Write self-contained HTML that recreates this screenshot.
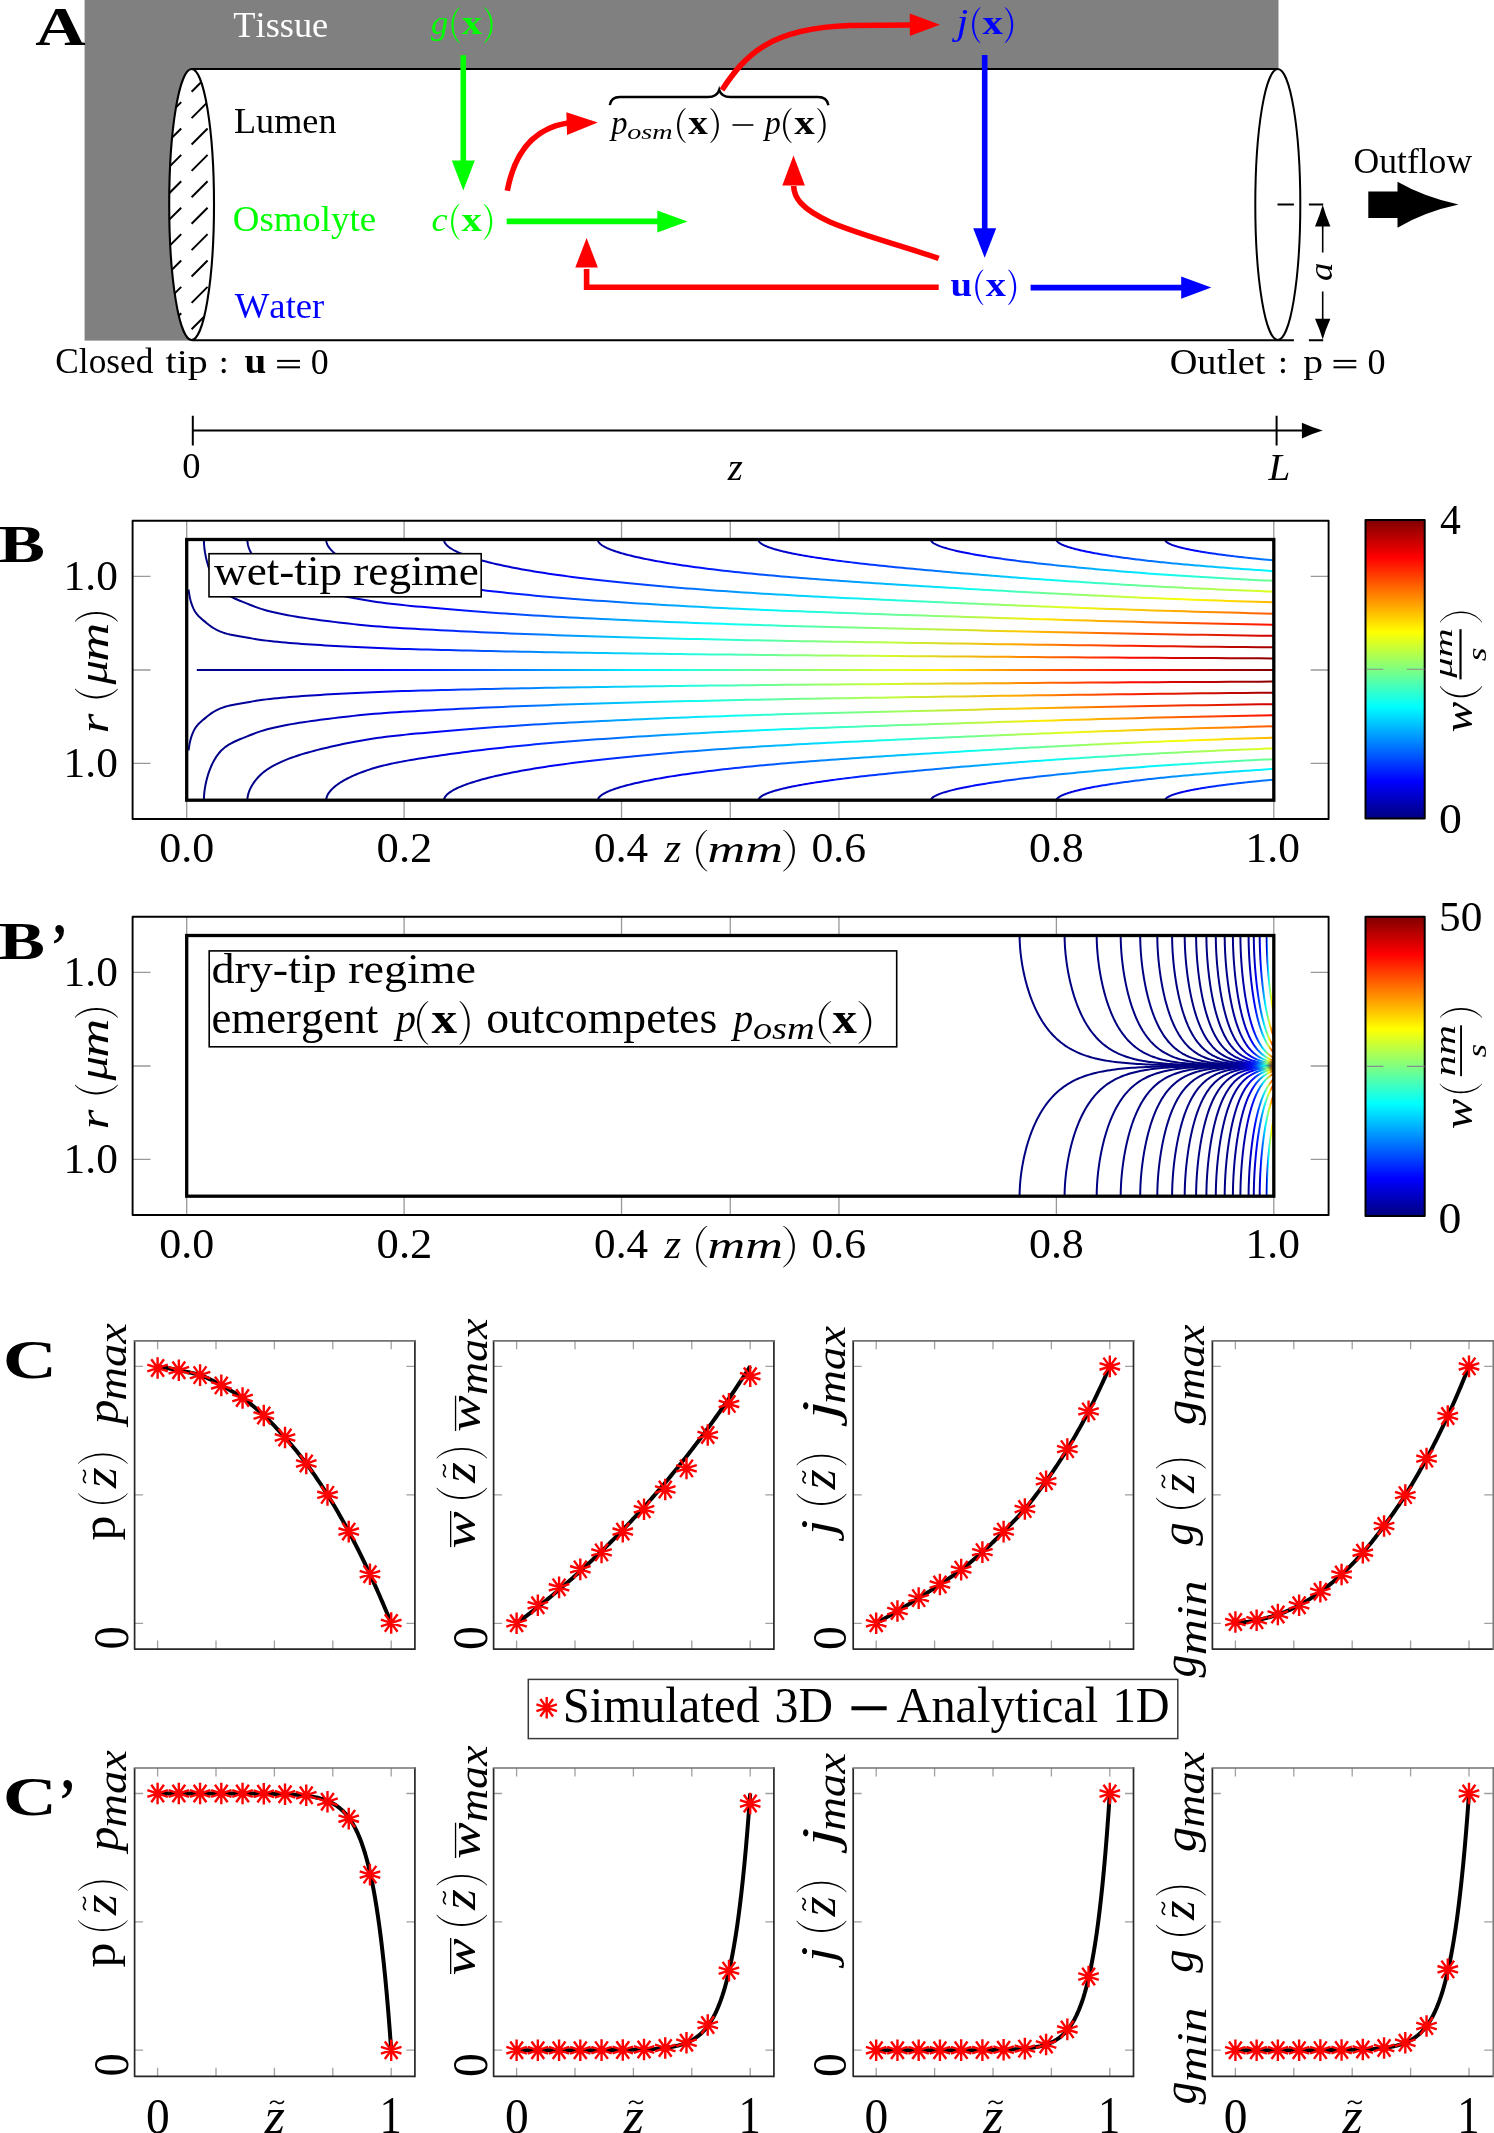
<!DOCTYPE html>
<html><head><meta charset="utf-8"><style>
html,body{margin:0;padding:0;background:#fff;width:1494px;height:2133px;overflow:hidden}
svg{display:block;will-change:transform;font-family:"Liberation Serif",serif;font-kerning:none}
text{font-kerning:none}
</style></head><body>
<svg width="1494" height="2133" viewBox="0 0 1494 2133">
<rect width="1494" height="2133" fill="#fff"/>
<rect x="84.6" y="0" width="1193.9" height="340.6" fill="#808080"/>
<rect x="191.5" y="69" width="1087.7" height="271" fill="#fff"/>
<defs><clipPath id="ce"><ellipse cx="191.6" cy="204.5" rx="22.4" ry="135.5"/></clipPath></defs>
<ellipse cx="191.6" cy="204.5" rx="22.4" ry="135.5" fill="#fff"/>
<path clip-path="url(#ce)" d="M165.2 38.9l16 -16M191.6 38.9l16 -16M165.2 65.3l16 -16M191.6 65.3l16 -16M165.2 91.7l16 -16M191.6 91.7l16 -16M165.2 118.1l16 -16M191.6 118.1l16 -16M165.2 144.5l16 -16M191.6 144.5l16 -16M165.2 170.9l16 -16M191.6 170.9l16 -16M165.2 197.3l16 -16M191.6 197.3l16 -16M165.2 223.7l16 -16M191.6 223.7l16 -16M165.2 250.1l16 -16M191.6 250.1l16 -16M165.2 276.5l16 -16M191.6 276.5l16 -16M165.2 302.9l16 -16M191.6 302.9l16 -16M165.2 329.3l16 -16M191.6 329.3l16 -16M165.2 355.7l16 -16M191.6 355.7l16 -16M165.2 382.1l16 -16M191.6 382.1l16 -16" stroke="#000" stroke-width="2" fill="none"/>
<ellipse cx="191.6" cy="204.5" rx="22.4" ry="135.5" fill="none" stroke="#000" stroke-width="2.1"/>
<ellipse cx="1277.8" cy="204.5" rx="22.5" ry="135.5" fill="none" stroke="#000" stroke-width="2"/>
<path d="M191.6 69H1277.8M191.6 340.2H1277.8" stroke="#000" stroke-width="2"/>
<path d="M1277.5 340.2H1323.2M1277.5 204.6H1323.2" stroke="#000" stroke-width="2" stroke-dasharray="16.4 15"/>
<path d="M1322.7 222V252.5M1322.7 291.6V323" stroke="#000" stroke-width="1.6"/>
<path d="M1322.7 204.8Q1325.39 214.56 1330.4 226.5L1315 226.5Q1320.01 214.56 1322.7 204.8Z" fill="#000"/>
<path d="M1322.7 339.4Q1320.01 330.13 1315 318.8L1330.4 318.8Q1325.39 330.13 1322.7 339.4Z" fill="#000"/>
<text transform="translate(1331.55,281.1) rotate(-90) scale(1.0716,1)" font-size="34.51" font-style="italic">a</text>
<path d="M1368.3 191.4H1397.5V181.8Q1424 197 1458.5 204.6Q1424 212 1397.5 227.8V217.9H1368.3Z" fill="#000"/>
<text transform="translate(1353.54,173.44) scale(0.9697,1)" font-size="36.70">Outflow</text>
<text transform="translate(233.34,37.45) scale(1.0011,1)" font-size="36.32" fill="#fff">Tissue</text>
<text transform="translate(233.96,133.06) scale(1.0286,1)" font-size="35.21">Lumen</text>
<text transform="translate(232.79,230.5) scale(1.0105,1)" font-size="36.46" fill="#00ff00">Osmolyte</text>
<text transform="translate(234.76,317.86) scale(1.0321,1)" font-size="35.53" fill="#0000ff">Water</text>
<text transform="translate(55.35,373.45) scale(0.9887,1)" font-size="35.67">Closed</text>
<text transform="translate(165.61,373.4) scale(1.2157,1)" font-size="32.93">tip</text>
<circle cx="223.7" cy="359.9" r="2.15"/><circle cx="223.7" cy="371.1" r="2.15"/>
<text transform="translate(244.41,373.07) scale(1.1164,1)" font-size="35.02" font-weight="bold">u</text>
<rect x="277.1" y="359.9" width="22.9" height="2"/><rect x="277.1" y="366.3" width="22.9" height="2"/>
<text transform="translate(310.63,374.06) scale(1.0211,1)" font-size="35.12">0</text>
<text transform="translate(1169.63,373.54) scale(1.0412,1)" font-size="36.81">Outlet</text>
<circle cx="1282.9" cy="359.9" r="2.15"/><circle cx="1282.9" cy="371.1" r="2.15"/>
<text transform="translate(1303.16,373.4) scale(1.1800,1)" font-size="33.53">p</text>
<rect x="1333.5" y="359.9" width="22.8" height="2"/><rect x="1333.5" y="366.3" width="22.8" height="2"/>
<text transform="translate(1367.43,374.05) scale(1.0193,1)" font-size="35.42">0</text>
<text transform="translate(430.88,34.04) scale(1.0303,1)" font-size="33.65" font-style="italic" fill="#00ff00">g</text>
<path d="M459.01 7.5C449 15.27 449 35.03 459.01 42.8L460.1 42.8C451.55 35.03 451.55 15.27 460.1 7.5Z" fill="#00ff00"/>
<text transform="translate(461.84,34) scale(1.1840,1)" font-size="34.42" font-weight="bold" fill="#00ff00">x</text>
<path d="M484.99 7.5C495.27 15.27 495.27 35.03 484.99 42.8L483.9 42.8C492.72 35.03 492.72 15.27 483.9 7.5Z" fill="#00ff00"/>
<text transform="translate(431.58,230.77) scale(1.0840,1)" font-size="33.47" font-style="italic" fill="#00ff00">c</text>
<path d="M458.61 204.2C448.6 211.97 448.6 231.73 458.61 239.5L459.7 239.5C451.15 231.73 451.15 211.97 459.7 204.2Z" fill="#00ff00"/>
<text transform="translate(461.44,230.7) scale(1.1840,1)" font-size="34.42" font-weight="bold" fill="#00ff00">x</text>
<path d="M484.59 204.2C494.87 211.97 494.87 231.73 484.59 239.5L483.5 239.5C492.32 231.73 492.32 211.97 483.5 204.2Z" fill="#00ff00"/>
<text transform="translate(956.51,33.78) scale(1.2101,1)" font-size="34.86" font-style="italic" fill="#0000ff">j</text>
<path d="M979.61 7.5C969.6 15.27 969.6 35.03 979.61 42.8L980.7 42.8C972.15 35.03 972.15 15.27 980.7 7.5Z" fill="#0000ff"/>
<text transform="translate(982.44,34) scale(1.1840,1)" font-size="34.42" font-weight="bold" fill="#0000ff">x</text>
<path d="M1005.59 7.5C1015.87 15.27 1015.87 35.03 1005.59 42.8L1004.5 42.8C1013.32 35.03 1013.32 15.27 1004.5 7.5Z" fill="#0000ff"/>
<text transform="translate(950.61,296.08) scale(1.1245,1)" font-size="34.59" font-weight="bold" fill="#0000ff">u</text>
<path d="M982.51 269.8C972.89 277.5 972.89 297.1 982.51 304.8L983.6 304.8C975.43 297.1 975.43 277.5 983.6 269.8Z" fill="#0000ff"/>
<text transform="translate(985.84,296.3) scale(1.1721,1)" font-size="34.42" font-weight="bold" fill="#0000ff">x</text>
<path d="M1008.99 269.8C1018.61 277.5 1018.61 297.1 1008.99 304.8L1007.9 304.8C1016.07 297.1 1016.07 277.5 1007.9 269.8Z" fill="#0000ff"/>
<text transform="translate(611.21,133.95) scale(0.9558,1)" font-size="34.06" font-style="italic">p</text>
<text transform="translate(627.26,138.59) scale(1.3037,1)" font-size="21.62" font-style="italic">osm</text>
<path d="M684.93 108.3C674.49 115.89 674.49 135.21 684.93 142.8L686 142.8C676.99 135.21 676.99 115.89 686 108.3Z"/>
<text transform="translate(688.25,134) scale(1.1737,1)" font-size="33.33" font-weight="bold">x</text>
<path d="M711.07 108.3C721.51 115.89 721.51 135.21 711.07 142.8L710 142.8C719.01 135.21 719.01 115.89 710 108.3Z"/>
<rect x="732.5" y="124.2" width="20.9" height="1.6"/>
<text transform="translate(764.87,133.95) scale(0.9392,1)" font-size="34.06" font-style="italic">p</text>
<path d="M790.93 108.3C780.49 115.89 780.49 135.21 790.93 142.8L792 142.8C782.99 135.21 782.99 115.89 792 108.3Z"/>
<text transform="translate(794.24,134) scale(1.2288,1)" font-size="33.33" font-weight="bold">x</text>
<path d="M817.97 108.3C828.28 115.89 828.28 135.21 817.97 142.8L816.9 142.8C825.78 135.21 825.78 115.89 816.9 108.3Z"/>
<path d="M609.8 105.2Q611 97 620 97H708Q717 97 719.2 89.8Q721.4 97 730.4 97H818Q827 97 828.4 105.2" fill="none" stroke="#000" stroke-width="2.4"/>
<path d="M463.3 55.2V162" stroke="#00ff00" stroke-width="5.6"/>
<path d="M463.3 190.4L451.8 160.6L474.8 160.6Z" fill="#00ff00"/>
<path d="M506.7 221.4H659" stroke="#00ff00" stroke-width="5.6"/>
<path d="M687.5 221.4L657.3 232.4L657.3 210.4Z" fill="#00ff00"/>
<path d="M984.7 55V230" stroke="#0000ff" stroke-width="5.6"/>
<path d="M984.7 257.8L973.2 228.3L996.2 228.3Z" fill="#0000ff"/>
<path d="M1030.6 287.6H1183" stroke="#0000ff" stroke-width="5.6"/>
<path d="M1211.3 287.6L1181.2 298.8L1181.2 276.4Z" fill="#0000ff"/>
<path d="M507.3 190.7C515 150 535 128 568 123" fill="none" stroke="#ff0000" stroke-width="5.6"/>
<path d="M597.8 122.6L567.06 134.89L566.34 112.31Z" fill="#ff0000"/>
<path d="M722 90C745 55 770 28 850 25.5L912 25" fill="none" stroke="#ff0000" stroke-width="5.6"/>
<path d="M940 24.7L909.84 36.1L909.76 13.5Z" fill="#ff0000"/>
<path d="M938.7 287.3H586.6V269" fill="none" stroke="#ff0000" stroke-width="5.6"/>
<path d="M586.6 238L597.9 267.5L575.3 267.5Z" fill="#ff0000"/>
<path d="M938.7 258.4C900 245 860 235 830 222C800 208 794 197 793.7 186" fill="none" stroke="#ff0000" stroke-width="5.6"/>
<path d="M793.5 155.4L804.9 185.46L782.3 185.54Z" fill="#ff0000"/>
<text transform="translate(35.22,44.7) scale(1.2903,1)" font-size="54.08" font-weight="bold">A</text>
<path d="M192.8 430.6H1305M192.8 415.8V445.5M1276.6 415.8V445.5" stroke="#000" stroke-width="2"/>
<path d="M1322.7 430.6Q1313.34 433.33 1301.9 438.4L1301.9 422.8Q1313.34 427.87 1322.7 430.6Z" fill="#000"/>
<text transform="translate(182.31,478.45) scale(1.0240,1)" font-size="35.71">0</text>
<text transform="translate(727.74,480.4) scale(0.9989,1)" font-size="38.78" font-style="italic">z</text>
<text transform="translate(1268.46,479.8) scale(1.0348,1)" font-size="37.88" font-style="italic">L</text>
<path d="M186.7 520.7v17.8M186.7 819v-17.8M404.12 520.7v17.8M404.12 819v-17.8M621.54 520.7v17.8M621.54 819v-17.8M730.25 520.7v17.8M730.25 819v-17.8M838.96 520.7v17.8M838.96 819v-17.8M1056.38 520.7v17.8M1056.38 819v-17.8M1273.8 520.7v17.8M1273.8 819v-17.8M132.6 576.3h17.9M1328.6 576.3h-17.9M132.6 670h17.9M1328.6 670h-17.9M132.6 763.4h17.9M1328.6 763.4h-17.9" stroke="#999" stroke-width="1.3" fill="none"/>
<rect x="132.6" y="520.7" width="1196" height="298.3" fill="none" stroke="#000" stroke-width="1.9" stroke-linejoin="round"/>
<defs><clipPath id="cB"><rect x="186.7" y="539.5" width="1087.1" height="260.7"/></clipPath><clipPath id="cB2"><rect x="186.7" y="935.5" width="1087.1" height="260.7"/></clipPath></defs>
<g clip-path="url(#cB)"><defs><linearGradient id="w0" gradientUnits="userSpaceOnUse" x1="188.55" y1="0" x2="1273.8" y2="0"><stop offset="0.000" stop-color="#000080"/><stop offset="0.002" stop-color="#000081"/><stop offset="0.008" stop-color="#000084"/><stop offset="0.022" stop-color="#00008a"/><stop offset="0.040" stop-color="#000093"/><stop offset="0.065" stop-color="#0000a0"/><stop offset="0.101" stop-color="#0000b2"/><stop offset="0.140" stop-color="#0000d1"/><stop offset="0.186" stop-color="#0000f6"/><stop offset="0.246" stop-color="#0035ff"/><stop offset="0.307" stop-color="#0079ff"/><stop offset="0.377" stop-color="#00c3ff"/><stop offset="0.463" stop-color="#1fffe0"/><stop offset="0.548" stop-color="#77ff88"/><stop offset="0.642" stop-color="#d0ff2f"/><stop offset="0.756" stop-color="#ff9800"/><stop offset="0.867" stop-color="#ff0700"/><stop offset="1.000" stop-color="#890000"/></linearGradient><linearGradient id="w1" gradientUnits="userSpaceOnUse" x1="188.55" y1="0" x2="1273.8" y2="0"><stop offset="0.000" stop-color="#000080"/><stop offset="0.002" stop-color="#000081"/><stop offset="0.008" stop-color="#000084"/><stop offset="0.022" stop-color="#00008a"/><stop offset="0.040" stop-color="#000093"/><stop offset="0.065" stop-color="#0000a0"/><stop offset="0.101" stop-color="#0000b2"/><stop offset="0.140" stop-color="#0000d1"/><stop offset="0.186" stop-color="#0000f6"/><stop offset="0.246" stop-color="#0035ff"/><stop offset="0.307" stop-color="#0079ff"/><stop offset="0.377" stop-color="#00c3ff"/><stop offset="0.463" stop-color="#1fffe0"/><stop offset="0.548" stop-color="#77ff88"/><stop offset="0.642" stop-color="#d0ff2f"/><stop offset="0.756" stop-color="#ff9800"/><stop offset="0.867" stop-color="#ff0700"/><stop offset="1.000" stop-color="#890000"/></linearGradient><linearGradient id="w2" gradientUnits="userSpaceOnUse" x1="203.9" y1="0" x2="1273.8" y2="0"><stop offset="0.000" stop-color="#000080"/><stop offset="0.002" stop-color="#000082"/><stop offset="0.008" stop-color="#000085"/><stop offset="0.022" stop-color="#00008b"/><stop offset="0.040" stop-color="#000094"/><stop offset="0.065" stop-color="#00009f"/><stop offset="0.101" stop-color="#0000b4"/><stop offset="0.140" stop-color="#0000d1"/><stop offset="0.186" stop-color="#0000f4"/><stop offset="0.246" stop-color="#0032ff"/><stop offset="0.307" stop-color="#0072ff"/><stop offset="0.377" stop-color="#00baff"/><stop offset="0.463" stop-color="#12ffed"/><stop offset="0.548" stop-color="#67ff98"/><stop offset="0.642" stop-color="#bfff40"/><stop offset="0.756" stop-color="#ffac00"/><stop offset="0.867" stop-color="#ff1f00"/><stop offset="1.000" stop-color="#a30000"/></linearGradient><linearGradient id="w3" gradientUnits="userSpaceOnUse" x1="203.9" y1="0" x2="1273.8" y2="0"><stop offset="0.000" stop-color="#000080"/><stop offset="0.002" stop-color="#000082"/><stop offset="0.008" stop-color="#000085"/><stop offset="0.022" stop-color="#00008b"/><stop offset="0.040" stop-color="#000094"/><stop offset="0.065" stop-color="#00009f"/><stop offset="0.101" stop-color="#0000b4"/><stop offset="0.140" stop-color="#0000d1"/><stop offset="0.186" stop-color="#0000f4"/><stop offset="0.246" stop-color="#0032ff"/><stop offset="0.307" stop-color="#0072ff"/><stop offset="0.377" stop-color="#00baff"/><stop offset="0.463" stop-color="#12ffed"/><stop offset="0.548" stop-color="#67ff98"/><stop offset="0.642" stop-color="#bfff40"/><stop offset="0.756" stop-color="#ffac00"/><stop offset="0.867" stop-color="#ff1f00"/><stop offset="1.000" stop-color="#a30000"/></linearGradient><linearGradient id="w4" gradientUnits="userSpaceOnUse" x1="247.4" y1="0" x2="1273.8" y2="0"><stop offset="0.000" stop-color="#000081"/><stop offset="0.002" stop-color="#000084"/><stop offset="0.008" stop-color="#000088"/><stop offset="0.022" stop-color="#00008f"/><stop offset="0.040" stop-color="#000097"/><stop offset="0.065" stop-color="#0000a5"/><stop offset="0.101" stop-color="#0000bc"/><stop offset="0.140" stop-color="#0000d7"/><stop offset="0.186" stop-color="#0000fd"/><stop offset="0.246" stop-color="#0036ff"/><stop offset="0.307" stop-color="#0070ff"/><stop offset="0.377" stop-color="#00b2ff"/><stop offset="0.463" stop-color="#04fffb"/><stop offset="0.548" stop-color="#52ffad"/><stop offset="0.642" stop-color="#a5ff5a"/><stop offset="0.756" stop-color="#ffc900"/><stop offset="0.867" stop-color="#ff4600"/><stop offset="1.000" stop-color="#d00000"/></linearGradient><linearGradient id="w5" gradientUnits="userSpaceOnUse" x1="247.4" y1="0" x2="1273.8" y2="0"><stop offset="0.000" stop-color="#000081"/><stop offset="0.002" stop-color="#000084"/><stop offset="0.008" stop-color="#000088"/><stop offset="0.022" stop-color="#00008f"/><stop offset="0.040" stop-color="#000097"/><stop offset="0.065" stop-color="#0000a5"/><stop offset="0.101" stop-color="#0000bc"/><stop offset="0.140" stop-color="#0000d7"/><stop offset="0.186" stop-color="#0000fd"/><stop offset="0.246" stop-color="#0036ff"/><stop offset="0.307" stop-color="#0070ff"/><stop offset="0.377" stop-color="#00b2ff"/><stop offset="0.463" stop-color="#04fffb"/><stop offset="0.548" stop-color="#52ffad"/><stop offset="0.642" stop-color="#a5ff5a"/><stop offset="0.756" stop-color="#ffc900"/><stop offset="0.867" stop-color="#ff4600"/><stop offset="1.000" stop-color="#d00000"/></linearGradient><linearGradient id="w6" gradientUnits="userSpaceOnUse" x1="326.19" y1="0" x2="1273.8" y2="0"><stop offset="0.000" stop-color="#000083"/><stop offset="0.002" stop-color="#000087"/><stop offset="0.008" stop-color="#00008e"/><stop offset="0.022" stop-color="#000098"/><stop offset="0.040" stop-color="#0000a4"/><stop offset="0.065" stop-color="#0000b4"/><stop offset="0.101" stop-color="#0000cb"/><stop offset="0.140" stop-color="#0000e8"/><stop offset="0.186" stop-color="#000eff"/><stop offset="0.246" stop-color="#003fff"/><stop offset="0.307" stop-color="#0073ff"/><stop offset="0.377" stop-color="#00aeff"/><stop offset="0.463" stop-color="#00f6ff"/><stop offset="0.548" stop-color="#3cffc3"/><stop offset="0.642" stop-color="#89ff76"/><stop offset="0.756" stop-color="#ffec00"/><stop offset="0.867" stop-color="#ff7900"/><stop offset="1.000" stop-color="#ff0c00"/></linearGradient><linearGradient id="w7" gradientUnits="userSpaceOnUse" x1="326.19" y1="0" x2="1273.8" y2="0"><stop offset="0.000" stop-color="#000083"/><stop offset="0.002" stop-color="#000087"/><stop offset="0.008" stop-color="#00008e"/><stop offset="0.022" stop-color="#000098"/><stop offset="0.040" stop-color="#0000a4"/><stop offset="0.065" stop-color="#0000b4"/><stop offset="0.101" stop-color="#0000cb"/><stop offset="0.140" stop-color="#0000e8"/><stop offset="0.186" stop-color="#000eff"/><stop offset="0.246" stop-color="#003fff"/><stop offset="0.307" stop-color="#0073ff"/><stop offset="0.377" stop-color="#00aeff"/><stop offset="0.463" stop-color="#00f6ff"/><stop offset="0.548" stop-color="#3cffc3"/><stop offset="0.642" stop-color="#89ff76"/><stop offset="0.756" stop-color="#ffec00"/><stop offset="0.867" stop-color="#ff7900"/><stop offset="1.000" stop-color="#ff0c00"/></linearGradient><linearGradient id="w8" gradientUnits="userSpaceOnUse" x1="443.99" y1="0" x2="1273.8" y2="0"><stop offset="0.000" stop-color="#000087"/><stop offset="0.002" stop-color="#00008d"/><stop offset="0.008" stop-color="#000096"/><stop offset="0.022" stop-color="#0000a3"/><stop offset="0.040" stop-color="#0000b2"/><stop offset="0.065" stop-color="#0000c6"/><stop offset="0.101" stop-color="#0000e0"/><stop offset="0.140" stop-color="#0000fc"/><stop offset="0.186" stop-color="#001fff"/><stop offset="0.246" stop-color="#004aff"/><stop offset="0.307" stop-color="#0077ff"/><stop offset="0.377" stop-color="#00a9ff"/><stop offset="0.463" stop-color="#00e5ff"/><stop offset="0.548" stop-color="#21ffde"/><stop offset="0.642" stop-color="#76ff89"/><stop offset="0.756" stop-color="#e9ff16"/><stop offset="0.867" stop-color="#ffb600"/><stop offset="1.000" stop-color="#ff5800"/></linearGradient><linearGradient id="w9" gradientUnits="userSpaceOnUse" x1="443.99" y1="0" x2="1273.8" y2="0"><stop offset="0.000" stop-color="#000087"/><stop offset="0.002" stop-color="#00008d"/><stop offset="0.008" stop-color="#000096"/><stop offset="0.022" stop-color="#0000a3"/><stop offset="0.040" stop-color="#0000b2"/><stop offset="0.065" stop-color="#0000c6"/><stop offset="0.101" stop-color="#0000e0"/><stop offset="0.140" stop-color="#0000fc"/><stop offset="0.186" stop-color="#001fff"/><stop offset="0.246" stop-color="#004aff"/><stop offset="0.307" stop-color="#0077ff"/><stop offset="0.377" stop-color="#00a9ff"/><stop offset="0.463" stop-color="#00e5ff"/><stop offset="0.548" stop-color="#21ffde"/><stop offset="0.642" stop-color="#76ff89"/><stop offset="0.756" stop-color="#e9ff16"/><stop offset="0.867" stop-color="#ffb600"/><stop offset="1.000" stop-color="#ff5800"/></linearGradient><linearGradient id="w10" gradientUnits="userSpaceOnUse" x1="597.89" y1="0" x2="1273.8" y2="0"><stop offset="0.000" stop-color="#00008b"/><stop offset="0.002" stop-color="#000093"/><stop offset="0.008" stop-color="#00009f"/><stop offset="0.022" stop-color="#0000b0"/><stop offset="0.040" stop-color="#0000c1"/><stop offset="0.065" stop-color="#0000d6"/><stop offset="0.101" stop-color="#0000f0"/><stop offset="0.140" stop-color="#000bff"/><stop offset="0.186" stop-color="#002aff"/><stop offset="0.246" stop-color="#004fff"/><stop offset="0.307" stop-color="#0074ff"/><stop offset="0.377" stop-color="#009cff"/><stop offset="0.463" stop-color="#00cdff"/><stop offset="0.548" stop-color="#0dfff2"/><stop offset="0.642" stop-color="#5affa5"/><stop offset="0.756" stop-color="#b3ff4c"/><stop offset="0.867" stop-color="#fcff03"/><stop offset="1.000" stop-color="#ffb500"/></linearGradient><linearGradient id="w11" gradientUnits="userSpaceOnUse" x1="597.89" y1="0" x2="1273.8" y2="0"><stop offset="0.000" stop-color="#00008b"/><stop offset="0.002" stop-color="#000093"/><stop offset="0.008" stop-color="#00009f"/><stop offset="0.022" stop-color="#0000b0"/><stop offset="0.040" stop-color="#0000c1"/><stop offset="0.065" stop-color="#0000d6"/><stop offset="0.101" stop-color="#0000f0"/><stop offset="0.140" stop-color="#000bff"/><stop offset="0.186" stop-color="#002aff"/><stop offset="0.246" stop-color="#004fff"/><stop offset="0.307" stop-color="#0074ff"/><stop offset="0.377" stop-color="#009cff"/><stop offset="0.463" stop-color="#00cdff"/><stop offset="0.548" stop-color="#0dfff2"/><stop offset="0.642" stop-color="#5affa5"/><stop offset="0.756" stop-color="#b3ff4c"/><stop offset="0.867" stop-color="#fcff03"/><stop offset="1.000" stop-color="#ffb500"/></linearGradient><linearGradient id="w12" gradientUnits="userSpaceOnUse" x1="758.49" y1="0" x2="1273.8" y2="0"><stop offset="0.000" stop-color="#000090"/><stop offset="0.002" stop-color="#000098"/><stop offset="0.008" stop-color="#0000a5"/><stop offset="0.022" stop-color="#0000b5"/><stop offset="0.040" stop-color="#0000c6"/><stop offset="0.065" stop-color="#0000d9"/><stop offset="0.101" stop-color="#0000f1"/><stop offset="0.140" stop-color="#0009ff"/><stop offset="0.186" stop-color="#0022ff"/><stop offset="0.246" stop-color="#0041ff"/><stop offset="0.307" stop-color="#0061ff"/><stop offset="0.377" stop-color="#0089ff"/><stop offset="0.463" stop-color="#00bfff"/><stop offset="0.548" stop-color="#00f5ff"/><stop offset="0.642" stop-color="#31ffce"/><stop offset="0.756" stop-color="#70ff8f"/><stop offset="0.867" stop-color="#a7ff58"/><stop offset="1.000" stop-color="#e4ff1b"/></linearGradient><linearGradient id="w13" gradientUnits="userSpaceOnUse" x1="758.49" y1="0" x2="1273.8" y2="0"><stop offset="0.000" stop-color="#000090"/><stop offset="0.002" stop-color="#000098"/><stop offset="0.008" stop-color="#0000a5"/><stop offset="0.022" stop-color="#0000b5"/><stop offset="0.040" stop-color="#0000c6"/><stop offset="0.065" stop-color="#0000d9"/><stop offset="0.101" stop-color="#0000f1"/><stop offset="0.140" stop-color="#0009ff"/><stop offset="0.186" stop-color="#0022ff"/><stop offset="0.246" stop-color="#0041ff"/><stop offset="0.307" stop-color="#0061ff"/><stop offset="0.377" stop-color="#0089ff"/><stop offset="0.463" stop-color="#00bfff"/><stop offset="0.548" stop-color="#00f5ff"/><stop offset="0.642" stop-color="#31ffce"/><stop offset="0.756" stop-color="#70ff8f"/><stop offset="0.867" stop-color="#a7ff58"/><stop offset="1.000" stop-color="#e4ff1b"/></linearGradient><linearGradient id="w14" gradientUnits="userSpaceOnUse" x1="930.98" y1="0" x2="1273.8" y2="0"><stop offset="0.000" stop-color="#000094"/><stop offset="0.002" stop-color="#00009c"/><stop offset="0.008" stop-color="#0000a8"/><stop offset="0.022" stop-color="#0000b8"/><stop offset="0.040" stop-color="#0000c8"/><stop offset="0.065" stop-color="#0000db"/><stop offset="0.101" stop-color="#0000f2"/><stop offset="0.140" stop-color="#000aff"/><stop offset="0.186" stop-color="#0024ff"/><stop offset="0.246" stop-color="#0043ff"/><stop offset="0.307" stop-color="#0062ff"/><stop offset="0.377" stop-color="#0083ff"/><stop offset="0.463" stop-color="#00abff"/><stop offset="0.548" stop-color="#00d0ff"/><stop offset="0.642" stop-color="#00f6ff"/><stop offset="0.756" stop-color="#21ffde"/><stop offset="0.867" stop-color="#47ffb8"/><stop offset="1.000" stop-color="#72ff8d"/></linearGradient><linearGradient id="w15" gradientUnits="userSpaceOnUse" x1="930.98" y1="0" x2="1273.8" y2="0"><stop offset="0.000" stop-color="#000094"/><stop offset="0.002" stop-color="#00009c"/><stop offset="0.008" stop-color="#0000a8"/><stop offset="0.022" stop-color="#0000b8"/><stop offset="0.040" stop-color="#0000c8"/><stop offset="0.065" stop-color="#0000db"/><stop offset="0.101" stop-color="#0000f2"/><stop offset="0.140" stop-color="#000aff"/><stop offset="0.186" stop-color="#0024ff"/><stop offset="0.246" stop-color="#0043ff"/><stop offset="0.307" stop-color="#0062ff"/><stop offset="0.377" stop-color="#0083ff"/><stop offset="0.463" stop-color="#00abff"/><stop offset="0.548" stop-color="#00d0ff"/><stop offset="0.642" stop-color="#00f6ff"/><stop offset="0.756" stop-color="#21ffde"/><stop offset="0.867" stop-color="#47ffb8"/><stop offset="1.000" stop-color="#72ff8d"/></linearGradient><linearGradient id="w16" gradientUnits="userSpaceOnUse" x1="1056.58" y1="0" x2="1273.8" y2="0"><stop offset="0.000" stop-color="#000098"/><stop offset="0.002" stop-color="#0000a0"/><stop offset="0.008" stop-color="#0000ab"/><stop offset="0.022" stop-color="#0000ba"/><stop offset="0.040" stop-color="#0000c9"/><stop offset="0.065" stop-color="#0000d9"/><stop offset="0.101" stop-color="#0000ed"/><stop offset="0.140" stop-color="#0002ff"/><stop offset="0.186" stop-color="#0017ff"/><stop offset="0.246" stop-color="#002fff"/><stop offset="0.307" stop-color="#0046ff"/><stop offset="0.377" stop-color="#005eff"/><stop offset="0.463" stop-color="#0079ff"/><stop offset="0.548" stop-color="#0092ff"/><stop offset="0.642" stop-color="#00acff"/><stop offset="0.756" stop-color="#00c9ff"/><stop offset="0.867" stop-color="#00e4ff"/><stop offset="1.000" stop-color="#04fffb"/></linearGradient><linearGradient id="w17" gradientUnits="userSpaceOnUse" x1="1056.58" y1="0" x2="1273.8" y2="0"><stop offset="0.000" stop-color="#000098"/><stop offset="0.002" stop-color="#0000a0"/><stop offset="0.008" stop-color="#0000ab"/><stop offset="0.022" stop-color="#0000ba"/><stop offset="0.040" stop-color="#0000c9"/><stop offset="0.065" stop-color="#0000d9"/><stop offset="0.101" stop-color="#0000ed"/><stop offset="0.140" stop-color="#0002ff"/><stop offset="0.186" stop-color="#0017ff"/><stop offset="0.246" stop-color="#002fff"/><stop offset="0.307" stop-color="#0046ff"/><stop offset="0.377" stop-color="#005eff"/><stop offset="0.463" stop-color="#0079ff"/><stop offset="0.548" stop-color="#0092ff"/><stop offset="0.642" stop-color="#00acff"/><stop offset="0.756" stop-color="#00c9ff"/><stop offset="0.867" stop-color="#00e4ff"/><stop offset="1.000" stop-color="#04fffb"/></linearGradient><linearGradient id="w18" gradientUnits="userSpaceOnUse" x1="1165.18" y1="0" x2="1273.8" y2="0"><stop offset="0.000" stop-color="#00009b"/><stop offset="0.002" stop-color="#0000a0"/><stop offset="0.008" stop-color="#0000a8"/><stop offset="0.022" stop-color="#0000b3"/><stop offset="0.040" stop-color="#0000bd"/><stop offset="0.065" stop-color="#0000c8"/><stop offset="0.101" stop-color="#0000d5"/><stop offset="0.140" stop-color="#0000e2"/><stop offset="0.186" stop-color="#0000ef"/><stop offset="0.246" stop-color="#0000fe"/><stop offset="0.307" stop-color="#000eff"/><stop offset="0.377" stop-color="#001cff"/><stop offset="0.463" stop-color="#002dff"/><stop offset="0.548" stop-color="#003dff"/><stop offset="0.642" stop-color="#004dff"/><stop offset="0.756" stop-color="#005fff"/><stop offset="0.867" stop-color="#0070ff"/><stop offset="1.000" stop-color="#0084ff"/></linearGradient><linearGradient id="w19" gradientUnits="userSpaceOnUse" x1="1165.18" y1="0" x2="1273.8" y2="0"><stop offset="0.000" stop-color="#00009b"/><stop offset="0.002" stop-color="#0000a0"/><stop offset="0.008" stop-color="#0000a8"/><stop offset="0.022" stop-color="#0000b3"/><stop offset="0.040" stop-color="#0000bd"/><stop offset="0.065" stop-color="#0000c8"/><stop offset="0.101" stop-color="#0000d5"/><stop offset="0.140" stop-color="#0000e2"/><stop offset="0.186" stop-color="#0000ef"/><stop offset="0.246" stop-color="#0000fe"/><stop offset="0.307" stop-color="#000eff"/><stop offset="0.377" stop-color="#001cff"/><stop offset="0.463" stop-color="#002dff"/><stop offset="0.548" stop-color="#003dff"/><stop offset="0.642" stop-color="#004dff"/><stop offset="0.756" stop-color="#005fff"/><stop offset="0.867" stop-color="#0070ff"/><stop offset="1.000" stop-color="#0084ff"/></linearGradient><linearGradient id="w20" gradientUnits="userSpaceOnUse" x1="196.8" y1="0" x2="1273.8" y2="0"><stop offset="0.000" stop-color="#000084"/><stop offset="0.051" stop-color="#00009e"/><stop offset="0.102" stop-color="#0000bb"/><stop offset="0.169" stop-color="#0000f2"/><stop offset="0.220" stop-color="#0024ff"/><stop offset="0.288" stop-color="#006fff"/><stop offset="0.339" stop-color="#00a6ff"/><stop offset="0.407" stop-color="#00efff"/><stop offset="0.458" stop-color="#25ffda"/><stop offset="0.525" stop-color="#6bff94"/><stop offset="0.576" stop-color="#9cff63"/><stop offset="0.644" stop-color="#ddff22"/><stop offset="0.695" stop-color="#ffe900"/><stop offset="0.763" stop-color="#ff8300"/><stop offset="0.814" stop-color="#ff3c00"/><stop offset="0.881" stop-color="#ed0000"/><stop offset="0.932" stop-color="#bb0000"/><stop offset="1.000" stop-color="#800000"/></linearGradient></defs><path d="M188.55 750.5 188.56 750.38 188.62 749.93 188.72 749.15 188.88 748.05 189.09 746.68 189.35 745.11 189.67 743.39 190.06 741.58 190.51 739.73 191.02 737.87 191.59 736.04 192.23 734.26 192.94 732.53 193.72 730.88 194.57 729.3 195.49 727.8 196.48 726.38 197.54 725.04 198.68 723.81 199.89 722.64 201.18 721.5 202.54 720.34 203.97 719.13 205.49 717.86 207.08 716.54 208.75 715.22 210.5 713.93 212.33 712.68 214.24 711.49 216.23 710.39 218.3 709.36 220.45 708.42 222.68 707.57 225 706.82 227.4 706.14 229.88 705.54 232.45 704.98 235.1 704.45 237.84 703.94 240.67 703.44 243.58 702.94 246.57 702.44 249.65 701.92 252.82 701.38 256.08 700.84 259.43 700.32 262.86 699.83 266.39 699.37 270 698.94 273.7 698.54 277.49 698.15 281.37 697.78 285.35 697.42 289.41 697.08 293.56 696.74 297.81 696.42 302.15 696.11 306.58 695.8 311.1 695.5 315.72 695.2 320.43 694.9 325.23 694.61 330.13 694.32 335.12 694.03 340.21 693.74 345.39 693.46 350.66 693.18 356.03 692.91 361.5 692.64 367.06 692.39 372.72 692.15 378.48 691.91 384.33 691.7 390.28 691.49 396.32 691.3 402.47 691.11 408.71 690.94 415.05 690.76 421.48 690.59 428.02 690.42 434.66 690.26 441.39 690.09 448.22 689.92 455.15 689.74 462.19 689.58 469.32 689.41 476.55 689.25 483.89 689.08 491.32 688.92 498.85 688.76 506.49 688.61 514.23 688.45 522.07 688.3 530.01 688.15 538.05 688 546.19 687.86 554.44 687.72 562.79 687.58 571.24 687.44 579.8 687.3 588.46 687.17 597.22 687.04 606.09 686.91 615.06 686.78 624.13 686.66 633.31 686.53 642.6 686.41 651.98 686.29 661.48 686.17 671.07 686.05 680.78 685.93 690.59 685.82 700.5 685.7 710.52 685.59 720.65 685.48 730.88 685.38 741.22 685.27 751.66 685.17 762.22 685.06 772.87 684.96 783.64 684.87 794.51 684.77 805.5 684.68 816.58 684.59 827.78 684.5 839.09 684.41 850.5 684.32 862.02 684.23 873.65 684.14 885.39 684.05 897.23 683.96 909.19 683.87 921.26 683.78 933.43 683.7 945.71 683.6 958.11 683.51 970.61 683.42 983.23 683.33 995.95 683.24 1008.78 683.14 1021.73 683.05 1034.78 682.96 1047.95 682.87 1061.23 682.78 1074.61 682.7 1088.11 682.61 1101.73 682.52 1115.45 682.43 1129.28 682.34 1143.23 682.26 1157.29 682.18 1171.46 682.1 1185.74 682.02 1200.13 681.95 1214.64 681.88 1229.26 681.81 1243.99 681.74 1258.84 681.67 1273.8 681.6" fill="none" stroke="url(#w0)" stroke-width="2.0"/><path d="M188.55 589.5 188.56 589.62 188.62 590.07 188.72 590.85 188.88 591.95 189.09 593.32 189.35 594.89 189.67 596.61 190.06 598.42 190.51 600.27 191.02 602.13 191.59 603.96 192.23 605.74 192.94 607.47 193.72 609.12 194.57 610.7 195.49 612.2 196.48 613.62 197.54 614.96 198.68 616.19 199.89 617.36 201.18 618.5 202.54 619.66 203.97 620.87 205.49 622.14 207.08 623.46 208.75 624.78 210.5 626.07 212.33 627.32 214.24 628.51 216.23 629.61 218.3 630.64 220.45 631.58 222.68 632.43 225 633.18 227.4 633.86 229.88 634.46 232.45 635.02 235.1 635.55 237.84 636.06 240.67 636.56 243.58 637.06 246.57 637.56 249.65 638.08 252.82 638.62 256.08 639.16 259.43 639.68 262.86 640.17 266.39 640.63 270 641.06 273.7 641.46 277.49 641.85 281.37 642.22 285.35 642.58 289.41 642.92 293.56 643.26 297.81 643.58 302.15 643.89 306.58 644.2 311.1 644.5 315.72 644.8 320.43 645.1 325.23 645.39 330.13 645.68 335.12 645.97 340.21 646.26 345.39 646.54 350.66 646.82 356.03 647.09 361.5 647.36 367.06 647.61 372.72 647.85 378.48 648.09 384.33 648.3 390.28 648.51 396.32 648.7 402.47 648.89 408.71 649.06 415.05 649.24 421.48 649.41 428.02 649.58 434.66 649.74 441.39 649.91 448.22 650.08 455.15 650.26 462.19 650.42 469.32 650.59 476.55 650.75 483.89 650.92 491.32 651.08 498.85 651.24 506.49 651.39 514.23 651.55 522.07 651.7 530.01 651.85 538.05 652 546.19 652.14 554.44 652.28 562.79 652.42 571.24 652.56 579.8 652.7 588.46 652.83 597.22 652.96 606.09 653.09 615.06 653.22 624.13 653.34 633.31 653.47 642.6 653.59 651.98 653.71 661.48 653.83 671.07 653.95 680.78 654.07 690.59 654.18 700.5 654.3 710.52 654.41 720.65 654.52 730.88 654.62 741.22 654.73 751.66 654.83 762.22 654.94 772.87 655.04 783.64 655.13 794.51 655.23 805.5 655.32 816.58 655.41 827.78 655.5 839.09 655.59 850.5 655.68 862.02 655.77 873.65 655.86 885.39 655.95 897.23 656.04 909.19 656.13 921.26 656.22 933.43 656.3 945.71 656.4 958.11 656.49 970.61 656.58 983.23 656.67 995.95 656.76 1008.78 656.86 1021.73 656.95 1034.78 657.04 1047.95 657.13 1061.23 657.22 1074.61 657.3 1088.11 657.39 1101.73 657.48 1115.45 657.57 1129.28 657.66 1143.23 657.74 1157.29 657.82 1171.46 657.9 1185.74 657.98 1200.13 658.05 1214.64 658.12 1229.26 658.19 1243.99 658.26 1258.84 658.33 1273.8 658.4" fill="none" stroke="url(#w1)" stroke-width="2.0"/><path d="M203.9 800.35 203.91 798.91 203.97 797.24 204.07 795.46 204.22 793.59 204.43 791.65 204.69 789.63 205.01 787.56 205.39 785.42 205.83 783.23 206.33 781 206.9 778.74 207.53 776.45 208.23 774.15 209 771.84 209.84 769.54 210.74 767.27 211.72 765.03 212.77 762.84 213.89 760.71 215.08 758.65 216.35 756.67 217.69 754.77 219.11 752.97 220.6 751.27 222.17 749.67 223.81 748.19 225.54 746.83 227.34 745.57 229.22 744.4 231.18 743.3 233.23 742.25 235.35 741.24 237.55 740.25 239.83 739.28 242.2 738.31 244.65 737.33 247.18 736.33 249.8 735.3 252.5 734.24 255.28 733.18 258.15 732.15 261.1 731.15 264.14 730.21 267.27 729.33 270.48 728.49 273.78 727.69 277.16 726.92 280.63 726.19 284.2 725.47 287.85 724.79 291.58 724.12 295.41 723.47 299.33 722.84 303.33 722.22 307.43 721.62 311.62 721.02 315.89 720.43 320.26 719.85 324.72 719.27 329.27 718.7 333.91 718.12 338.65 717.55 343.48 716.98 348.4 716.43 353.41 715.88 358.52 715.35 363.72 714.84 369.01 714.34 374.4 713.87 379.89 713.42 385.47 712.99 391.14 712.59 396.91 712.21 402.77 711.85 408.73 711.5 414.79 711.16 420.94 710.82 427.19 710.49 433.54 710.16 439.98 709.83 446.52 709.49 453.16 709.15 459.9 708.82 466.73 708.49 473.67 708.16 480.7 707.84 487.83 707.52 495.06 707.21 502.39 706.9 509.82 706.59 517.34 706.29 524.97 705.99 532.7 705.7 540.53 705.41 548.46 705.13 556.49 704.85 564.62 704.57 572.85 704.3 581.18 704.04 589.62 703.77 598.15 703.52 606.79 703.26 615.53 703.01 624.38 702.77 633.32 702.52 642.37 702.28 651.52 702.04 660.78 701.8 670.14 701.57 679.6 701.34 689.17 701.11 698.84 700.89 708.61 700.67 718.49 700.46 728.47 700.24 738.56 700.04 748.75 699.83 759.05 699.63 769.45 699.43 779.96 699.24 790.57 699.05 801.29 698.87 812.12 698.69 823.05 698.51 834.09 698.33 845.23 698.16 856.49 697.98 867.84 697.81 879.31 697.64 890.88 697.46 902.56 697.29 914.35 697.12 926.24 696.94 938.24 696.77 950.35 696.59 962.57 696.41 974.9 696.23 987.34 696.05 999.88 695.87 1012.53 695.69 1025.29 695.51 1038.16 695.33 1051.14 695.16 1064.23 694.99 1077.43 694.81 1090.74 694.64 1104.16 694.47 1117.69 694.29 1131.33 694.13 1145.07 693.96 1158.93 693.81 1172.9 693.65 1186.98 693.51 1201.18 693.36 1215.48 693.22 1229.89 693.08 1244.42 692.94 1259.05 692.81 1273.8 692.68" fill="none" stroke="url(#w2)" stroke-width="2.0"/><path d="M203.9 539.65 203.91 541.09 203.97 542.76 204.07 544.54 204.22 546.41 204.43 548.35 204.69 550.37 205.01 552.44 205.39 554.58 205.83 556.77 206.33 559 206.9 561.26 207.53 563.55 208.23 565.85 209 568.16 209.84 570.46 210.74 572.73 211.72 574.97 212.77 577.16 213.89 579.29 215.08 581.35 216.35 583.33 217.69 585.23 219.11 587.03 220.6 588.73 222.17 590.33 223.81 591.81 225.54 593.17 227.34 594.43 229.22 595.6 231.18 596.7 233.23 597.75 235.35 598.76 237.55 599.75 239.83 600.72 242.2 601.69 244.65 602.67 247.18 603.67 249.8 604.7 252.5 605.76 255.28 606.82 258.15 607.85 261.1 608.85 264.14 609.79 267.27 610.67 270.48 611.51 273.78 612.31 277.16 613.08 280.63 613.81 284.2 614.53 287.85 615.21 291.58 615.88 295.41 616.53 299.33 617.16 303.33 617.78 307.43 618.38 311.62 618.98 315.89 619.57 320.26 620.15 324.72 620.73 329.27 621.3 333.91 621.88 338.65 622.45 343.48 623.02 348.4 623.57 353.41 624.12 358.52 624.65 363.72 625.16 369.01 625.66 374.4 626.13 379.89 626.58 385.47 627.01 391.14 627.41 396.91 627.79 402.77 628.15 408.73 628.5 414.79 628.84 420.94 629.18 427.19 629.51 433.54 629.84 439.98 630.17 446.52 630.51 453.16 630.85 459.9 631.18 466.73 631.51 473.67 631.84 480.7 632.16 487.83 632.48 495.06 632.79 502.39 633.1 509.82 633.41 517.34 633.71 524.97 634.01 532.7 634.3 540.53 634.59 548.46 634.87 556.49 635.15 564.62 635.43 572.85 635.7 581.18 635.96 589.62 636.23 598.15 636.48 606.79 636.74 615.53 636.99 624.38 637.23 633.32 637.48 642.37 637.72 651.52 637.96 660.78 638.2 670.14 638.43 679.6 638.66 689.17 638.89 698.84 639.11 708.61 639.33 718.49 639.54 728.47 639.76 738.56 639.96 748.75 640.17 759.05 640.37 769.45 640.57 779.96 640.76 790.57 640.95 801.29 641.13 812.12 641.31 823.05 641.49 834.09 641.67 845.23 641.84 856.49 642.02 867.84 642.19 879.31 642.36 890.88 642.54 902.56 642.71 914.35 642.88 926.24 643.06 938.24 643.23 950.35 643.41 962.57 643.59 974.9 643.77 987.34 643.95 999.88 644.13 1012.53 644.31 1025.29 644.49 1038.16 644.67 1051.14 644.84 1064.23 645.01 1077.43 645.19 1090.74 645.36 1104.16 645.53 1117.69 645.71 1131.33 645.87 1145.07 646.04 1158.93 646.19 1172.9 646.35 1186.98 646.49 1201.18 646.64 1215.48 646.78 1229.89 646.92 1244.42 647.06 1259.05 647.19 1273.8 647.32" fill="none" stroke="url(#w3)" stroke-width="2.0"/><path d="M247.4 800.35 247.41 799.55 247.46 798.63 247.56 797.66 247.71 796.64 247.9 795.59 248.16 794.51 248.46 793.4 248.83 792.26 249.25 791.1 249.73 789.92 250.28 788.71 250.88 787.49 251.55 786.24 252.29 784.99 253.09 783.72 253.96 782.44 254.9 781.15 255.9 779.86 256.98 778.58 258.12 777.29 259.34 776.02 260.63 774.77 261.99 773.53 263.42 772.33 264.92 771.15 266.5 770 268.16 768.88 269.89 767.77 271.69 766.69 273.57 765.63 275.53 764.58 277.57 763.55 279.68 762.55 281.87 761.56 284.14 760.58 286.49 759.63 288.92 758.68 291.43 757.76 294.02 756.84 296.69 755.94 299.44 755.05 302.27 754.17 305.19 753.3 308.19 752.44 311.27 751.59 314.43 750.74 317.68 749.9 321.01 749.07 324.43 748.24 327.93 747.41 331.52 746.58 335.19 745.75 338.94 744.92 342.79 744.1 346.72 743.28 350.73 742.48 354.84 741.7 359.03 740.93 363.31 740.18 367.67 739.46 372.13 738.76 376.67 738.09 381.3 737.44 386.02 736.83 390.83 736.24 395.73 735.68 400.72 735.14 405.8 734.62 410.97 734.12 416.23 733.62 421.58 733.13 427.03 732.64 432.56 732.15 438.19 731.66 443.9 731.16 449.71 730.66 455.62 730.17 461.61 729.68 467.7 729.19 473.88 728.71 480.16 728.23 486.53 727.76 492.99 727.29 499.55 726.83 506.2 726.38 512.94 725.93 519.78 725.48 526.72 725.05 533.75 724.61 540.88 724.19 548.1 723.77 555.42 723.35 562.83 722.95 570.34 722.55 577.95 722.15 585.65 721.76 593.45 721.38 601.35 721 609.34 720.63 617.43 720.26 625.62 719.89 633.91 719.53 642.3 719.17 650.78 718.81 659.36 718.46 668.04 718.12 676.82 717.78 685.7 717.44 694.68 717.11 703.76 716.78 712.93 716.46 722.21 716.14 731.59 715.83 741.06 715.52 750.64 715.22 760.32 714.92 770.1 714.63 779.98 714.35 789.96 714.07 800.04 713.8 810.22 713.53 820.5 713.27 830.89 713 841.38 712.74 851.97 712.48 862.66 712.23 873.45 711.97 884.35 711.71 895.35 711.46 906.45 711.2 917.65 710.94 928.96 710.68 940.37 710.42 951.89 710.16 963.5 709.89 975.23 709.63 987.05 709.36 998.98 709.09 1011.02 708.83 1023.15 708.56 1035.4 708.3 1047.74 708.04 1060.2 707.79 1072.75 707.53 1085.42 707.28 1098.18 707.02 1111.06 706.77 1124.03 706.52 1137.12 706.27 1150.31 706.03 1163.6 705.8 1177.01 705.58 1190.51 705.36 1204.13 705.15 1217.85 704.94 1231.68 704.74 1245.61 704.54 1259.65 704.34 1273.8 704.15" fill="none" stroke="url(#w4)" stroke-width="2.0"/><path d="M247.4 539.65 247.41 540.45 247.46 541.37 247.56 542.34 247.71 543.36 247.9 544.41 248.16 545.49 248.46 546.6 248.83 547.74 249.25 548.9 249.73 550.08 250.28 551.29 250.88 552.51 251.55 553.76 252.29 555.01 253.09 556.28 253.96 557.56 254.9 558.85 255.9 560.14 256.98 561.42 258.12 562.71 259.34 563.98 260.63 565.23 261.99 566.47 263.42 567.67 264.92 568.85 266.5 570 268.16 571.12 269.89 572.23 271.69 573.31 273.57 574.37 275.53 575.42 277.57 576.45 279.68 577.45 281.87 578.44 284.14 579.42 286.49 580.37 288.92 581.32 291.43 582.24 294.02 583.16 296.69 584.06 299.44 584.95 302.27 585.83 305.19 586.7 308.19 587.56 311.27 588.41 314.43 589.26 317.68 590.1 321.01 590.93 324.43 591.76 327.93 592.59 331.52 593.42 335.19 594.25 338.94 595.08 342.79 595.9 346.72 596.72 350.73 597.52 354.84 598.3 359.03 599.07 363.31 599.82 367.67 600.54 372.13 601.24 376.67 601.91 381.3 602.56 386.02 603.17 390.83 603.76 395.73 604.32 400.72 604.86 405.8 605.38 410.97 605.88 416.23 606.38 421.58 606.87 427.03 607.36 432.56 607.85 438.19 608.34 443.9 608.84 449.71 609.34 455.62 609.83 461.61 610.32 467.7 610.81 473.88 611.29 480.16 611.77 486.53 612.24 492.99 612.71 499.55 613.17 506.2 613.62 512.94 614.07 519.78 614.52 526.72 614.95 533.75 615.39 540.88 615.81 548.1 616.23 555.42 616.65 562.83 617.05 570.34 617.45 577.95 617.85 585.65 618.24 593.45 618.62 601.35 619 609.34 619.37 617.43 619.74 625.62 620.11 633.91 620.47 642.3 620.83 650.78 621.19 659.36 621.54 668.04 621.88 676.82 622.22 685.7 622.56 694.68 622.89 703.76 623.22 712.93 623.54 722.21 623.86 731.59 624.17 741.06 624.48 750.64 624.78 760.32 625.08 770.1 625.37 779.98 625.65 789.96 625.93 800.04 626.2 810.22 626.47 820.5 626.73 830.89 627 841.38 627.26 851.97 627.52 862.66 627.77 873.45 628.03 884.35 628.29 895.35 628.54 906.45 628.8 917.65 629.06 928.96 629.32 940.37 629.58 951.89 629.84 963.5 630.11 975.23 630.37 987.05 630.64 998.98 630.91 1011.02 631.17 1023.15 631.44 1035.4 631.7 1047.74 631.96 1060.2 632.21 1072.75 632.47 1085.42 632.72 1098.18 632.98 1111.06 633.23 1124.03 633.48 1137.12 633.73 1150.31 633.97 1163.6 634.2 1177.01 634.42 1190.51 634.64 1204.13 634.85 1217.85 635.06 1231.68 635.26 1245.61 635.46 1259.65 635.66 1273.8 635.85" fill="none" stroke="url(#w5)" stroke-width="2.0"/><path d="M326.19 800.35 326.21 799.83 326.26 799.22 326.35 798.59 326.48 797.92 326.66 797.24 326.89 796.54 327.18 795.82 327.51 795.09 327.9 794.35 328.35 793.6 328.85 792.83 329.41 792.06 330.03 791.27 330.71 790.48 331.45 789.68 332.26 788.87 333.12 788.05 334.05 787.23 335.04 786.4 336.1 785.56 337.22 784.72 338.41 783.87 339.66 783.02 340.99 782.17 342.38 781.32 343.83 780.46 345.36 779.6 346.96 778.75 348.62 777.89 350.36 777.04 352.17 776.19 354.05 775.34 356 774.5 358.02 773.66 360.12 772.83 362.29 772.01 364.53 771.19 366.85 770.39 369.24 769.6 371.7 768.82 374.24 768.05 376.86 767.3 379.55 766.56 382.32 765.84 385.16 765.13 388.08 764.45 391.08 763.78 394.16 763.13 397.31 762.49 400.54 761.86 403.86 761.24 407.25 760.64 410.71 760.04 414.26 759.44 417.89 758.85 421.6 758.27 425.39 757.68 429.25 757.09 433.2 756.5 437.24 755.91 441.35 755.31 445.54 754.7 449.82 754.09 454.18 753.49 458.62 752.89 463.14 752.29 467.75 751.7 472.44 751.11 477.21 750.52 482.07 749.94 487.01 749.36 492.03 748.78 497.14 748.21 502.34 747.65 507.62 747.09 512.98 746.54 518.43 745.99 523.96 745.44 529.59 744.9 535.29 744.37 541.09 743.84 546.97 743.32 552.93 742.8 558.99 742.29 565.13 741.79 571.35 741.29 577.67 740.8 584.07 740.31 590.56 739.83 597.14 739.36 603.81 738.89 610.57 738.43 617.41 737.96 624.34 737.51 631.37 737.05 638.48 736.6 645.68 736.15 652.97 735.71 660.35 735.28 667.82 734.84 675.38 734.41 683.03 733.99 690.78 733.57 698.61 733.16 706.53 732.75 714.55 732.35 722.65 731.95 730.85 731.56 739.14 731.18 747.52 730.8 755.99 730.42 764.56 730.05 773.21 729.69 781.96 729.34 790.8 728.99 799.74 728.64 808.77 728.31 817.89 727.97 827.1 727.64 836.41 727.31 845.81 726.98 855.3 726.66 864.89 726.34 874.57 726.01 884.35 725.69 894.22 725.37 904.19 725.04 914.25 724.72 924.4 724.39 934.65 724.07 944.99 723.74 955.43 723.4 965.97 723.07 976.6 722.73 987.33 722.39 998.15 722.06 1009.07 721.72 1020.08 721.39 1031.19 721.06 1042.4 720.73 1053.7 720.41 1065.1 720.09 1076.59 719.76 1088.19 719.44 1099.88 719.12 1111.67 718.8 1123.55 718.48 1135.53 718.18 1147.61 717.87 1159.79 717.58 1172.06 717.3 1184.44 717.02 1196.91 716.75 1209.48 716.49 1222.14 716.22 1234.91 715.97 1247.77 715.72 1260.74 715.47 1273.8 715.23" fill="none" stroke="url(#w6)" stroke-width="2.0"/><path d="M326.19 539.65 326.21 540.17 326.26 540.78 326.35 541.41 326.48 542.08 326.66 542.76 326.89 543.46 327.18 544.18 327.51 544.91 327.9 545.65 328.35 546.4 328.85 547.17 329.41 547.94 330.03 548.73 330.71 549.52 331.45 550.32 332.26 551.13 333.12 551.95 334.05 552.77 335.04 553.6 336.1 554.44 337.22 555.28 338.41 556.13 339.66 556.98 340.99 557.83 342.38 558.68 343.83 559.54 345.36 560.4 346.96 561.25 348.62 562.11 350.36 562.96 352.17 563.81 354.05 564.66 356 565.5 358.02 566.34 360.12 567.17 362.29 567.99 364.53 568.81 366.85 569.61 369.24 570.4 371.7 571.18 374.24 571.95 376.86 572.7 379.55 573.44 382.32 574.16 385.16 574.87 388.08 575.55 391.08 576.22 394.16 576.87 397.31 577.51 400.54 578.14 403.86 578.76 407.25 579.36 410.71 579.96 414.26 580.56 417.89 581.15 421.6 581.73 425.39 582.32 429.25 582.91 433.2 583.5 437.24 584.09 441.35 584.69 445.54 585.3 449.82 585.91 454.18 586.51 458.62 587.11 463.14 587.71 467.75 588.3 472.44 588.89 477.21 589.48 482.07 590.06 487.01 590.64 492.03 591.22 497.14 591.79 502.34 592.35 507.62 592.91 512.98 593.46 518.43 594.01 523.96 594.56 529.59 595.1 535.29 595.63 541.09 596.16 546.97 596.68 552.93 597.2 558.99 597.71 565.13 598.21 571.35 598.71 577.67 599.2 584.07 599.69 590.56 600.17 597.14 600.64 603.81 601.11 610.57 601.57 617.41 602.04 624.34 602.49 631.37 602.95 638.48 603.4 645.68 603.85 652.97 604.29 660.35 604.72 667.82 605.16 675.38 605.59 683.03 606.01 690.78 606.43 698.61 606.84 706.53 607.25 714.55 607.65 722.65 608.05 730.85 608.44 739.14 608.82 747.52 609.2 755.99 609.58 764.56 609.95 773.21 610.31 781.96 610.66 790.8 611.01 799.74 611.36 808.77 611.69 817.89 612.03 827.1 612.36 836.41 612.69 845.81 613.02 855.3 613.34 864.89 613.66 874.57 613.99 884.35 614.31 894.22 614.63 904.19 614.96 914.25 615.28 924.4 615.61 934.65 615.93 944.99 616.26 955.43 616.6 965.97 616.93 976.6 617.27 987.33 617.61 998.15 617.94 1009.07 618.28 1020.08 618.61 1031.19 618.94 1042.4 619.27 1053.7 619.59 1065.1 619.91 1076.59 620.24 1088.19 620.56 1099.88 620.88 1111.67 621.2 1123.55 621.52 1135.53 621.82 1147.61 622.13 1159.79 622.42 1172.06 622.7 1184.44 622.98 1196.91 623.25 1209.48 623.51 1222.14 623.78 1234.91 624.03 1247.77 624.28 1260.74 624.53 1273.8 624.77" fill="none" stroke="url(#w7)" stroke-width="2.0"/><path d="M443.99 800.35 444 799.99 444.04 799.59 444.12 799.16 444.24 798.71 444.4 798.25 444.6 797.78 444.85 797.3 445.14 796.81 445.49 796.32 445.88 795.81 446.32 795.3 446.81 794.79 447.35 794.27 447.95 793.74 448.6 793.21 449.3 792.68 450.06 792.14 450.87 791.6 451.74 791.05 452.66 790.5 453.65 789.94 454.69 789.39 455.78 788.83 456.94 788.26 458.16 787.7 459.44 787.13 460.77 786.56 462.17 785.98 463.63 785.41 465.15 784.83 466.74 784.25 468.38 783.67 470.09 783.09 471.86 782.51 473.7 781.93 475.6 781.34 477.56 780.76 479.59 780.17 481.68 779.58 483.84 779 486.06 778.41 488.36 777.83 490.71 777.24 493.14 776.65 495.63 776.07 498.19 775.49 500.81 774.9 503.51 774.32 506.27 773.74 509.1 773.16 512 772.58 514.97 772 518 771.43 521.11 770.85 524.29 770.28 527.53 769.71 530.85 769.14 534.24 768.58 537.7 768.02 541.23 767.46 544.83 766.9 548.5 766.34 552.25 765.79 556.06 765.24 559.95 764.7 563.91 764.16 567.95 763.62 572.05 763.08 576.23 762.55 580.49 762.02 584.81 761.49 589.21 760.97 593.69 760.46 598.24 759.94 602.86 759.43 607.56 758.92 612.33 758.41 617.18 757.91 622.1 757.41 627.1 756.9 632.17 756.41 637.32 755.91 642.54 755.42 647.84 754.93 653.22 754.44 658.67 753.96 664.2 753.48 669.81 753 675.5 752.53 681.26 752.06 687.1 751.59 693.01 751.13 699.01 750.68 705.08 750.22 711.23 749.77 717.45 749.33 723.76 748.89 730.15 748.45 736.61 748.02 743.15 747.59 749.77 747.17 756.47 746.75 763.25 746.34 770.11 745.93 777.05 745.53 784.07 745.13 791.17 744.74 798.34 744.36 805.6 743.98 812.94 743.6 820.36 743.22 827.86 742.85 835.44 742.48 843.1 742.11 850.85 741.75 858.67 741.38 866.57 741.02 874.56 740.65 882.63 740.29 890.78 739.92 899.01 739.56 907.33 739.19 915.72 738.82 924.2 738.46 932.76 738.09 941.41 737.71 950.13 737.34 958.94 736.96 967.83 736.57 976.81 736.19 985.87 735.81 995.01 735.43 1004.24 735.05 1013.54 734.67 1022.94 734.29 1032.41 733.92 1041.97 733.55 1051.62 733.18 1061.35 732.82 1071.16 732.45 1081.06 732.09 1091.04 731.72 1101.11 731.35 1111.26 730.99 1121.5 730.63 1131.82 730.28 1142.23 729.94 1152.72 729.6 1163.3 729.27 1173.96 728.95 1184.71 728.64 1195.55 728.33 1206.47 728.03 1217.47 727.73 1228.57 727.44 1239.74 727.15 1251.01 726.86 1262.36 726.58 1273.8 726.31" fill="none" stroke="url(#w8)" stroke-width="2.0"/><path d="M443.99 539.65 444 540.01 444.04 540.41 444.12 540.84 444.24 541.29 444.4 541.75 444.6 542.22 444.85 542.7 445.14 543.19 445.49 543.68 445.88 544.19 446.32 544.7 446.81 545.21 447.35 545.73 447.95 546.26 448.6 546.79 449.3 547.32 450.06 547.86 450.87 548.4 451.74 548.95 452.66 549.5 453.65 550.06 454.69 550.61 455.78 551.17 456.94 551.74 458.16 552.3 459.44 552.87 460.77 553.44 462.17 554.02 463.63 554.59 465.15 555.17 466.74 555.75 468.38 556.33 470.09 556.91 471.86 557.49 473.7 558.07 475.6 558.66 477.56 559.24 479.59 559.83 481.68 560.42 483.84 561 486.06 561.59 488.36 562.17 490.71 562.76 493.14 563.35 495.63 563.93 498.19 564.51 500.81 565.1 503.51 565.68 506.27 566.26 509.1 566.84 512 567.42 514.97 568 518 568.57 521.11 569.15 524.29 569.72 527.53 570.29 530.85 570.86 534.24 571.42 537.7 571.98 541.23 572.54 544.83 573.1 548.5 573.66 552.25 574.21 556.06 574.76 559.95 575.3 563.91 575.84 567.95 576.38 572.05 576.92 576.23 577.45 580.49 577.98 584.81 578.51 589.21 579.03 593.69 579.54 598.24 580.06 602.86 580.57 607.56 581.08 612.33 581.59 617.18 582.09 622.1 582.59 627.1 583.1 632.17 583.59 637.32 584.09 642.54 584.58 647.84 585.07 653.22 585.56 658.67 586.04 664.2 586.52 669.81 587 675.5 587.47 681.26 587.94 687.1 588.41 693.01 588.87 699.01 589.32 705.08 589.78 711.23 590.23 717.45 590.67 723.76 591.11 730.15 591.55 736.61 591.98 743.15 592.41 749.77 592.83 756.47 593.25 763.25 593.66 770.11 594.07 777.05 594.47 784.07 594.87 791.17 595.26 798.34 595.64 805.6 596.02 812.94 596.4 820.36 596.78 827.86 597.15 835.44 597.52 843.1 597.89 850.85 598.25 858.67 598.62 866.57 598.98 874.56 599.35 882.63 599.71 890.78 600.08 899.01 600.44 907.33 600.81 915.72 601.18 924.2 601.54 932.76 601.91 941.41 602.29 950.13 602.66 958.94 603.04 967.83 603.43 976.81 603.81 985.87 604.19 995.01 604.57 1004.24 604.95 1013.54 605.33 1022.94 605.71 1032.41 606.08 1041.97 606.45 1051.62 606.82 1061.35 607.18 1071.16 607.55 1081.06 607.91 1091.04 608.28 1101.11 608.65 1111.26 609.01 1121.5 609.37 1131.82 609.72 1142.23 610.06 1152.72 610.4 1163.3 610.73 1173.96 611.05 1184.71 611.36 1195.55 611.67 1206.47 611.97 1217.47 612.27 1228.57 612.56 1239.74 612.85 1251.01 613.14 1262.36 613.42 1273.8 613.69" fill="none" stroke="url(#w9)" stroke-width="2.0"/><path d="M597.89 800.35 597.9 800.08 597.93 799.78 598 799.46 598.09 799.13 598.22 798.78 598.39 798.43 598.59 798.08 598.83 797.71 599.11 797.34 599.42 796.97 599.78 796.59 600.18 796.21 600.63 795.82 601.11 795.43 601.64 795.04 602.21 794.64 602.83 794.24 603.49 793.84 604.2 793.44 604.95 793.03 605.75 792.62 606.6 792.2 607.5 791.78 608.44 791.37 609.43 790.95 610.47 790.52 611.56 790.1 612.7 789.67 613.89 789.24 615.13 788.81 616.41 788.38 617.76 787.94 619.15 787.51 620.59 787.07 622.08 786.63 623.63 786.2 625.23 785.76 626.88 785.31 628.59 784.87 630.35 784.43 632.16 783.98 634.03 783.54 635.95 783.09 637.92 782.65 639.95 782.2 642.03 781.75 644.17 781.3 646.37 780.86 648.62 780.41 650.92 779.96 653.28 779.51 655.7 779.06 658.17 778.62 660.71 778.17 663.29 777.72 665.94 777.27 668.64 776.82 671.4 776.38 674.22 775.93 677.09 775.49 680.03 775.04 683.02 774.6 686.07 774.16 689.18 773.71 692.34 773.27 695.57 772.83 698.85 772.39 702.2 771.96 705.6 771.52 709.07 771.09 712.59 770.65 716.18 770.22 719.82 769.79 723.53 769.36 727.29 768.94 731.12 768.51 735.01 768.09 738.95 767.67 742.96 767.25 747.03 766.83 751.17 766.42 755.36 766.01 759.62 765.6 763.93 765.19 768.31 764.78 772.76 764.38 777.26 763.99 781.83 763.59 786.46 763.2 791.15 762.81 795.91 762.43 800.73 762.04 805.61 761.66 810.55 761.28 815.56 760.9 820.64 760.52 825.77 760.15 830.97 759.77 836.24 759.4 841.57 759.03 846.96 758.65 852.42 758.28 857.94 757.91 863.53 757.54 869.18 757.17 874.89 756.8 880.68 756.43 886.52 756.06 892.43 755.68 898.41 755.31 904.46 754.94 910.56 754.56 916.74 754.19 922.98 753.81 929.29 753.43 935.66 753.05 942.1 752.67 948.6 752.28 955.18 751.89 961.82 751.5 968.52 751.11 975.29 750.72 982.13 750.32 989.04 749.93 996.01 749.54 1003.05 749.14 1010.16 748.75 1017.34 748.36 1024.58 747.98 1031.89 747.59 1039.27 747.21 1046.71 746.83 1054.23 746.45 1061.81 746.08 1069.46 745.7 1077.18 745.32 1084.97 744.94 1092.83 744.57 1100.75 744.19 1108.74 743.81 1116.81 743.44 1124.94 743.07 1133.14 742.71 1141.41 742.36 1149.74 742.01 1158.15 741.66 1166.63 741.33 1175.18 741 1183.79 740.67 1192.48 740.35 1201.23 740.04 1210.06 739.72 1218.95 739.42 1227.92 739.11 1236.95 738.81 1246.06 738.52 1255.24 738.22 1264.48 737.94 1273.8 737.65" fill="none" stroke="url(#w10)" stroke-width="2.0"/><path d="M597.89 539.65 597.9 539.92 597.93 540.22 598 540.54 598.09 540.87 598.22 541.22 598.39 541.57 598.59 541.92 598.83 542.29 599.11 542.66 599.42 543.03 599.78 543.41 600.18 543.79 600.63 544.18 601.11 544.57 601.64 544.96 602.21 545.36 602.83 545.76 603.49 546.16 604.2 546.56 604.95 546.97 605.75 547.38 606.6 547.8 607.5 548.22 608.44 548.63 609.43 549.05 610.47 549.48 611.56 549.9 612.7 550.33 613.89 550.76 615.13 551.19 616.41 551.62 617.76 552.06 619.15 552.49 620.59 552.93 622.08 553.37 623.63 553.8 625.23 554.24 626.88 554.69 628.59 555.13 630.35 555.57 632.16 556.02 634.03 556.46 635.95 556.91 637.92 557.35 639.95 557.8 642.03 558.25 644.17 558.7 646.37 559.14 648.62 559.59 650.92 560.04 653.28 560.49 655.7 560.94 658.17 561.38 660.71 561.83 663.29 562.28 665.94 562.73 668.64 563.18 671.4 563.62 674.22 564.07 677.09 564.51 680.03 564.96 683.02 565.4 686.07 565.84 689.18 566.29 692.34 566.73 695.57 567.17 698.85 567.61 702.2 568.04 705.6 568.48 709.07 568.91 712.59 569.35 716.18 569.78 719.82 570.21 723.53 570.64 727.29 571.06 731.12 571.49 735.01 571.91 738.95 572.33 742.96 572.75 747.03 573.17 751.17 573.58 755.36 573.99 759.62 574.4 763.93 574.81 768.31 575.22 772.76 575.62 777.26 576.01 781.83 576.41 786.46 576.8 791.15 577.19 795.91 577.57 800.73 577.96 805.61 578.34 810.55 578.72 815.56 579.1 820.64 579.48 825.77 579.85 830.97 580.23 836.24 580.6 841.57 580.97 846.96 581.35 852.42 581.72 857.94 582.09 863.53 582.46 869.18 582.83 874.89 583.2 880.68 583.57 886.52 583.94 892.43 584.32 898.41 584.69 904.46 585.06 910.56 585.44 916.74 585.81 922.98 586.19 929.29 586.57 935.66 586.95 942.1 587.33 948.6 587.72 955.18 588.11 961.82 588.5 968.52 588.89 975.29 589.28 982.13 589.68 989.04 590.07 996.01 590.46 1003.05 590.86 1010.16 591.25 1017.34 591.64 1024.58 592.02 1031.89 592.41 1039.27 592.79 1046.71 593.17 1054.23 593.55 1061.81 593.92 1069.46 594.3 1077.18 594.68 1084.97 595.06 1092.83 595.43 1100.75 595.81 1108.74 596.19 1116.81 596.56 1124.94 596.93 1133.14 597.29 1141.41 597.64 1149.74 597.99 1158.15 598.34 1166.63 598.67 1175.18 599 1183.79 599.33 1192.48 599.65 1201.23 599.96 1210.06 600.28 1218.95 600.58 1227.92 600.89 1236.95 601.19 1246.06 601.48 1255.24 601.78 1264.48 602.06 1273.8 602.35" fill="none" stroke="url(#w11)" stroke-width="2.0"/><path d="M758.49 800.35 758.49 800.15 758.52 799.92 758.57 799.68 758.64 799.43 758.74 799.17 758.87 798.91 759.02 798.64 759.2 798.37 759.41 798.1 759.66 797.82 759.93 797.54 760.24 797.25 760.57 796.96 760.94 796.67 761.35 796.38 761.78 796.09 762.25 795.79 762.76 795.49 763.3 795.19 763.87 794.89 764.48 794.58 765.13 794.27 765.81 793.97 766.53 793.66 767.28 793.35 768.08 793.03 768.91 792.72 769.78 792.41 770.68 792.09 771.63 791.77 772.61 791.46 773.63 791.14 774.69 790.82 775.79 790.5 776.93 790.18 778.11 789.85 779.33 789.53 780.59 789.21 781.89 788.88 783.23 788.56 784.61 788.23 786.04 787.91 787.5 787.58 789.01 787.25 790.55 786.92 792.14 786.6 793.77 786.27 795.45 785.94 797.16 785.61 798.92 785.28 800.72 784.95 802.56 784.62 804.45 784.29 806.38 783.96 808.35 783.63 810.37 783.3 812.43 782.96 814.53 782.63 816.68 782.3 818.87 781.97 821.11 781.64 823.39 781.3 825.71 780.97 828.08 780.64 830.5 780.3 832.96 779.97 835.46 779.63 838.01 779.3 840.61 778.97 843.25 778.63 845.94 778.3 848.67 777.96 851.45 777.62 854.27 777.29 857.14 776.95 860.06 776.61 863.02 776.28 866.03 775.94 869.09 775.6 872.19 775.26 875.35 774.92 878.54 774.58 881.79 774.24 885.08 773.9 888.42 773.55 891.81 773.21 895.24 772.87 898.72 772.52 902.25 772.18 905.83 771.83 909.46 771.49 913.13 771.14 916.85 770.79 920.62 770.44 924.44 770.09 928.31 769.74 932.22 769.38 936.19 769.03 940.2 768.67 944.27 768.31 948.38 767.95 952.54 767.59 956.75 767.22 961.01 766.86 965.32 766.49 969.67 766.13 974.08 765.76 978.54 765.39 983.05 765.02 987.61 764.66 992.21 764.29 996.87 763.92 1001.58 763.55 1006.34 763.19 1011.14 762.82 1016 762.45 1020.91 762.09 1025.87 761.73 1030.88 761.37 1035.94 761 1041.06 760.65 1046.22 760.29 1051.43 759.93 1056.7 759.58 1062.01 759.23 1067.38 758.87 1072.8 758.52 1078.27 758.16 1083.79 757.8 1089.37 757.45 1094.99 757.09 1100.67 756.73 1106.4 756.38 1112.18 756.03 1118.01 755.68 1123.9 755.33 1129.84 754.98 1135.83 754.64 1141.87 754.31 1147.96 753.98 1154.11 753.65 1160.31 753.33 1166.56 753.01 1172.86 752.7 1179.22 752.39 1185.63 752.08 1192.09 751.77 1198.61 751.47 1205.18 751.17 1211.8 750.88 1218.48 750.59 1225.2 750.3 1231.99 750.01 1238.82 749.72 1245.71 749.44 1252.65 749.16 1259.65 748.89 1266.7 748.61 1273.8 748.34" fill="none" stroke="url(#w12)" stroke-width="2.0"/><path d="M758.49 539.65 758.49 539.85 758.52 540.08 758.57 540.32 758.64 540.57 758.74 540.83 758.87 541.09 759.02 541.36 759.2 541.63 759.41 541.9 759.66 542.18 759.93 542.46 760.24 542.75 760.57 543.04 760.94 543.33 761.35 543.62 761.78 543.91 762.25 544.21 762.76 544.51 763.3 544.81 763.87 545.11 764.48 545.42 765.13 545.73 765.81 546.03 766.53 546.34 767.28 546.65 768.08 546.97 768.91 547.28 769.78 547.59 770.68 547.91 771.63 548.23 772.61 548.54 773.63 548.86 774.69 549.18 775.79 549.5 776.93 549.82 778.11 550.15 779.33 550.47 780.59 550.79 781.89 551.12 783.23 551.44 784.61 551.77 786.04 552.09 787.5 552.42 789.01 552.75 790.55 553.08 792.14 553.4 793.77 553.73 795.45 554.06 797.16 554.39 798.92 554.72 800.72 555.05 802.56 555.38 804.45 555.71 806.38 556.04 808.35 556.37 810.37 556.7 812.43 557.04 814.53 557.37 816.68 557.7 818.87 558.03 821.11 558.36 823.39 558.7 825.71 559.03 828.08 559.36 830.5 559.7 832.96 560.03 835.46 560.37 838.01 560.7 840.61 561.03 843.25 561.37 845.94 561.7 848.67 562.04 851.45 562.38 854.27 562.71 857.14 563.05 860.06 563.39 863.02 563.72 866.03 564.06 869.09 564.4 872.19 564.74 875.35 565.08 878.54 565.42 881.79 565.76 885.08 566.1 888.42 566.45 891.81 566.79 895.24 567.13 898.72 567.48 902.25 567.82 905.83 568.17 909.46 568.51 913.13 568.86 916.85 569.21 920.62 569.56 924.44 569.91 928.31 570.26 932.22 570.62 936.19 570.97 940.2 571.33 944.27 571.69 948.38 572.05 952.54 572.41 956.75 572.78 961.01 573.14 965.32 573.51 969.67 573.87 974.08 574.24 978.54 574.61 983.05 574.98 987.61 575.34 992.21 575.71 996.87 576.08 1001.58 576.45 1006.34 576.81 1011.14 577.18 1016 577.55 1020.91 577.91 1025.87 578.27 1030.88 578.63 1035.94 579 1041.06 579.35 1046.22 579.71 1051.43 580.07 1056.7 580.42 1062.01 580.77 1067.38 581.13 1072.8 581.48 1078.27 581.84 1083.79 582.2 1089.37 582.55 1094.99 582.91 1100.67 583.27 1106.4 583.62 1112.18 583.97 1118.01 584.32 1123.9 584.67 1129.84 585.02 1135.83 585.36 1141.87 585.69 1147.96 586.02 1154.11 586.35 1160.31 586.67 1166.56 586.99 1172.86 587.3 1179.22 587.61 1185.63 587.92 1192.09 588.23 1198.61 588.53 1205.18 588.83 1211.8 589.12 1218.48 589.41 1225.2 589.7 1231.99 589.99 1238.82 590.28 1245.71 590.56 1252.65 590.84 1259.65 591.11 1266.7 591.39 1273.8 591.66" fill="none" stroke="url(#w13)" stroke-width="2.0"/><path d="M930.98 800.35 930.99 800.2 931.01 800.03 931.04 799.85 931.09 799.66 931.15 799.47 931.24 799.27 931.34 799.07 931.46 798.87 931.6 798.67 931.76 798.46 931.95 798.25 932.15 798.03 932.37 797.82 932.62 797.6 932.89 797.38 933.18 797.16 933.49 796.94 933.83 796.71 934.18 796.49 934.57 796.26 934.97 796.03 935.4 795.8 935.86 795.56 936.34 795.33 936.84 795.1 937.37 794.86 937.92 794.62 938.5 794.38 939.1 794.14 939.73 793.9 940.38 793.66 941.06 793.41 941.77 793.17 942.5 792.92 943.26 792.67 944.04 792.42 944.85 792.17 945.69 791.92 946.56 791.67 947.45 791.41 948.37 791.16 949.31 790.9 950.29 790.64 951.29 790.39 952.32 790.13 953.37 789.87 954.46 789.61 955.57 789.34 956.71 789.08 957.88 788.82 959.08 788.55 960.31 788.29 961.56 788.02 962.84 787.75 964.16 787.48 965.5 787.22 966.87 786.94 968.27 786.67 969.7 786.4 971.16 786.13 972.64 785.86 974.16 785.58 975.71 785.31 977.28 785.03 978.89 784.76 980.53 784.48 982.19 784.2 983.89 783.92 985.62 783.65 987.37 783.37 989.16 783.09 990.98 782.81 992.83 782.53 994.71 782.24 996.62 781.96 998.56 781.68 1000.53 781.4 1002.53 781.12 1004.57 780.83 1006.63 780.55 1008.73 780.27 1010.85 779.98 1013.01 779.7 1015.2 779.42 1017.42 779.13 1019.68 778.85 1021.96 778.56 1024.28 778.28 1026.63 777.99 1029.01 777.71 1031.42 777.43 1033.86 777.14 1036.34 776.86 1038.85 776.58 1041.39 776.29 1043.96 776.01 1046.56 775.73 1049.2 775.44 1051.87 775.16 1054.58 774.88 1057.31 774.6 1060.08 774.32 1062.88 774.03 1065.71 773.75 1068.58 773.46 1071.48 773.18 1074.41 772.89 1077.38 772.6 1080.38 772.32 1083.41 772.03 1086.47 771.74 1089.57 771.45 1092.7 771.16 1095.87 770.87 1099.07 770.58 1102.3 770.29 1105.56 770 1108.86 769.72 1112.2 769.43 1115.56 769.14 1118.97 768.86 1122.4 768.57 1125.87 768.29 1129.37 768.01 1132.91 767.73 1136.48 767.45 1140.08 767.17 1143.72 766.9 1147.4 766.62 1151.11 766.35 1154.85 766.08 1158.62 765.82 1162.44 765.55 1166.28 765.29 1170.16 765.03 1174.08 764.77 1178.03 764.51 1182.01 764.26 1186.03 764 1190.09 763.75 1194.17 763.49 1198.3 763.24 1202.46 762.99 1206.65 762.74 1210.88 762.5 1215.14 762.25 1219.44 762 1223.78 761.76 1228.15 761.52 1232.55 761.28 1236.99 761.04 1241.47 760.8 1245.98 760.56 1250.53 760.32 1255.11 760.09 1259.73 759.85 1264.38 759.62 1269.07 759.39 1273.8 759.16" fill="none" stroke="url(#w14)" stroke-width="2.0"/><path d="M930.98 539.65 930.99 539.8 931.01 539.97 931.04 540.15 931.09 540.34 931.15 540.53 931.24 540.73 931.34 540.93 931.46 541.13 931.6 541.33 931.76 541.54 931.95 541.75 932.15 541.97 932.37 542.18 932.62 542.4 932.89 542.62 933.18 542.84 933.49 543.06 933.83 543.29 934.18 543.51 934.57 543.74 934.97 543.97 935.4 544.2 935.86 544.44 936.34 544.67 936.84 544.9 937.37 545.14 937.92 545.38 938.5 545.62 939.1 545.86 939.73 546.1 940.38 546.34 941.06 546.59 941.77 546.83 942.5 547.08 943.26 547.33 944.04 547.58 944.85 547.83 945.69 548.08 946.56 548.33 947.45 548.59 948.37 548.84 949.31 549.1 950.29 549.36 951.29 549.61 952.32 549.87 953.37 550.13 954.46 550.39 955.57 550.66 956.71 550.92 957.88 551.18 959.08 551.45 960.31 551.71 961.56 551.98 962.84 552.25 964.16 552.52 965.5 552.78 966.87 553.06 968.27 553.33 969.7 553.6 971.16 553.87 972.64 554.14 974.16 554.42 975.71 554.69 977.28 554.97 978.89 555.24 980.53 555.52 982.19 555.8 983.89 556.08 985.62 556.35 987.37 556.63 989.16 556.91 990.98 557.19 992.83 557.47 994.71 557.76 996.62 558.04 998.56 558.32 1000.53 558.6 1002.53 558.88 1004.57 559.17 1006.63 559.45 1008.73 559.73 1010.85 560.02 1013.01 560.3 1015.2 560.58 1017.42 560.87 1019.68 561.15 1021.96 561.44 1024.28 561.72 1026.63 562.01 1029.01 562.29 1031.42 562.57 1033.86 562.86 1036.34 563.14 1038.85 563.42 1041.39 563.71 1043.96 563.99 1046.56 564.27 1049.2 564.56 1051.87 564.84 1054.58 565.12 1057.31 565.4 1060.08 565.68 1062.88 565.97 1065.71 566.25 1068.58 566.54 1071.48 566.82 1074.41 567.11 1077.38 567.4 1080.38 567.68 1083.41 567.97 1086.47 568.26 1089.57 568.55 1092.7 568.84 1095.87 569.13 1099.07 569.42 1102.3 569.71 1105.56 570 1108.86 570.28 1112.2 570.57 1115.56 570.86 1118.97 571.14 1122.4 571.43 1125.87 571.71 1129.37 571.99 1132.91 572.27 1136.48 572.55 1140.08 572.83 1143.72 573.1 1147.4 573.38 1151.11 573.65 1154.85 573.92 1158.62 574.18 1162.44 574.45 1166.28 574.71 1170.16 574.97 1174.08 575.23 1178.03 575.49 1182.01 575.74 1186.03 576 1190.09 576.25 1194.17 576.51 1198.3 576.76 1202.46 577.01 1206.65 577.26 1210.88 577.5 1215.14 577.75 1219.44 578 1223.78 578.24 1228.15 578.48 1232.55 578.72 1236.99 578.96 1241.47 579.2 1245.98 579.44 1250.53 579.68 1255.11 579.91 1259.73 580.15 1264.38 580.38 1269.07 580.61 1273.8 580.84" fill="none" stroke="url(#w15)" stroke-width="2.0"/><path d="M1056.58 800.35 1056.59 800.23 1056.6 800.1 1056.62 799.96 1056.65 799.81 1056.69 799.66 1056.75 799.51 1056.81 799.36 1056.89 799.2 1056.98 799.04 1057.08 798.87 1057.19 798.71 1057.32 798.54 1057.46 798.38 1057.62 798.21 1057.79 798.04 1057.97 797.87 1058.17 797.69 1058.39 797.52 1058.61 797.34 1058.85 797.17 1059.11 796.99 1059.38 796.81 1059.67 796.63 1059.98 796.45 1060.29 796.27 1060.63 796.08 1060.98 795.9 1061.34 795.71 1061.73 795.53 1062.12 795.34 1062.54 795.15 1062.97 794.97 1063.42 794.78 1063.88 794.59 1064.36 794.39 1064.86 794.2 1065.37 794.01 1065.9 793.82 1066.45 793.62 1067.02 793.43 1067.6 793.23 1068.2 793.04 1068.82 792.84 1069.45 792.64 1070.1 792.44 1070.77 792.24 1071.46 792.04 1072.16 791.84 1072.89 791.64 1073.63 791.44 1074.39 791.24 1075.16 791.03 1075.96 790.83 1076.77 790.62 1077.6 790.42 1078.45 790.21 1079.32 790.01 1080.21 789.8 1081.11 789.59 1082.04 789.38 1082.98 789.18 1083.94 788.97 1084.92 788.76 1085.92 788.55 1086.94 788.34 1087.98 788.13 1089.03 787.91 1090.11 787.7 1091.2 787.49 1092.31 787.28 1093.45 787.07 1094.6 786.85 1095.77 786.64 1096.96 786.42 1098.17 786.21 1099.4 786 1100.65 785.78 1101.92 785.57 1103.21 785.35 1104.52 785.14 1105.84 784.92 1107.19 784.7 1108.56 784.49 1109.95 784.27 1111.35 784.06 1112.78 783.84 1114.23 783.62 1115.7 783.41 1117.18 783.19 1118.69 782.97 1120.22 782.76 1121.77 782.54 1123.34 782.32 1124.93 782.11 1126.54 781.89 1128.17 781.68 1129.82 781.46 1131.49 781.25 1133.18 781.03 1134.89 780.82 1136.63 780.6 1138.38 780.39 1140.16 780.17 1141.95 779.96 1143.77 779.75 1145.61 779.53 1147.46 779.32 1149.34 779.11 1151.24 778.9 1153.16 778.69 1155.11 778.48 1157.07 778.27 1159.05 778.06 1161.06 777.85 1163.09 777.65 1165.13 777.44 1167.2 777.24 1169.29 777.03 1171.41 776.83 1173.54 776.62 1175.69 776.42 1177.87 776.21 1180.07 776.01 1182.29 775.81 1184.53 775.6 1186.79 775.4 1189.08 775.2 1191.38 775 1193.71 774.79 1196.06 774.59 1198.43 774.39 1200.82 774.19 1203.24 773.99 1205.67 773.79 1208.13 773.59 1210.61 773.39 1213.12 773.19 1215.64 773 1218.19 772.8 1220.76 772.6 1223.35 772.4 1225.96 772.21 1228.6 772.01 1231.25 771.81 1233.93 771.62 1236.63 771.42 1239.36 771.23 1242.11 771.04 1244.87 770.84 1247.67 770.65 1250.48 770.46 1253.32 770.27 1256.17 770.07 1259.06 769.88 1261.96 769.69 1264.89 769.5 1267.83 769.31 1270.81 769.12 1273.8 768.93" fill="none" stroke="url(#w16)" stroke-width="2.0"/><path d="M1056.58 539.65 1056.59 539.77 1056.6 539.9 1056.62 540.04 1056.65 540.19 1056.69 540.34 1056.75 540.49 1056.81 540.64 1056.89 540.8 1056.98 540.96 1057.08 541.13 1057.19 541.29 1057.32 541.46 1057.46 541.62 1057.62 541.79 1057.79 541.96 1057.97 542.13 1058.17 542.31 1058.39 542.48 1058.61 542.66 1058.85 542.83 1059.11 543.01 1059.38 543.19 1059.67 543.37 1059.98 543.55 1060.29 543.73 1060.63 543.92 1060.98 544.1 1061.34 544.29 1061.73 544.47 1062.12 544.66 1062.54 544.85 1062.97 545.03 1063.42 545.22 1063.88 545.41 1064.36 545.61 1064.86 545.8 1065.37 545.99 1065.9 546.18 1066.45 546.38 1067.02 546.57 1067.6 546.77 1068.2 546.96 1068.82 547.16 1069.45 547.36 1070.1 547.56 1070.77 547.76 1071.46 547.96 1072.16 548.16 1072.89 548.36 1073.63 548.56 1074.39 548.76 1075.16 548.97 1075.96 549.17 1076.77 549.38 1077.6 549.58 1078.45 549.79 1079.32 549.99 1080.21 550.2 1081.11 550.41 1082.04 550.62 1082.98 550.82 1083.94 551.03 1084.92 551.24 1085.92 551.45 1086.94 551.66 1087.98 551.87 1089.03 552.09 1090.11 552.3 1091.2 552.51 1092.31 552.72 1093.45 552.93 1094.6 553.15 1095.77 553.36 1096.96 553.58 1098.17 553.79 1099.4 554 1100.65 554.22 1101.92 554.43 1103.21 554.65 1104.52 554.86 1105.84 555.08 1107.19 555.3 1108.56 555.51 1109.95 555.73 1111.35 555.94 1112.78 556.16 1114.23 556.38 1115.7 556.59 1117.18 556.81 1118.69 557.03 1120.22 557.24 1121.77 557.46 1123.34 557.68 1124.93 557.89 1126.54 558.11 1128.17 558.32 1129.82 558.54 1131.49 558.75 1133.18 558.97 1134.89 559.18 1136.63 559.4 1138.38 559.61 1140.16 559.83 1141.95 560.04 1143.77 560.25 1145.61 560.47 1147.46 560.68 1149.34 560.89 1151.24 561.1 1153.16 561.31 1155.11 561.52 1157.07 561.73 1159.05 561.94 1161.06 562.15 1163.09 562.35 1165.13 562.56 1167.2 562.76 1169.29 562.97 1171.41 563.17 1173.54 563.38 1175.69 563.58 1177.87 563.79 1180.07 563.99 1182.29 564.19 1184.53 564.4 1186.79 564.6 1189.08 564.8 1191.38 565 1193.71 565.21 1196.06 565.41 1198.43 565.61 1200.82 565.81 1203.24 566.01 1205.67 566.21 1208.13 566.41 1210.61 566.61 1213.12 566.81 1215.64 567 1218.19 567.2 1220.76 567.4 1223.35 567.6 1225.96 567.79 1228.6 567.99 1231.25 568.19 1233.93 568.38 1236.63 568.58 1239.36 568.77 1242.11 568.96 1244.87 569.16 1247.67 569.35 1250.48 569.54 1253.32 569.73 1256.17 569.93 1259.06 570.12 1261.96 570.31 1264.89 570.5 1267.83 570.69 1270.81 570.88 1273.8 571.07" fill="none" stroke="url(#w17)" stroke-width="2.0"/><path d="M1165.18 800.35 1165.18 800.27 1165.19 800.18 1165.2 800.09 1165.22 799.99 1165.24 799.9 1165.26 799.79 1165.3 799.69 1165.33 799.59 1165.38 799.48 1165.43 799.37 1165.49 799.26 1165.55 799.16 1165.62 799.04 1165.7 798.93 1165.79 798.82 1165.88 798.71 1165.98 798.59 1166.08 798.48 1166.2 798.36 1166.32 798.25 1166.45 798.13 1166.58 798.01 1166.73 797.9 1166.88 797.78 1167.04 797.66 1167.2 797.54 1167.38 797.42 1167.56 797.3 1167.75 797.18 1167.95 797.06 1168.16 796.93 1168.38 796.81 1168.6 796.69 1168.83 796.56 1169.07 796.44 1169.32 796.32 1169.58 796.19 1169.84 796.07 1170.12 795.94 1170.4 795.81 1170.69 795.69 1170.99 795.56 1171.3 795.43 1171.62 795.31 1171.94 795.18 1172.28 795.05 1172.62 794.92 1172.97 794.79 1173.33 794.67 1173.71 794.54 1174.08 794.41 1174.47 794.28 1174.87 794.15 1175.28 794.02 1175.69 793.89 1176.12 793.75 1176.55 793.62 1177 793.49 1177.45 793.36 1177.91 793.23 1178.38 793.1 1178.86 792.96 1179.35 792.83 1179.85 792.7 1180.36 792.56 1180.88 792.43 1181.41 792.3 1181.95 792.16 1182.49 792.03 1183.05 791.9 1183.62 791.76 1184.19 791.63 1184.78 791.49 1185.37 791.36 1185.98 791.22 1186.59 791.09 1187.22 790.95 1187.85 790.82 1188.5 790.68 1189.15 790.54 1189.81 790.41 1190.49 790.27 1191.17 790.14 1191.87 790 1192.57 789.86 1193.28 789.73 1194.01 789.59 1194.74 789.45 1195.49 789.31 1196.24 789.18 1197 789.04 1197.78 788.9 1198.56 788.77 1199.36 788.63 1200.16 788.49 1200.98 788.35 1201.8 788.21 1202.64 788.08 1203.49 787.94 1204.34 787.8 1205.21 787.66 1206.09 787.52 1206.97 787.38 1207.87 787.25 1208.78 787.11 1209.7 786.97 1210.63 786.83 1211.57 786.69 1212.52 786.55 1213.48 786.41 1214.45 786.28 1215.43 786.14 1216.42 786 1217.42 785.86 1218.44 785.72 1219.46 785.58 1220.5 785.44 1221.54 785.3 1222.6 785.16 1223.67 785.02 1224.74 784.89 1225.83 784.75 1226.93 784.61 1228.04 784.47 1229.16 784.33 1230.29 784.19 1231.43 784.05 1232.59 783.91 1233.75 783.77 1234.93 783.63 1236.11 783.49 1237.31 783.36 1238.52 783.22 1239.73 783.08 1240.96 782.94 1242.2 782.8 1243.46 782.66 1244.72 782.52 1245.99 782.38 1247.28 782.25 1248.57 782.11 1249.88 781.97 1251.2 781.83 1252.52 781.69 1253.86 781.55 1255.22 781.41 1256.58 781.28 1257.95 781.14 1259.34 781 1260.73 780.86 1262.14 780.72 1263.56 780.59 1264.99 780.45 1266.43 780.31 1267.88 780.17 1269.34 780.03 1270.82 779.9 1272.3 779.76 1273.8 779.62" fill="none" stroke="url(#w18)" stroke-width="2.0"/><path d="M1165.18 539.65 1165.18 539.73 1165.19 539.82 1165.2 539.91 1165.22 540.01 1165.24 540.1 1165.26 540.21 1165.3 540.31 1165.33 540.41 1165.38 540.52 1165.43 540.63 1165.49 540.74 1165.55 540.84 1165.62 540.96 1165.7 541.07 1165.79 541.18 1165.88 541.29 1165.98 541.41 1166.08 541.52 1166.2 541.64 1166.32 541.75 1166.45 541.87 1166.58 541.99 1166.73 542.1 1166.88 542.22 1167.04 542.34 1167.2 542.46 1167.38 542.58 1167.56 542.7 1167.75 542.82 1167.95 542.94 1168.16 543.07 1168.38 543.19 1168.6 543.31 1168.83 543.44 1169.07 543.56 1169.32 543.68 1169.58 543.81 1169.84 543.93 1170.12 544.06 1170.4 544.19 1170.69 544.31 1170.99 544.44 1171.3 544.57 1171.62 544.69 1171.94 544.82 1172.28 544.95 1172.62 545.08 1172.97 545.21 1173.33 545.33 1173.71 545.46 1174.08 545.59 1174.47 545.72 1174.87 545.85 1175.28 545.98 1175.69 546.11 1176.12 546.25 1176.55 546.38 1177 546.51 1177.45 546.64 1177.91 546.77 1178.38 546.9 1178.86 547.04 1179.35 547.17 1179.85 547.3 1180.36 547.44 1180.88 547.57 1181.41 547.7 1181.95 547.84 1182.49 547.97 1183.05 548.1 1183.62 548.24 1184.19 548.37 1184.78 548.51 1185.37 548.64 1185.98 548.78 1186.59 548.91 1187.22 549.05 1187.85 549.18 1188.5 549.32 1189.15 549.46 1189.81 549.59 1190.49 549.73 1191.17 549.86 1191.87 550 1192.57 550.14 1193.28 550.27 1194.01 550.41 1194.74 550.55 1195.49 550.69 1196.24 550.82 1197 550.96 1197.78 551.1 1198.56 551.23 1199.36 551.37 1200.16 551.51 1200.98 551.65 1201.8 551.79 1202.64 551.92 1203.49 552.06 1204.34 552.2 1205.21 552.34 1206.09 552.48 1206.97 552.62 1207.87 552.75 1208.78 552.89 1209.7 553.03 1210.63 553.17 1211.57 553.31 1212.52 553.45 1213.48 553.59 1214.45 553.72 1215.43 553.86 1216.42 554 1217.42 554.14 1218.44 554.28 1219.46 554.42 1220.5 554.56 1221.54 554.7 1222.6 554.84 1223.67 554.98 1224.74 555.11 1225.83 555.25 1226.93 555.39 1228.04 555.53 1229.16 555.67 1230.29 555.81 1231.43 555.95 1232.59 556.09 1233.75 556.23 1234.93 556.37 1236.11 556.51 1237.31 556.64 1238.52 556.78 1239.73 556.92 1240.96 557.06 1242.2 557.2 1243.46 557.34 1244.72 557.48 1245.99 557.62 1247.28 557.75 1248.57 557.89 1249.88 558.03 1251.2 558.17 1252.52 558.31 1253.86 558.45 1255.22 558.59 1256.58 558.72 1257.95 558.86 1259.34 559 1260.73 559.14 1262.14 559.28 1263.56 559.41 1264.99 559.55 1266.43 559.69 1267.88 559.83 1269.34 559.97 1270.82 560.1 1272.3 560.24 1273.8 560.38" fill="none" stroke="url(#w19)" stroke-width="2.0"/><path d="M196.8 670 215.05 670 233.31 670 251.56 670 269.82 670 288.07 670 306.33 670 324.58 670 342.83 670 361.09 670 379.34 670 397.6 670 415.85 670 434.11 670 452.36 670 470.61 670 488.87 670 507.12 670 525.38 670 543.63 670 561.88 670 580.14 670 598.39 670 616.65 670 634.9 670 653.16 670 671.41 670 689.66 670 707.92 670 726.17 670 744.43 670 762.68 670 780.94 670 799.19 670 817.44 670 835.7 670 853.95 670 872.21 670 890.46 670 908.72 670 926.97 670 945.22 670 963.48 670 981.73 670 999.99 670 1018.24 670 1036.49 670 1054.75 670 1073 670 1091.26 670 1109.51 670 1127.77 670 1146.02 670 1164.27 670 1182.53 670 1200.78 670 1219.04 670 1237.29 670 1255.55 670 1273.8 670" fill="none" stroke="url(#w20)" stroke-width="2.0"/></g>
<rect x="209" y="553.7" width="272.2" height="43.1" fill="#fff" stroke="#000" stroke-width="1.6"/>
<text transform="translate(214.06,585.2) scale(1.0646,1)" font-size="42.44">wet-tip regime</text>
<rect x="186.7" y="539.5" width="1087.1" height="260.7" fill="none" stroke="#000" stroke-width="3.3"/>
<text transform="translate(63.58,589.9) scale(1.0239,1)" font-size="42.40">1.0</text>
<text transform="translate(63.58,777) scale(1.0239,1)" font-size="42.40">1.0</text>
<text transform="translate(107.6,733.24) rotate(-90) scale(1.2228,1)" font-size="41.17" font-style="italic">r</text>
<path d="M75.1 689.6C84.47 701.33 108.33 701.33 117.7 689.6L117.7 688.6C108.33 699 84.47 699 75.1 688.6Z"/>
<text transform="translate(107.03,684.55) rotate(-90) scale(1.1885,1)" font-size="41.02" font-style="italic">μ</text>
<text transform="translate(107.6,661.65) rotate(-90) scale(1.3124,1)" font-size="41.17" font-style="italic">m</text>
<path d="M75.1 621C84.47 609.13 108.33 609.13 117.7 621L117.7 622C108.33 611.47 84.47 611.47 75.1 622Z"/>
<text transform="translate(159.23,861.5) scale(1.0403,1)" font-size="42.26">0.0</text>
<text transform="translate(376.62,861.5) scale(1.0557,1)" font-size="42.26">0.2</text>
<text transform="translate(594.1,861.5) scale(1.0208,1)" font-size="42.26">0.4</text>
<text transform="translate(811.5,861.5) scale(1.0330,1)" font-size="42.26">0.6</text>
<text transform="translate(1028.91,861.5) scale(1.0403,1)" font-size="42.26">0.8</text>
<text transform="translate(1245.58,861.5) scale(1.0274,1)" font-size="42.26">1.0</text>
<text transform="translate(664.38,862.1) scale(1.0866,1)" font-size="39.22" font-style="italic">z</text>
<path d="M706.4 830C692.67 839.06 692.67 862.14 706.4 871.2L707.5 871.2C695.23 862.14 695.23 839.06 707.5 830Z"/>
<text transform="translate(707.61,862.1) scale(1.3661,1)" font-size="38.20" font-style="italic">mm</text>
<path d="M783.9 830C798.57 839.06 798.57 862.14 783.9 871.2L782.8 871.2C796 862.14 796 839.06 782.8 830Z"/>
<defs><linearGradient id="cb1" x1="0" y1="0" x2="0" y2="1"><stop offset="0.000" stop-color="#800000"/><stop offset="0.062" stop-color="#bf0000"/><stop offset="0.125" stop-color="#ff0000"/><stop offset="0.188" stop-color="#ff4000"/><stop offset="0.250" stop-color="#ff8000"/><stop offset="0.312" stop-color="#ffbf00"/><stop offset="0.375" stop-color="#ffff00"/><stop offset="0.438" stop-color="#bfff40"/><stop offset="0.500" stop-color="#80ff80"/><stop offset="0.562" stop-color="#40ffbf"/><stop offset="0.625" stop-color="#00ffff"/><stop offset="0.688" stop-color="#00bfff"/><stop offset="0.750" stop-color="#0080ff"/><stop offset="0.812" stop-color="#0040ff"/><stop offset="0.875" stop-color="#0000ff"/><stop offset="0.938" stop-color="#0000bf"/><stop offset="1.000" stop-color="#000080"/></linearGradient></defs>
<rect x="1365.5" y="520.1" width="59.2" height="298.4" fill="url(#cb1)" stroke="#000" stroke-width="2" stroke-linejoin="round"/>
<path d="M1366.5 669.3H1383.4M1406.8 669.3H1424.5" stroke="#8c8c8c" stroke-width="1.1"/>
<text transform="translate(1439.98,533.8) scale(0.9989,1)" font-size="41.78">4</text>
<text transform="translate(1439.06,833.38) scale(1.0614,1)" font-size="43.12">0</text>
<text transform="translate(1471.88,732.2) rotate(-90) scale(1.0622,1)" font-size="43.09" font-style="italic">w</text>
<path d="M1440 686.65C1449.24 700.72 1472.76 700.72 1482 686.65L1482 685.8C1472.76 698.73 1449.24 698.73 1440 685.8Z"/>
<path d="M1440 621.95C1449.24 607.88 1472.76 607.88 1482 621.95L1482 622.8C1472.76 609.87 1449.24 609.87 1440 622.8Z"/>
<rect x="1459.4" y="629.2" width="2.2" height="50.2"/>
<text transform="translate(1452.24,677.76) rotate(-90) scale(1.5549,1)" font-size="25.98" font-style="italic">μm</text>
<text transform="translate(1485.84,661.23) rotate(-90) scale(1.3020,1)" font-size="27.03" font-style="italic">s</text>
<text transform="translate(-1.15,562.15) scale(1.3275,1)" font-size="52.15" font-weight="bold">B</text>
<path d="M186.7 916.7v17.8M186.7 1215v-17.8M404.12 916.7v17.8M404.12 1215v-17.8M621.54 916.7v17.8M621.54 1215v-17.8M730.25 916.7v17.8M730.25 1215v-17.8M838.96 916.7v17.8M838.96 1215v-17.8M1056.38 916.7v17.8M1056.38 1215v-17.8M1273.8 916.7v17.8M1273.8 1215v-17.8M132.6 972.3h17.9M1328.6 972.3h-17.9M132.6 1066h17.9M1328.6 1066h-17.9M132.6 1159.4h17.9M1328.6 1159.4h-17.9" stroke="#999" stroke-width="1.3" fill="none"/>
<rect x="132.6" y="916.7" width="1196" height="298.3" fill="none" stroke="#000" stroke-width="1.9" stroke-linejoin="round"/>
<g clip-path="url(#cB2)"><defs><linearGradient id="d0" gradientUnits="userSpaceOnUse" x1="1019.6" y1="0" x2="1273.8" y2="0"><stop offset="0.000" stop-color="#000080"/><stop offset="0.003" stop-color="#000080"/><stop offset="0.014" stop-color="#000080"/><stop offset="0.031" stop-color="#000080"/><stop offset="0.055" stop-color="#000080"/><stop offset="0.087" stop-color="#000080"/><stop offset="0.125" stop-color="#000080"/><stop offset="0.170" stop-color="#000080"/><stop offset="0.221" stop-color="#000080"/><stop offset="0.280" stop-color="#000080"/><stop offset="0.346" stop-color="#000080"/><stop offset="0.419" stop-color="#000080"/><stop offset="0.498" stop-color="#000080"/><stop offset="0.585" stop-color="#000080"/><stop offset="0.678" stop-color="#000080"/><stop offset="0.779" stop-color="#000084"/><stop offset="0.886" stop-color="#0000bd"/><stop offset="1.000" stop-color="#800000"/></linearGradient><linearGradient id="d1" gradientUnits="userSpaceOnUse" x1="1019.6" y1="0" x2="1273.8" y2="0"><stop offset="0.000" stop-color="#000080"/><stop offset="0.003" stop-color="#000080"/><stop offset="0.014" stop-color="#000080"/><stop offset="0.031" stop-color="#000080"/><stop offset="0.055" stop-color="#000080"/><stop offset="0.087" stop-color="#000080"/><stop offset="0.125" stop-color="#000080"/><stop offset="0.170" stop-color="#000080"/><stop offset="0.221" stop-color="#000080"/><stop offset="0.280" stop-color="#000080"/><stop offset="0.346" stop-color="#000080"/><stop offset="0.419" stop-color="#000080"/><stop offset="0.498" stop-color="#000080"/><stop offset="0.585" stop-color="#000080"/><stop offset="0.678" stop-color="#000080"/><stop offset="0.779" stop-color="#000084"/><stop offset="0.886" stop-color="#0000bd"/><stop offset="1.000" stop-color="#800000"/></linearGradient><linearGradient id="d2" gradientUnits="userSpaceOnUse" x1="1064.6" y1="0" x2="1273.8" y2="0"><stop offset="0.000" stop-color="#000080"/><stop offset="0.003" stop-color="#000080"/><stop offset="0.014" stop-color="#000080"/><stop offset="0.031" stop-color="#000080"/><stop offset="0.055" stop-color="#000080"/><stop offset="0.087" stop-color="#000080"/><stop offset="0.125" stop-color="#000080"/><stop offset="0.170" stop-color="#000080"/><stop offset="0.221" stop-color="#000080"/><stop offset="0.280" stop-color="#000080"/><stop offset="0.346" stop-color="#000080"/><stop offset="0.419" stop-color="#000080"/><stop offset="0.498" stop-color="#000080"/><stop offset="0.585" stop-color="#000080"/><stop offset="0.678" stop-color="#000081"/><stop offset="0.779" stop-color="#00008b"/><stop offset="0.886" stop-color="#0000e4"/><stop offset="1.000" stop-color="#800000"/></linearGradient><linearGradient id="d3" gradientUnits="userSpaceOnUse" x1="1064.6" y1="0" x2="1273.8" y2="0"><stop offset="0.000" stop-color="#000080"/><stop offset="0.003" stop-color="#000080"/><stop offset="0.014" stop-color="#000080"/><stop offset="0.031" stop-color="#000080"/><stop offset="0.055" stop-color="#000080"/><stop offset="0.087" stop-color="#000080"/><stop offset="0.125" stop-color="#000080"/><stop offset="0.170" stop-color="#000080"/><stop offset="0.221" stop-color="#000080"/><stop offset="0.280" stop-color="#000080"/><stop offset="0.346" stop-color="#000080"/><stop offset="0.419" stop-color="#000080"/><stop offset="0.498" stop-color="#000080"/><stop offset="0.585" stop-color="#000080"/><stop offset="0.678" stop-color="#000081"/><stop offset="0.779" stop-color="#00008b"/><stop offset="0.886" stop-color="#0000e4"/><stop offset="1.000" stop-color="#800000"/></linearGradient><linearGradient id="d4" gradientUnits="userSpaceOnUse" x1="1096.7" y1="0" x2="1273.8" y2="0"><stop offset="0.000" stop-color="#000080"/><stop offset="0.003" stop-color="#000080"/><stop offset="0.014" stop-color="#000080"/><stop offset="0.031" stop-color="#000080"/><stop offset="0.055" stop-color="#000080"/><stop offset="0.087" stop-color="#000080"/><stop offset="0.125" stop-color="#000080"/><stop offset="0.170" stop-color="#000080"/><stop offset="0.221" stop-color="#000080"/><stop offset="0.280" stop-color="#000080"/><stop offset="0.346" stop-color="#000080"/><stop offset="0.419" stop-color="#000080"/><stop offset="0.498" stop-color="#000080"/><stop offset="0.585" stop-color="#000080"/><stop offset="0.678" stop-color="#000084"/><stop offset="0.779" stop-color="#000096"/><stop offset="0.886" stop-color="#0010ff"/><stop offset="1.000" stop-color="#800000"/></linearGradient><linearGradient id="d5" gradientUnits="userSpaceOnUse" x1="1096.7" y1="0" x2="1273.8" y2="0"><stop offset="0.000" stop-color="#000080"/><stop offset="0.003" stop-color="#000080"/><stop offset="0.014" stop-color="#000080"/><stop offset="0.031" stop-color="#000080"/><stop offset="0.055" stop-color="#000080"/><stop offset="0.087" stop-color="#000080"/><stop offset="0.125" stop-color="#000080"/><stop offset="0.170" stop-color="#000080"/><stop offset="0.221" stop-color="#000080"/><stop offset="0.280" stop-color="#000080"/><stop offset="0.346" stop-color="#000080"/><stop offset="0.419" stop-color="#000080"/><stop offset="0.498" stop-color="#000080"/><stop offset="0.585" stop-color="#000080"/><stop offset="0.678" stop-color="#000084"/><stop offset="0.779" stop-color="#000096"/><stop offset="0.886" stop-color="#0010ff"/><stop offset="1.000" stop-color="#800000"/></linearGradient><linearGradient id="d6" gradientUnits="userSpaceOnUse" x1="1120.7" y1="0" x2="1273.8" y2="0"><stop offset="0.000" stop-color="#000080"/><stop offset="0.003" stop-color="#000080"/><stop offset="0.014" stop-color="#000080"/><stop offset="0.031" stop-color="#000080"/><stop offset="0.055" stop-color="#000080"/><stop offset="0.087" stop-color="#000080"/><stop offset="0.125" stop-color="#000080"/><stop offset="0.170" stop-color="#000080"/><stop offset="0.221" stop-color="#000080"/><stop offset="0.280" stop-color="#000080"/><stop offset="0.346" stop-color="#000080"/><stop offset="0.419" stop-color="#000080"/><stop offset="0.498" stop-color="#000080"/><stop offset="0.585" stop-color="#000082"/><stop offset="0.678" stop-color="#000088"/><stop offset="0.779" stop-color="#0000a6"/><stop offset="0.886" stop-color="#003cff"/><stop offset="1.000" stop-color="#800000"/></linearGradient><linearGradient id="d7" gradientUnits="userSpaceOnUse" x1="1120.7" y1="0" x2="1273.8" y2="0"><stop offset="0.000" stop-color="#000080"/><stop offset="0.003" stop-color="#000080"/><stop offset="0.014" stop-color="#000080"/><stop offset="0.031" stop-color="#000080"/><stop offset="0.055" stop-color="#000080"/><stop offset="0.087" stop-color="#000080"/><stop offset="0.125" stop-color="#000080"/><stop offset="0.170" stop-color="#000080"/><stop offset="0.221" stop-color="#000080"/><stop offset="0.280" stop-color="#000080"/><stop offset="0.346" stop-color="#000080"/><stop offset="0.419" stop-color="#000080"/><stop offset="0.498" stop-color="#000080"/><stop offset="0.585" stop-color="#000082"/><stop offset="0.678" stop-color="#000088"/><stop offset="0.779" stop-color="#0000a6"/><stop offset="0.886" stop-color="#003cff"/><stop offset="1.000" stop-color="#800000"/></linearGradient><linearGradient id="d8" gradientUnits="userSpaceOnUse" x1="1140.2" y1="0" x2="1273.8" y2="0"><stop offset="0.000" stop-color="#000080"/><stop offset="0.003" stop-color="#000080"/><stop offset="0.014" stop-color="#000080"/><stop offset="0.031" stop-color="#000080"/><stop offset="0.055" stop-color="#000080"/><stop offset="0.087" stop-color="#000080"/><stop offset="0.125" stop-color="#000080"/><stop offset="0.170" stop-color="#000080"/><stop offset="0.221" stop-color="#000080"/><stop offset="0.280" stop-color="#000080"/><stop offset="0.346" stop-color="#000080"/><stop offset="0.419" stop-color="#000080"/><stop offset="0.498" stop-color="#000081"/><stop offset="0.585" stop-color="#000084"/><stop offset="0.678" stop-color="#00008f"/><stop offset="0.779" stop-color="#0000ba"/><stop offset="0.886" stop-color="#0069ff"/><stop offset="1.000" stop-color="#800000"/></linearGradient><linearGradient id="d9" gradientUnits="userSpaceOnUse" x1="1140.2" y1="0" x2="1273.8" y2="0"><stop offset="0.000" stop-color="#000080"/><stop offset="0.003" stop-color="#000080"/><stop offset="0.014" stop-color="#000080"/><stop offset="0.031" stop-color="#000080"/><stop offset="0.055" stop-color="#000080"/><stop offset="0.087" stop-color="#000080"/><stop offset="0.125" stop-color="#000080"/><stop offset="0.170" stop-color="#000080"/><stop offset="0.221" stop-color="#000080"/><stop offset="0.280" stop-color="#000080"/><stop offset="0.346" stop-color="#000080"/><stop offset="0.419" stop-color="#000080"/><stop offset="0.498" stop-color="#000081"/><stop offset="0.585" stop-color="#000084"/><stop offset="0.678" stop-color="#00008f"/><stop offset="0.779" stop-color="#0000ba"/><stop offset="0.886" stop-color="#0069ff"/><stop offset="1.000" stop-color="#800000"/></linearGradient><linearGradient id="d10" gradientUnits="userSpaceOnUse" x1="1157.3" y1="0" x2="1273.8" y2="0"><stop offset="0.000" stop-color="#000080"/><stop offset="0.003" stop-color="#000080"/><stop offset="0.014" stop-color="#000080"/><stop offset="0.031" stop-color="#000080"/><stop offset="0.055" stop-color="#000080"/><stop offset="0.087" stop-color="#000080"/><stop offset="0.125" stop-color="#000080"/><stop offset="0.170" stop-color="#000080"/><stop offset="0.221" stop-color="#000080"/><stop offset="0.280" stop-color="#000080"/><stop offset="0.346" stop-color="#000080"/><stop offset="0.419" stop-color="#000081"/><stop offset="0.498" stop-color="#000083"/><stop offset="0.585" stop-color="#000089"/><stop offset="0.678" stop-color="#00009b"/><stop offset="0.779" stop-color="#0000d3"/><stop offset="0.886" stop-color="#009aff"/><stop offset="1.000" stop-color="#800000"/></linearGradient><linearGradient id="d11" gradientUnits="userSpaceOnUse" x1="1157.3" y1="0" x2="1273.8" y2="0"><stop offset="0.000" stop-color="#000080"/><stop offset="0.003" stop-color="#000080"/><stop offset="0.014" stop-color="#000080"/><stop offset="0.031" stop-color="#000080"/><stop offset="0.055" stop-color="#000080"/><stop offset="0.087" stop-color="#000080"/><stop offset="0.125" stop-color="#000080"/><stop offset="0.170" stop-color="#000080"/><stop offset="0.221" stop-color="#000080"/><stop offset="0.280" stop-color="#000080"/><stop offset="0.346" stop-color="#000080"/><stop offset="0.419" stop-color="#000081"/><stop offset="0.498" stop-color="#000083"/><stop offset="0.585" stop-color="#000089"/><stop offset="0.678" stop-color="#00009b"/><stop offset="0.779" stop-color="#0000d3"/><stop offset="0.886" stop-color="#009aff"/><stop offset="1.000" stop-color="#800000"/></linearGradient><linearGradient id="d12" gradientUnits="userSpaceOnUse" x1="1172.1" y1="0" x2="1273.8" y2="0"><stop offset="0.000" stop-color="#000080"/><stop offset="0.003" stop-color="#000080"/><stop offset="0.014" stop-color="#000080"/><stop offset="0.031" stop-color="#000080"/><stop offset="0.055" stop-color="#000080"/><stop offset="0.087" stop-color="#000080"/><stop offset="0.125" stop-color="#000080"/><stop offset="0.170" stop-color="#000080"/><stop offset="0.221" stop-color="#000080"/><stop offset="0.280" stop-color="#000080"/><stop offset="0.346" stop-color="#000081"/><stop offset="0.419" stop-color="#000083"/><stop offset="0.498" stop-color="#000087"/><stop offset="0.585" stop-color="#000091"/><stop offset="0.678" stop-color="#0000aa"/><stop offset="0.779" stop-color="#0000f3"/><stop offset="0.886" stop-color="#00ccff"/><stop offset="1.000" stop-color="#800000"/></linearGradient><linearGradient id="d13" gradientUnits="userSpaceOnUse" x1="1172.1" y1="0" x2="1273.8" y2="0"><stop offset="0.000" stop-color="#000080"/><stop offset="0.003" stop-color="#000080"/><stop offset="0.014" stop-color="#000080"/><stop offset="0.031" stop-color="#000080"/><stop offset="0.055" stop-color="#000080"/><stop offset="0.087" stop-color="#000080"/><stop offset="0.125" stop-color="#000080"/><stop offset="0.170" stop-color="#000080"/><stop offset="0.221" stop-color="#000080"/><stop offset="0.280" stop-color="#000080"/><stop offset="0.346" stop-color="#000081"/><stop offset="0.419" stop-color="#000083"/><stop offset="0.498" stop-color="#000087"/><stop offset="0.585" stop-color="#000091"/><stop offset="0.678" stop-color="#0000aa"/><stop offset="0.779" stop-color="#0000f3"/><stop offset="0.886" stop-color="#00ccff"/><stop offset="1.000" stop-color="#800000"/></linearGradient><linearGradient id="d14" gradientUnits="userSpaceOnUse" x1="1184.7" y1="0" x2="1273.8" y2="0"><stop offset="0.000" stop-color="#000080"/><stop offset="0.003" stop-color="#000080"/><stop offset="0.014" stop-color="#000080"/><stop offset="0.031" stop-color="#000080"/><stop offset="0.055" stop-color="#000080"/><stop offset="0.087" stop-color="#000080"/><stop offset="0.125" stop-color="#000080"/><stop offset="0.170" stop-color="#000080"/><stop offset="0.221" stop-color="#000081"/><stop offset="0.280" stop-color="#000081"/><stop offset="0.346" stop-color="#000083"/><stop offset="0.419" stop-color="#000086"/><stop offset="0.498" stop-color="#00008d"/><stop offset="0.585" stop-color="#00009c"/><stop offset="0.678" stop-color="#0000bf"/><stop offset="0.779" stop-color="#0017ff"/><stop offset="0.886" stop-color="#00fdff"/><stop offset="1.000" stop-color="#800000"/></linearGradient><linearGradient id="d15" gradientUnits="userSpaceOnUse" x1="1184.7" y1="0" x2="1273.8" y2="0"><stop offset="0.000" stop-color="#000080"/><stop offset="0.003" stop-color="#000080"/><stop offset="0.014" stop-color="#000080"/><stop offset="0.031" stop-color="#000080"/><stop offset="0.055" stop-color="#000080"/><stop offset="0.087" stop-color="#000080"/><stop offset="0.125" stop-color="#000080"/><stop offset="0.170" stop-color="#000080"/><stop offset="0.221" stop-color="#000081"/><stop offset="0.280" stop-color="#000081"/><stop offset="0.346" stop-color="#000083"/><stop offset="0.419" stop-color="#000086"/><stop offset="0.498" stop-color="#00008d"/><stop offset="0.585" stop-color="#00009c"/><stop offset="0.678" stop-color="#0000bf"/><stop offset="0.779" stop-color="#0017ff"/><stop offset="0.886" stop-color="#00fdff"/><stop offset="1.000" stop-color="#800000"/></linearGradient><linearGradient id="d16" gradientUnits="userSpaceOnUse" x1="1196.1" y1="0" x2="1273.8" y2="0"><stop offset="0.000" stop-color="#000080"/><stop offset="0.003" stop-color="#000080"/><stop offset="0.014" stop-color="#000080"/><stop offset="0.031" stop-color="#000080"/><stop offset="0.055" stop-color="#000080"/><stop offset="0.087" stop-color="#000080"/><stop offset="0.125" stop-color="#000081"/><stop offset="0.170" stop-color="#000081"/><stop offset="0.221" stop-color="#000082"/><stop offset="0.280" stop-color="#000084"/><stop offset="0.346" stop-color="#000087"/><stop offset="0.419" stop-color="#00008c"/><stop offset="0.498" stop-color="#000097"/><stop offset="0.585" stop-color="#0000ac"/><stop offset="0.678" stop-color="#0000da"/><stop offset="0.779" stop-color="#0041ff"/><stop offset="0.886" stop-color="#31ffce"/><stop offset="1.000" stop-color="#800000"/></linearGradient><linearGradient id="d17" gradientUnits="userSpaceOnUse" x1="1196.1" y1="0" x2="1273.8" y2="0"><stop offset="0.000" stop-color="#000080"/><stop offset="0.003" stop-color="#000080"/><stop offset="0.014" stop-color="#000080"/><stop offset="0.031" stop-color="#000080"/><stop offset="0.055" stop-color="#000080"/><stop offset="0.087" stop-color="#000080"/><stop offset="0.125" stop-color="#000081"/><stop offset="0.170" stop-color="#000081"/><stop offset="0.221" stop-color="#000082"/><stop offset="0.280" stop-color="#000084"/><stop offset="0.346" stop-color="#000087"/><stop offset="0.419" stop-color="#00008c"/><stop offset="0.498" stop-color="#000097"/><stop offset="0.585" stop-color="#0000ac"/><stop offset="0.678" stop-color="#0000da"/><stop offset="0.779" stop-color="#0041ff"/><stop offset="0.886" stop-color="#31ffce"/><stop offset="1.000" stop-color="#800000"/></linearGradient><linearGradient id="d18" gradientUnits="userSpaceOnUse" x1="1206.4" y1="0" x2="1273.8" y2="0"><stop offset="0.000" stop-color="#000080"/><stop offset="0.003" stop-color="#000080"/><stop offset="0.014" stop-color="#000080"/><stop offset="0.031" stop-color="#000081"/><stop offset="0.055" stop-color="#000081"/><stop offset="0.087" stop-color="#000082"/><stop offset="0.125" stop-color="#000082"/><stop offset="0.170" stop-color="#000084"/><stop offset="0.221" stop-color="#000085"/><stop offset="0.280" stop-color="#000088"/><stop offset="0.346" stop-color="#00008d"/><stop offset="0.419" stop-color="#000096"/><stop offset="0.498" stop-color="#0000a6"/><stop offset="0.585" stop-color="#0000c3"/><stop offset="0.678" stop-color="#0000fc"/><stop offset="0.779" stop-color="#0071ff"/><stop offset="0.886" stop-color="#66ff99"/><stop offset="1.000" stop-color="#800000"/></linearGradient><linearGradient id="d19" gradientUnits="userSpaceOnUse" x1="1206.4" y1="0" x2="1273.8" y2="0"><stop offset="0.000" stop-color="#000080"/><stop offset="0.003" stop-color="#000080"/><stop offset="0.014" stop-color="#000080"/><stop offset="0.031" stop-color="#000081"/><stop offset="0.055" stop-color="#000081"/><stop offset="0.087" stop-color="#000082"/><stop offset="0.125" stop-color="#000082"/><stop offset="0.170" stop-color="#000084"/><stop offset="0.221" stop-color="#000085"/><stop offset="0.280" stop-color="#000088"/><stop offset="0.346" stop-color="#00008d"/><stop offset="0.419" stop-color="#000096"/><stop offset="0.498" stop-color="#0000a6"/><stop offset="0.585" stop-color="#0000c3"/><stop offset="0.678" stop-color="#0000fc"/><stop offset="0.779" stop-color="#0071ff"/><stop offset="0.886" stop-color="#66ff99"/><stop offset="1.000" stop-color="#800000"/></linearGradient><linearGradient id="d20" gradientUnits="userSpaceOnUse" x1="1215.8" y1="0" x2="1273.8" y2="0"><stop offset="0.000" stop-color="#000080"/><stop offset="0.003" stop-color="#000081"/><stop offset="0.014" stop-color="#000081"/><stop offset="0.031" stop-color="#000082"/><stop offset="0.055" stop-color="#000083"/><stop offset="0.087" stop-color="#000084"/><stop offset="0.125" stop-color="#000086"/><stop offset="0.170" stop-color="#000088"/><stop offset="0.221" stop-color="#00008b"/><stop offset="0.280" stop-color="#000090"/><stop offset="0.346" stop-color="#000099"/><stop offset="0.419" stop-color="#0000a6"/><stop offset="0.498" stop-color="#0000bc"/><stop offset="0.585" stop-color="#0000e2"/><stop offset="0.678" stop-color="#0027ff"/><stop offset="0.779" stop-color="#00a6ff"/><stop offset="0.886" stop-color="#9aff65"/><stop offset="1.000" stop-color="#800000"/></linearGradient><linearGradient id="d21" gradientUnits="userSpaceOnUse" x1="1215.8" y1="0" x2="1273.8" y2="0"><stop offset="0.000" stop-color="#000080"/><stop offset="0.003" stop-color="#000081"/><stop offset="0.014" stop-color="#000081"/><stop offset="0.031" stop-color="#000082"/><stop offset="0.055" stop-color="#000083"/><stop offset="0.087" stop-color="#000084"/><stop offset="0.125" stop-color="#000086"/><stop offset="0.170" stop-color="#000088"/><stop offset="0.221" stop-color="#00008b"/><stop offset="0.280" stop-color="#000090"/><stop offset="0.346" stop-color="#000099"/><stop offset="0.419" stop-color="#0000a6"/><stop offset="0.498" stop-color="#0000bc"/><stop offset="0.585" stop-color="#0000e2"/><stop offset="0.678" stop-color="#0027ff"/><stop offset="0.779" stop-color="#00a6ff"/><stop offset="0.886" stop-color="#9aff65"/><stop offset="1.000" stop-color="#800000"/></linearGradient><linearGradient id="d22" gradientUnits="userSpaceOnUse" x1="1224.7" y1="0" x2="1273.8" y2="0"><stop offset="0.000" stop-color="#000081"/><stop offset="0.003" stop-color="#000082"/><stop offset="0.014" stop-color="#000083"/><stop offset="0.031" stop-color="#000085"/><stop offset="0.055" stop-color="#000087"/><stop offset="0.087" stop-color="#000089"/><stop offset="0.125" stop-color="#00008c"/><stop offset="0.170" stop-color="#000090"/><stop offset="0.221" stop-color="#000096"/><stop offset="0.280" stop-color="#00009f"/><stop offset="0.346" stop-color="#0000ab"/><stop offset="0.419" stop-color="#0000be"/><stop offset="0.498" stop-color="#0000dc"/><stop offset="0.585" stop-color="#000dff"/><stop offset="0.678" stop-color="#005cff"/><stop offset="0.779" stop-color="#00e4ff"/><stop offset="0.886" stop-color="#d2ff2d"/><stop offset="1.000" stop-color="#800000"/></linearGradient><linearGradient id="d23" gradientUnits="userSpaceOnUse" x1="1224.7" y1="0" x2="1273.8" y2="0"><stop offset="0.000" stop-color="#000081"/><stop offset="0.003" stop-color="#000082"/><stop offset="0.014" stop-color="#000083"/><stop offset="0.031" stop-color="#000085"/><stop offset="0.055" stop-color="#000087"/><stop offset="0.087" stop-color="#000089"/><stop offset="0.125" stop-color="#00008c"/><stop offset="0.170" stop-color="#000090"/><stop offset="0.221" stop-color="#000096"/><stop offset="0.280" stop-color="#00009f"/><stop offset="0.346" stop-color="#0000ab"/><stop offset="0.419" stop-color="#0000be"/><stop offset="0.498" stop-color="#0000dc"/><stop offset="0.585" stop-color="#000dff"/><stop offset="0.678" stop-color="#005cff"/><stop offset="0.779" stop-color="#00e4ff"/><stop offset="0.886" stop-color="#d2ff2d"/><stop offset="1.000" stop-color="#800000"/></linearGradient><linearGradient id="d24" gradientUnits="userSpaceOnUse" x1="1232.9" y1="0" x2="1273.8" y2="0"><stop offset="0.000" stop-color="#000082"/><stop offset="0.003" stop-color="#000085"/><stop offset="0.014" stop-color="#000087"/><stop offset="0.031" stop-color="#00008a"/><stop offset="0.055" stop-color="#00008e"/><stop offset="0.087" stop-color="#000092"/><stop offset="0.125" stop-color="#000098"/><stop offset="0.170" stop-color="#00009f"/><stop offset="0.221" stop-color="#0000a8"/><stop offset="0.280" stop-color="#0000b5"/><stop offset="0.346" stop-color="#0000c8"/><stop offset="0.419" stop-color="#0000e2"/><stop offset="0.498" stop-color="#0009ff"/><stop offset="0.585" stop-color="#0043ff"/><stop offset="0.678" stop-color="#009bff"/><stop offset="0.779" stop-color="#28ffd7"/><stop offset="0.886" stop-color="#fff500"/><stop offset="1.000" stop-color="#810000"/></linearGradient><linearGradient id="d25" gradientUnits="userSpaceOnUse" x1="1232.9" y1="0" x2="1273.8" y2="0"><stop offset="0.000" stop-color="#000082"/><stop offset="0.003" stop-color="#000085"/><stop offset="0.014" stop-color="#000087"/><stop offset="0.031" stop-color="#00008a"/><stop offset="0.055" stop-color="#00008e"/><stop offset="0.087" stop-color="#000092"/><stop offset="0.125" stop-color="#000098"/><stop offset="0.170" stop-color="#00009f"/><stop offset="0.221" stop-color="#0000a8"/><stop offset="0.280" stop-color="#0000b5"/><stop offset="0.346" stop-color="#0000c8"/><stop offset="0.419" stop-color="#0000e2"/><stop offset="0.498" stop-color="#0009ff"/><stop offset="0.585" stop-color="#0043ff"/><stop offset="0.678" stop-color="#009bff"/><stop offset="0.779" stop-color="#28ffd7"/><stop offset="0.886" stop-color="#fff500"/><stop offset="1.000" stop-color="#810000"/></linearGradient><linearGradient id="d26" gradientUnits="userSpaceOnUse" x1="1240.4" y1="0" x2="1273.8" y2="0"><stop offset="0.000" stop-color="#000086"/><stop offset="0.003" stop-color="#00008a"/><stop offset="0.014" stop-color="#00008f"/><stop offset="0.031" stop-color="#000094"/><stop offset="0.055" stop-color="#00009b"/><stop offset="0.087" stop-color="#0000a2"/><stop offset="0.125" stop-color="#0000ab"/><stop offset="0.170" stop-color="#0000b6"/><stop offset="0.221" stop-color="#0000c5"/><stop offset="0.280" stop-color="#0000d8"/><stop offset="0.346" stop-color="#0000f1"/><stop offset="0.419" stop-color="#0014ff"/><stop offset="0.498" stop-color="#0042ff"/><stop offset="0.585" stop-color="#0084ff"/><stop offset="0.678" stop-color="#00e3ff"/><stop offset="0.779" stop-color="#6fff90"/><stop offset="0.886" stop-color="#ffbf00"/><stop offset="1.000" stop-color="#830000"/></linearGradient><linearGradient id="d27" gradientUnits="userSpaceOnUse" x1="1240.4" y1="0" x2="1273.8" y2="0"><stop offset="0.000" stop-color="#000086"/><stop offset="0.003" stop-color="#00008a"/><stop offset="0.014" stop-color="#00008f"/><stop offset="0.031" stop-color="#000094"/><stop offset="0.055" stop-color="#00009b"/><stop offset="0.087" stop-color="#0000a2"/><stop offset="0.125" stop-color="#0000ab"/><stop offset="0.170" stop-color="#0000b6"/><stop offset="0.221" stop-color="#0000c5"/><stop offset="0.280" stop-color="#0000d8"/><stop offset="0.346" stop-color="#0000f1"/><stop offset="0.419" stop-color="#0014ff"/><stop offset="0.498" stop-color="#0042ff"/><stop offset="0.585" stop-color="#0084ff"/><stop offset="0.678" stop-color="#00e3ff"/><stop offset="0.779" stop-color="#6fff90"/><stop offset="0.886" stop-color="#ffbf00"/><stop offset="1.000" stop-color="#830000"/></linearGradient><linearGradient id="d28" gradientUnits="userSpaceOnUse" x1="1248.6" y1="0" x2="1273.8" y2="0"><stop offset="0.000" stop-color="#00008d"/><stop offset="0.003" stop-color="#000096"/><stop offset="0.014" stop-color="#00009f"/><stop offset="0.031" stop-color="#0000aa"/><stop offset="0.055" stop-color="#0000b5"/><stop offset="0.087" stop-color="#0000c2"/><stop offset="0.125" stop-color="#0000d1"/><stop offset="0.170" stop-color="#0000e3"/><stop offset="0.221" stop-color="#0000f9"/><stop offset="0.280" stop-color="#0015ff"/><stop offset="0.346" stop-color="#0037ff"/><stop offset="0.419" stop-color="#0062ff"/><stop offset="0.498" stop-color="#009aff"/><stop offset="0.585" stop-color="#00e2ff"/><stop offset="0.678" stop-color="#45ffba"/><stop offset="0.779" stop-color="#c8ff37"/><stop offset="0.886" stop-color="#ff8300"/><stop offset="1.000" stop-color="#880000"/></linearGradient><linearGradient id="d29" gradientUnits="userSpaceOnUse" x1="1248.6" y1="0" x2="1273.8" y2="0"><stop offset="0.000" stop-color="#00008d"/><stop offset="0.003" stop-color="#000096"/><stop offset="0.014" stop-color="#00009f"/><stop offset="0.031" stop-color="#0000aa"/><stop offset="0.055" stop-color="#0000b5"/><stop offset="0.087" stop-color="#0000c2"/><stop offset="0.125" stop-color="#0000d1"/><stop offset="0.170" stop-color="#0000e3"/><stop offset="0.221" stop-color="#0000f9"/><stop offset="0.280" stop-color="#0015ff"/><stop offset="0.346" stop-color="#0037ff"/><stop offset="0.419" stop-color="#0062ff"/><stop offset="0.498" stop-color="#009aff"/><stop offset="0.585" stop-color="#00e2ff"/><stop offset="0.678" stop-color="#45ffba"/><stop offset="0.779" stop-color="#c8ff37"/><stop offset="0.886" stop-color="#ff8300"/><stop offset="1.000" stop-color="#880000"/></linearGradient><linearGradient id="d30" gradientUnits="userSpaceOnUse" x1="1253.8" y1="0" x2="1273.8" y2="0"><stop offset="0.000" stop-color="#000096"/><stop offset="0.003" stop-color="#0000a3"/><stop offset="0.014" stop-color="#0000b1"/><stop offset="0.031" stop-color="#0000c0"/><stop offset="0.055" stop-color="#0000d0"/><stop offset="0.087" stop-color="#0000e2"/><stop offset="0.125" stop-color="#0000f7"/><stop offset="0.170" stop-color="#0010ff"/><stop offset="0.221" stop-color="#002bff"/><stop offset="0.280" stop-color="#004cff"/><stop offset="0.346" stop-color="#0074ff"/><stop offset="0.419" stop-color="#00a4ff"/><stop offset="0.498" stop-color="#00dfff"/><stop offset="0.585" stop-color="#2bffd4"/><stop offset="0.678" stop-color="#89ff76"/><stop offset="0.779" stop-color="#fffc00"/><stop offset="0.886" stop-color="#ff5f00"/><stop offset="1.000" stop-color="#910000"/></linearGradient><linearGradient id="d31" gradientUnits="userSpaceOnUse" x1="1253.8" y1="0" x2="1273.8" y2="0"><stop offset="0.000" stop-color="#000096"/><stop offset="0.003" stop-color="#0000a3"/><stop offset="0.014" stop-color="#0000b1"/><stop offset="0.031" stop-color="#0000c0"/><stop offset="0.055" stop-color="#0000d0"/><stop offset="0.087" stop-color="#0000e2"/><stop offset="0.125" stop-color="#0000f7"/><stop offset="0.170" stop-color="#0010ff"/><stop offset="0.221" stop-color="#002bff"/><stop offset="0.280" stop-color="#004cff"/><stop offset="0.346" stop-color="#0074ff"/><stop offset="0.419" stop-color="#00a4ff"/><stop offset="0.498" stop-color="#00dfff"/><stop offset="0.585" stop-color="#2bffd4"/><stop offset="0.678" stop-color="#89ff76"/><stop offset="0.779" stop-color="#fffc00"/><stop offset="0.886" stop-color="#ff5f00"/><stop offset="1.000" stop-color="#910000"/></linearGradient><linearGradient id="d32" gradientUnits="userSpaceOnUse" x1="1259.7" y1="0" x2="1273.8" y2="0"><stop offset="0.000" stop-color="#0000a7"/><stop offset="0.003" stop-color="#0000bb"/><stop offset="0.014" stop-color="#0000d0"/><stop offset="0.031" stop-color="#0000e6"/><stop offset="0.055" stop-color="#0000fd"/><stop offset="0.087" stop-color="#0017ff"/><stop offset="0.125" stop-color="#0033ff"/><stop offset="0.170" stop-color="#0051ff"/><stop offset="0.221" stop-color="#0074ff"/><stop offset="0.280" stop-color="#009bff"/><stop offset="0.346" stop-color="#00c8ff"/><stop offset="0.419" stop-color="#00fcff"/><stop offset="0.498" stop-color="#39ffc6"/><stop offset="0.585" stop-color="#81ff7e"/><stop offset="0.678" stop-color="#d7ff28"/><stop offset="0.779" stop-color="#ffc100"/><stop offset="0.886" stop-color="#ff4400"/><stop offset="1.000" stop-color="#aa0000"/></linearGradient><linearGradient id="d33" gradientUnits="userSpaceOnUse" x1="1259.7" y1="0" x2="1273.8" y2="0"><stop offset="0.000" stop-color="#0000a7"/><stop offset="0.003" stop-color="#0000bb"/><stop offset="0.014" stop-color="#0000d0"/><stop offset="0.031" stop-color="#0000e6"/><stop offset="0.055" stop-color="#0000fd"/><stop offset="0.087" stop-color="#0017ff"/><stop offset="0.125" stop-color="#0033ff"/><stop offset="0.170" stop-color="#0051ff"/><stop offset="0.221" stop-color="#0074ff"/><stop offset="0.280" stop-color="#009bff"/><stop offset="0.346" stop-color="#00c8ff"/><stop offset="0.419" stop-color="#00fcff"/><stop offset="0.498" stop-color="#39ffc6"/><stop offset="0.585" stop-color="#81ff7e"/><stop offset="0.678" stop-color="#d7ff28"/><stop offset="0.779" stop-color="#ffc100"/><stop offset="0.886" stop-color="#ff4400"/><stop offset="1.000" stop-color="#aa0000"/></linearGradient><linearGradient id="d34" gradientUnits="userSpaceOnUse" x1="1266.7" y1="0" x2="1273.8" y2="0"><stop offset="0.000" stop-color="#0000cc"/><stop offset="0.003" stop-color="#0000e9"/><stop offset="0.014" stop-color="#0007ff"/><stop offset="0.031" stop-color="#0026ff"/><stop offset="0.055" stop-color="#0045ff"/><stop offset="0.087" stop-color="#0065ff"/><stop offset="0.125" stop-color="#0087ff"/><stop offset="0.170" stop-color="#00acff"/><stop offset="0.221" stop-color="#00d2ff"/><stop offset="0.280" stop-color="#00fbff"/><stop offset="0.346" stop-color="#29ffd6"/><stop offset="0.419" stop-color="#59ffa6"/><stop offset="0.498" stop-color="#8eff71"/><stop offset="0.585" stop-color="#c7ff38"/><stop offset="0.678" stop-color="#fff700"/><stop offset="0.779" stop-color="#ffb000"/><stop offset="0.886" stop-color="#ff6200"/><stop offset="1.000" stop-color="#ff0a00"/></linearGradient><linearGradient id="d35" gradientUnits="userSpaceOnUse" x1="1266.7" y1="0" x2="1273.8" y2="0"><stop offset="0.000" stop-color="#0000cc"/><stop offset="0.003" stop-color="#0000e9"/><stop offset="0.014" stop-color="#0007ff"/><stop offset="0.031" stop-color="#0026ff"/><stop offset="0.055" stop-color="#0045ff"/><stop offset="0.087" stop-color="#0065ff"/><stop offset="0.125" stop-color="#0087ff"/><stop offset="0.170" stop-color="#00acff"/><stop offset="0.221" stop-color="#00d2ff"/><stop offset="0.280" stop-color="#00fbff"/><stop offset="0.346" stop-color="#29ffd6"/><stop offset="0.419" stop-color="#59ffa6"/><stop offset="0.498" stop-color="#8eff71"/><stop offset="0.585" stop-color="#c7ff38"/><stop offset="0.678" stop-color="#fff700"/><stop offset="0.779" stop-color="#ffb000"/><stop offset="0.886" stop-color="#ff6200"/><stop offset="1.000" stop-color="#ff0a00"/></linearGradient></defs><path d="M1019.6 1196.2 1019.62 1193.92 1019.67 1191.6 1019.76 1189.24 1019.89 1186.85 1020.05 1184.43 1020.25 1181.99 1020.48 1179.51 1020.75 1177.02 1021.05 1174.5 1021.4 1171.97 1021.77 1169.43 1022.18 1166.87 1022.63 1164.3 1023.12 1161.73 1023.64 1159.15 1024.2 1156.58 1024.79 1154 1025.42 1151.43 1026.08 1148.87 1026.78 1146.33 1027.52 1143.79 1028.29 1141.28 1029.1 1138.78 1029.94 1136.3 1030.82 1133.85 1031.73 1131.43 1032.69 1129.04 1033.67 1126.68 1034.7 1124.35 1035.76 1122.06 1036.85 1119.81 1037.98 1117.6 1039.15 1115.44 1040.35 1113.32 1041.59 1111.24 1042.86 1109.21 1044.17 1107.23 1045.52 1105.3 1046.9 1103.42 1048.32 1101.6 1049.78 1099.82 1051.27 1098.1 1052.79 1096.44 1054.35 1094.83 1055.95 1093.27 1057.58 1091.77 1059.25 1090.32 1060.96 1088.93 1062.7 1087.59 1064.48 1086.31 1066.29 1085.08 1068.14 1083.9 1070.02 1082.78 1071.94 1081.7 1073.9 1080.68 1075.89 1079.7 1077.92 1078.78 1079.99 1077.9 1082.09 1077.07 1084.22 1076.28 1086.39 1075.53 1088.6 1074.83 1090.85 1074.16 1093.13 1073.54 1095.44 1072.95 1097.79 1072.4 1100.18 1071.89 1102.6 1071.4 1105.06 1070.95 1107.56 1070.53 1110.09 1070.14 1112.66 1069.77 1115.26 1069.43 1117.9 1069.11 1120.57 1068.82 1123.28 1068.55 1126.03 1068.3 1128.81 1068.07 1131.63 1067.85 1134.48 1067.66 1137.37 1067.48 1140.3 1067.31 1143.26 1067.16 1146.26 1067.02 1149.29 1066.89 1152.36 1066.77 1155.47 1066.67 1158.61 1066.57 1161.79 1066.48 1165 1066.4 1168.25 1066.33 1171.53 1066.26 1174.86 1066.2 1178.21 1066.15 1181.61 1066.1 1185.03 1066.06 1188.5 1066.02 1192 1065.98 1195.53 1065.95 1199.11 1065.92 1202.72 1065.9 1206.36 1065.88 1210.04 1065.86 1213.75 1065.84 1217.51 1065.82 1221.29 1065.81 1225.12 1065.79 1228.98 1065.78 1232.87 1065.77 1236.8 1065.76 1240.77 1065.76 1244.77 1065.75 1248.81 1065.74 1252.89 1065.74 1257 1065.73 1261.14 1065.73 1265.33 1065.72 1269.55 1065.72 1273.8 1065.72" fill="none" stroke="url(#d0)" stroke-width="2.0"/><path d="M1019.6 935.2 1019.62 937.48 1019.67 939.8 1019.76 942.16 1019.89 944.55 1020.05 946.97 1020.25 949.41 1020.48 951.89 1020.75 954.38 1021.05 956.9 1021.4 959.43 1021.77 961.97 1022.18 964.53 1022.63 967.1 1023.12 969.67 1023.64 972.25 1024.2 974.82 1024.79 977.4 1025.42 979.97 1026.08 982.53 1026.78 985.07 1027.52 987.61 1028.29 990.12 1029.1 992.62 1029.94 995.1 1030.82 997.55 1031.73 999.97 1032.69 1002.36 1033.67 1004.72 1034.7 1007.05 1035.76 1009.34 1036.85 1011.59 1037.98 1013.8 1039.15 1015.96 1040.35 1018.08 1041.59 1020.16 1042.86 1022.19 1044.17 1024.17 1045.52 1026.1 1046.9 1027.98 1048.32 1029.8 1049.78 1031.58 1051.27 1033.3 1052.79 1034.96 1054.35 1036.57 1055.95 1038.13 1057.58 1039.63 1059.25 1041.08 1060.96 1042.47 1062.7 1043.81 1064.48 1045.09 1066.29 1046.32 1068.14 1047.5 1070.02 1048.62 1071.94 1049.7 1073.9 1050.72 1075.89 1051.7 1077.92 1052.62 1079.99 1053.5 1082.09 1054.33 1084.22 1055.12 1086.39 1055.87 1088.6 1056.57 1090.85 1057.24 1093.13 1057.86 1095.44 1058.45 1097.79 1059 1100.18 1059.51 1102.6 1060 1105.06 1060.45 1107.56 1060.87 1110.09 1061.26 1112.66 1061.63 1115.26 1061.97 1117.9 1062.29 1120.57 1062.58 1123.28 1062.85 1126.03 1063.1 1128.81 1063.33 1131.63 1063.55 1134.48 1063.74 1137.37 1063.92 1140.3 1064.09 1143.26 1064.24 1146.26 1064.38 1149.29 1064.51 1152.36 1064.63 1155.47 1064.73 1158.61 1064.83 1161.79 1064.92 1165 1065 1168.25 1065.07 1171.53 1065.14 1174.86 1065.2 1178.21 1065.25 1181.61 1065.3 1185.03 1065.34 1188.5 1065.38 1192 1065.42 1195.53 1065.45 1199.11 1065.48 1202.72 1065.5 1206.36 1065.52 1210.04 1065.54 1213.75 1065.56 1217.51 1065.58 1221.29 1065.59 1225.12 1065.61 1228.98 1065.62 1232.87 1065.63 1236.8 1065.64 1240.77 1065.64 1244.77 1065.65 1248.81 1065.66 1252.89 1065.66 1257 1065.67 1261.14 1065.67 1265.33 1065.68 1269.55 1065.68 1273.8 1065.68" fill="none" stroke="url(#d1)" stroke-width="2.0"/><path d="M1064.6 1196.2 1064.61 1194 1064.66 1191.77 1064.73 1189.51 1064.84 1187.21 1064.97 1184.89 1065.13 1182.54 1065.32 1180.16 1065.55 1177.77 1065.8 1175.35 1066.08 1172.92 1066.39 1170.48 1066.73 1168.02 1067.1 1165.55 1067.5 1163.08 1067.92 1160.6 1068.38 1158.12 1068.87 1155.64 1069.39 1153.17 1069.93 1150.7 1070.51 1148.23 1071.11 1145.79 1071.75 1143.35 1072.41 1140.93 1073.11 1138.53 1073.83 1136.15 1074.59 1133.79 1075.37 1131.46 1076.18 1129.15 1077.02 1126.88 1077.9 1124.64 1078.8 1122.43 1079.73 1120.26 1080.69 1118.12 1081.68 1116.03 1082.7 1113.97 1083.75 1111.96 1084.82 1109.99 1085.93 1108.06 1087.07 1106.18 1088.24 1104.35 1089.43 1102.57 1090.66 1100.83 1091.92 1099.15 1093.2 1097.51 1094.52 1095.93 1095.86 1094.39 1097.23 1092.91 1098.64 1091.47 1100.07 1090.09 1101.53 1088.76 1103.02 1087.48 1104.55 1086.24 1106.1 1085.06 1107.68 1083.93 1109.29 1082.84 1110.93 1081.8 1112.6 1080.81 1114.3 1079.87 1116.02 1078.97 1117.78 1078.11 1119.57 1077.3 1121.39 1076.53 1123.23 1075.8 1125.11 1075.1 1127.02 1074.45 1128.95 1073.83 1130.92 1073.25 1132.91 1072.7 1134.93 1072.18 1136.99 1071.7 1139.07 1071.25 1141.18 1070.82 1143.33 1070.42 1145.5 1070.05 1147.7 1069.7 1149.93 1069.38 1152.19 1069.08 1154.48 1068.8 1156.8 1068.54 1159.15 1068.3 1161.53 1068.07 1163.93 1067.87 1166.37 1067.68 1168.84 1067.5 1171.33 1067.34 1173.86 1067.19 1176.42 1067.05 1179 1066.93 1181.62 1066.81 1184.26 1066.71 1186.93 1066.61 1189.64 1066.52 1192.37 1066.44 1195.13 1066.37 1197.93 1066.3 1200.75 1066.24 1203.6 1066.18 1206.48 1066.13 1209.39 1066.09 1212.33 1066.05 1215.3 1066.01 1218.3 1065.98 1221.33 1065.95 1224.38 1065.92 1227.47 1065.9 1230.59 1065.87 1233.74 1065.86 1236.91 1065.84 1240.12 1065.82 1243.35 1065.81 1246.62 1065.8 1249.91 1065.78 1253.24 1065.77 1256.59 1065.77 1259.97 1065.76 1263.39 1065.75 1266.83 1065.74 1270.3 1065.74 1273.8 1065.73" fill="none" stroke="url(#d2)" stroke-width="2.0"/><path d="M1064.6 935.2 1064.61 937.4 1064.66 939.63 1064.73 941.89 1064.84 944.19 1064.97 946.51 1065.13 948.86 1065.32 951.24 1065.55 953.63 1065.8 956.05 1066.08 958.48 1066.39 960.92 1066.73 963.38 1067.1 965.85 1067.5 968.32 1067.92 970.8 1068.38 973.28 1068.87 975.76 1069.39 978.23 1069.93 980.7 1070.51 983.17 1071.11 985.61 1071.75 988.05 1072.41 990.47 1073.11 992.87 1073.83 995.25 1074.59 997.61 1075.37 999.94 1076.18 1002.25 1077.02 1004.52 1077.9 1006.76 1078.8 1008.97 1079.73 1011.14 1080.69 1013.28 1081.68 1015.37 1082.7 1017.43 1083.75 1019.44 1084.82 1021.41 1085.93 1023.34 1087.07 1025.22 1088.24 1027.05 1089.43 1028.83 1090.66 1030.57 1091.92 1032.25 1093.2 1033.89 1094.52 1035.47 1095.86 1037.01 1097.23 1038.49 1098.64 1039.93 1100.07 1041.31 1101.53 1042.64 1103.02 1043.92 1104.55 1045.16 1106.1 1046.34 1107.68 1047.47 1109.29 1048.56 1110.93 1049.6 1112.6 1050.59 1114.3 1051.53 1116.02 1052.43 1117.78 1053.29 1119.57 1054.1 1121.39 1054.87 1123.23 1055.6 1125.11 1056.3 1127.02 1056.95 1128.95 1057.57 1130.92 1058.15 1132.91 1058.7 1134.93 1059.22 1136.99 1059.7 1139.07 1060.15 1141.18 1060.58 1143.33 1060.98 1145.5 1061.35 1147.7 1061.7 1149.93 1062.02 1152.19 1062.32 1154.48 1062.6 1156.8 1062.86 1159.15 1063.1 1161.53 1063.33 1163.93 1063.53 1166.37 1063.72 1168.84 1063.9 1171.33 1064.06 1173.86 1064.21 1176.42 1064.35 1179 1064.47 1181.62 1064.59 1184.26 1064.69 1186.93 1064.79 1189.64 1064.88 1192.37 1064.96 1195.13 1065.03 1197.93 1065.1 1200.75 1065.16 1203.6 1065.22 1206.48 1065.27 1209.39 1065.31 1212.33 1065.35 1215.3 1065.39 1218.3 1065.42 1221.33 1065.45 1224.38 1065.48 1227.47 1065.5 1230.59 1065.53 1233.74 1065.54 1236.91 1065.56 1240.12 1065.58 1243.35 1065.59 1246.62 1065.6 1249.91 1065.62 1253.24 1065.63 1256.59 1065.63 1259.97 1065.64 1263.39 1065.65 1266.83 1065.66 1270.3 1065.66 1273.8 1065.67" fill="none" stroke="url(#d3)" stroke-width="2.0"/><path d="M1096.7 1196.2 1096.71 1194.08 1096.75 1191.93 1096.81 1189.75 1096.9 1187.54 1097.01 1185.3 1097.15 1183.04 1097.31 1180.76 1097.5 1178.45 1097.71 1176.13 1097.95 1173.79 1098.21 1171.44 1098.5 1169.07 1098.81 1166.7 1099.15 1164.31 1099.51 1161.92 1099.9 1159.53 1100.31 1157.14 1100.75 1154.75 1101.21 1152.37 1101.7 1149.99 1102.22 1147.62 1102.75 1145.26 1103.32 1142.91 1103.9 1140.58 1104.52 1138.27 1105.15 1135.97 1105.82 1133.7 1106.5 1131.45 1107.22 1129.23 1107.96 1127.04 1108.72 1124.87 1109.51 1122.74 1110.32 1120.64 1111.16 1118.57 1112.02 1116.54 1112.91 1114.55 1113.82 1112.6 1114.76 1110.68 1115.72 1108.81 1116.71 1106.98 1117.72 1105.19 1118.76 1103.45 1119.82 1101.75 1120.91 1100.1 1122.03 1098.49 1123.16 1096.93 1124.33 1095.42 1125.51 1093.96 1126.73 1092.54 1127.97 1091.17 1129.23 1089.84 1130.52 1088.57 1131.83 1087.34 1133.17 1086.15 1134.53 1085.02 1135.92 1083.92 1137.33 1082.88 1138.77 1081.87 1140.23 1080.91 1141.72 1080 1143.24 1079.12 1144.77 1078.29 1146.34 1077.5 1147.93 1076.74 1149.54 1076.02 1151.18 1075.34 1152.84 1074.7 1154.53 1074.09 1156.24 1073.51 1157.98 1072.97 1159.74 1072.45 1161.53 1071.97 1163.35 1071.52 1165.18 1071.09 1167.05 1070.69 1168.94 1070.31 1170.85 1069.96 1172.79 1069.63 1174.75 1069.32 1176.74 1069.04 1178.75 1068.77 1180.79 1068.52 1182.86 1068.29 1184.94 1068.07 1187.06 1067.87 1189.2 1067.69 1191.36 1067.52 1193.55 1067.36 1195.76 1067.21 1198 1067.08 1200.26 1066.96 1202.55 1066.84 1204.87 1066.74 1207.2 1066.64 1209.57 1066.55 1211.96 1066.47 1214.37 1066.4 1216.81 1066.33 1219.27 1066.27 1221.76 1066.22 1224.28 1066.16 1226.81 1066.12 1229.38 1066.08 1231.97 1066.04 1234.58 1066 1237.22 1065.97 1239.88 1065.94 1242.57 1065.92 1245.29 1065.89 1248.02 1065.87 1250.79 1065.85 1253.58 1065.84 1256.39 1065.82 1259.23 1065.81 1262.09 1065.8 1264.98 1065.79 1267.9 1065.78 1270.84 1065.77 1273.8 1065.76" fill="none" stroke="url(#d4)" stroke-width="2.0"/><path d="M1096.7 935.2 1096.71 937.32 1096.75 939.47 1096.81 941.65 1096.9 943.86 1097.01 946.1 1097.15 948.36 1097.31 950.64 1097.5 952.95 1097.71 955.27 1097.95 957.61 1098.21 959.96 1098.5 962.33 1098.81 964.7 1099.15 967.09 1099.51 969.48 1099.9 971.87 1100.31 974.26 1100.75 976.65 1101.21 979.03 1101.7 981.41 1102.22 983.78 1102.75 986.14 1103.32 988.49 1103.9 990.82 1104.52 993.13 1105.15 995.43 1105.82 997.7 1106.5 999.95 1107.22 1002.17 1107.96 1004.36 1108.72 1006.53 1109.51 1008.66 1110.32 1010.76 1111.16 1012.83 1112.02 1014.86 1112.91 1016.85 1113.82 1018.8 1114.76 1020.72 1115.72 1022.59 1116.71 1024.42 1117.72 1026.21 1118.76 1027.95 1119.82 1029.65 1120.91 1031.3 1122.03 1032.91 1123.16 1034.47 1124.33 1035.98 1125.51 1037.44 1126.73 1038.86 1127.97 1040.23 1129.23 1041.56 1130.52 1042.83 1131.83 1044.06 1133.17 1045.25 1134.53 1046.38 1135.92 1047.48 1137.33 1048.52 1138.77 1049.53 1140.23 1050.49 1141.72 1051.4 1143.24 1052.28 1144.77 1053.11 1146.34 1053.9 1147.93 1054.66 1149.54 1055.38 1151.18 1056.06 1152.84 1056.7 1154.53 1057.31 1156.24 1057.89 1157.98 1058.43 1159.74 1058.95 1161.53 1059.43 1163.35 1059.88 1165.18 1060.31 1167.05 1060.71 1168.94 1061.09 1170.85 1061.44 1172.79 1061.77 1174.75 1062.08 1176.74 1062.36 1178.75 1062.63 1180.79 1062.88 1182.86 1063.11 1184.94 1063.33 1187.06 1063.53 1189.2 1063.71 1191.36 1063.88 1193.55 1064.04 1195.76 1064.19 1198 1064.32 1200.26 1064.44 1202.55 1064.56 1204.87 1064.66 1207.2 1064.76 1209.57 1064.85 1211.96 1064.93 1214.37 1065 1216.81 1065.07 1219.27 1065.13 1221.76 1065.18 1224.28 1065.24 1226.81 1065.28 1229.38 1065.32 1231.97 1065.36 1234.58 1065.4 1237.22 1065.43 1239.88 1065.46 1242.57 1065.48 1245.29 1065.51 1248.02 1065.53 1250.79 1065.55 1253.58 1065.56 1256.39 1065.58 1259.23 1065.59 1262.09 1065.6 1264.98 1065.61 1267.9 1065.62 1270.84 1065.63 1273.8 1065.64" fill="none" stroke="url(#d5)" stroke-width="2.0"/><path d="M1120.7 1196.2 1120.71 1194.15 1120.74 1192.08 1120.8 1189.97 1120.87 1187.84 1120.97 1185.69 1121.09 1183.51 1121.23 1181.3 1121.39 1179.08 1121.58 1176.84 1121.78 1174.59 1122.01 1172.32 1122.26 1170.04 1122.53 1167.75 1122.82 1165.45 1123.13 1163.14 1123.47 1160.83 1123.82 1158.52 1124.2 1156.21 1124.6 1153.91 1125.02 1151.6 1125.47 1149.31 1125.93 1147.02 1126.42 1144.74 1126.93 1142.48 1127.46 1140.23 1128.01 1138 1128.58 1135.78 1129.18 1133.59 1129.79 1131.42 1130.43 1129.27 1131.09 1127.15 1131.77 1125.06 1132.47 1122.99 1133.2 1120.96 1133.94 1118.96 1134.71 1116.99 1135.5 1115.06 1136.31 1113.16 1137.14 1111.3 1138 1109.48 1138.87 1107.69 1139.77 1105.95 1140.69 1104.25 1141.63 1102.59 1142.59 1100.97 1143.58 1099.39 1144.58 1097.86 1145.61 1096.37 1146.66 1094.92 1147.73 1093.52 1148.82 1092.17 1149.93 1090.85 1151.07 1089.58 1152.23 1088.36 1153.4 1087.18 1154.6 1086.04 1155.83 1084.94 1157.07 1083.89 1158.33 1082.88 1159.62 1081.91 1160.93 1080.98 1162.26 1080.09 1163.61 1079.24 1164.98 1078.43 1166.38 1077.66 1167.79 1076.92 1169.23 1076.22 1170.69 1075.55 1172.17 1074.92 1173.68 1074.31 1175.2 1073.74 1176.75 1073.21 1178.31 1072.7 1179.9 1072.21 1181.51 1071.76 1183.15 1071.33 1184.8 1070.93 1186.48 1070.55 1188.17 1070.2 1189.89 1069.86 1191.63 1069.55 1193.4 1069.26 1195.18 1068.99 1196.99 1068.73 1198.81 1068.49 1200.66 1068.27 1202.53 1068.06 1204.42 1067.87 1206.34 1067.69 1208.27 1067.53 1210.23 1067.37 1212.21 1067.23 1214.21 1067.1 1216.23 1066.98 1218.27 1066.87 1220.34 1066.76 1222.42 1066.67 1224.53 1066.58 1226.66 1066.5 1228.81 1066.43 1230.99 1066.36 1233.18 1066.3 1235.4 1066.24 1237.64 1066.19 1239.9 1066.14 1242.18 1066.1 1244.48 1066.06 1246.8 1066.03 1249.15 1065.99 1251.52 1065.96 1253.91 1065.94 1256.32 1065.91 1258.75 1065.89 1261.2 1065.87 1263.68 1065.85 1266.18 1065.84 1268.7 1065.82 1271.24 1065.81 1273.8 1065.8" fill="none" stroke="url(#d6)" stroke-width="2.0"/><path d="M1120.7 935.2 1120.71 937.25 1120.74 939.32 1120.8 941.43 1120.87 943.56 1120.97 945.71 1121.09 947.89 1121.23 950.1 1121.39 952.32 1121.58 954.56 1121.78 956.81 1122.01 959.08 1122.26 961.36 1122.53 963.65 1122.82 965.95 1123.13 968.26 1123.47 970.57 1123.82 972.88 1124.2 975.19 1124.6 977.49 1125.02 979.8 1125.47 982.09 1125.93 984.38 1126.42 986.66 1126.93 988.92 1127.46 991.17 1128.01 993.4 1128.58 995.62 1129.18 997.81 1129.79 999.98 1130.43 1002.13 1131.09 1004.25 1131.77 1006.34 1132.47 1008.41 1133.2 1010.44 1133.94 1012.44 1134.71 1014.41 1135.5 1016.34 1136.31 1018.24 1137.14 1020.1 1138 1021.92 1138.87 1023.71 1139.77 1025.45 1140.69 1027.15 1141.63 1028.81 1142.59 1030.43 1143.58 1032.01 1144.58 1033.54 1145.61 1035.03 1146.66 1036.48 1147.73 1037.88 1148.82 1039.23 1149.93 1040.55 1151.07 1041.82 1152.23 1043.04 1153.4 1044.22 1154.6 1045.36 1155.83 1046.46 1157.07 1047.51 1158.33 1048.52 1159.62 1049.49 1160.93 1050.42 1162.26 1051.31 1163.61 1052.16 1164.98 1052.97 1166.38 1053.74 1167.79 1054.48 1169.23 1055.18 1170.69 1055.85 1172.17 1056.48 1173.68 1057.09 1175.2 1057.66 1176.75 1058.19 1178.31 1058.7 1179.9 1059.19 1181.51 1059.64 1183.15 1060.07 1184.8 1060.47 1186.48 1060.85 1188.17 1061.2 1189.89 1061.54 1191.63 1061.85 1193.4 1062.14 1195.18 1062.41 1196.99 1062.67 1198.81 1062.91 1200.66 1063.13 1202.53 1063.34 1204.42 1063.53 1206.34 1063.71 1208.27 1063.87 1210.23 1064.03 1212.21 1064.17 1214.21 1064.3 1216.23 1064.42 1218.27 1064.53 1220.34 1064.64 1222.42 1064.73 1224.53 1064.82 1226.66 1064.9 1228.81 1064.97 1230.99 1065.04 1233.18 1065.1 1235.4 1065.16 1237.64 1065.21 1239.9 1065.26 1242.18 1065.3 1244.48 1065.34 1246.8 1065.37 1249.15 1065.41 1251.52 1065.44 1253.91 1065.46 1256.32 1065.49 1258.75 1065.51 1261.2 1065.53 1263.68 1065.55 1266.18 1065.56 1268.7 1065.58 1271.24 1065.59 1273.8 1065.6" fill="none" stroke="url(#d7)" stroke-width="2.0"/><path d="M1140.2 1196.2 1140.21 1194.22 1140.24 1192.22 1140.28 1190.19 1140.35 1188.13 1140.44 1186.05 1140.54 1183.95 1140.66 1181.83 1140.8 1179.69 1140.96 1177.53 1141.14 1175.36 1141.34 1173.17 1141.56 1170.97 1141.79 1168.76 1142.05 1166.55 1142.32 1164.32 1142.62 1162.09 1142.93 1159.86 1143.26 1157.63 1143.61 1155.4 1143.97 1153.17 1144.36 1150.95 1144.77 1148.74 1145.19 1146.53 1145.63 1144.33 1146.1 1142.15 1146.58 1139.98 1147.08 1137.82 1147.6 1135.69 1148.13 1133.57 1148.69 1131.47 1149.27 1129.4 1149.86 1127.35 1150.47 1125.32 1151.11 1123.32 1151.76 1121.35 1152.43 1119.41 1153.12 1117.5 1153.82 1115.63 1154.55 1113.78 1155.29 1111.97 1156.06 1110.2 1156.84 1108.46 1157.64 1106.76 1158.46 1105.09 1159.3 1103.47 1160.16 1101.88 1161.04 1100.34 1161.94 1098.83 1162.85 1097.36 1163.79 1095.94 1164.74 1094.56 1165.71 1093.21 1166.7 1091.91 1167.71 1090.65 1168.74 1089.43 1169.79 1088.25 1170.85 1087.11 1171.94 1086.02 1173.04 1084.96 1174.16 1083.94 1175.31 1082.96 1176.47 1082.02 1177.64 1081.12 1178.84 1080.25 1180.06 1079.42 1181.3 1078.63 1182.55 1077.87 1183.82 1077.15 1185.12 1076.46 1186.43 1075.8 1187.76 1075.18 1189.11 1074.58 1190.48 1074.02 1191.86 1073.48 1193.27 1072.98 1194.69 1072.5 1196.14 1072.04 1197.6 1071.61 1199.08 1071.21 1200.58 1070.83 1202.1 1070.47 1203.64 1070.13 1205.19 1069.81 1206.77 1069.51 1208.36 1069.23 1209.98 1068.97 1211.61 1068.72 1213.26 1068.49 1214.93 1068.28 1216.62 1068.08 1218.33 1067.89 1220.05 1067.72 1221.8 1067.56 1223.56 1067.41 1225.35 1067.27 1227.15 1067.14 1228.97 1067.02 1230.81 1066.91 1232.67 1066.8 1234.54 1066.71 1236.44 1066.62 1238.36 1066.54 1240.29 1066.47 1242.24 1066.4 1244.21 1066.33 1246.2 1066.28 1248.21 1066.22 1250.24 1066.18 1252.29 1066.13 1254.36 1066.09 1256.44 1066.05 1258.54 1066.02 1260.67 1065.99 1262.81 1065.96 1264.97 1065.93 1267.15 1065.91 1269.35 1065.89 1271.56 1065.87 1273.8 1065.85" fill="none" stroke="url(#d8)" stroke-width="2.0"/><path d="M1140.2 935.2 1140.21 937.18 1140.24 939.18 1140.28 941.21 1140.35 943.27 1140.44 945.35 1140.54 947.45 1140.66 949.57 1140.8 951.71 1140.96 953.87 1141.14 956.04 1141.34 958.23 1141.56 960.43 1141.79 962.64 1142.05 964.85 1142.32 967.08 1142.62 969.31 1142.93 971.54 1143.26 973.77 1143.61 976 1143.97 978.23 1144.36 980.45 1144.77 982.66 1145.19 984.87 1145.63 987.07 1146.1 989.25 1146.58 991.42 1147.08 993.58 1147.6 995.71 1148.13 997.83 1148.69 999.93 1149.27 1002 1149.86 1004.05 1150.47 1006.08 1151.11 1008.08 1151.76 1010.05 1152.43 1011.99 1153.12 1013.9 1153.82 1015.77 1154.55 1017.62 1155.29 1019.43 1156.06 1021.2 1156.84 1022.94 1157.64 1024.64 1158.46 1026.31 1159.3 1027.93 1160.16 1029.52 1161.04 1031.06 1161.94 1032.57 1162.85 1034.04 1163.79 1035.46 1164.74 1036.84 1165.71 1038.19 1166.7 1039.49 1167.71 1040.75 1168.74 1041.97 1169.79 1043.15 1170.85 1044.29 1171.94 1045.38 1173.04 1046.44 1174.16 1047.46 1175.31 1048.44 1176.47 1049.38 1177.64 1050.28 1178.84 1051.15 1180.06 1051.98 1181.3 1052.77 1182.55 1053.53 1183.82 1054.25 1185.12 1054.94 1186.43 1055.6 1187.76 1056.22 1189.11 1056.82 1190.48 1057.38 1191.86 1057.92 1193.27 1058.42 1194.69 1058.9 1196.14 1059.36 1197.6 1059.79 1199.08 1060.19 1200.58 1060.57 1202.1 1060.93 1203.64 1061.27 1205.19 1061.59 1206.77 1061.89 1208.36 1062.17 1209.98 1062.43 1211.61 1062.68 1213.26 1062.91 1214.93 1063.12 1216.62 1063.32 1218.33 1063.51 1220.05 1063.68 1221.8 1063.84 1223.56 1063.99 1225.35 1064.13 1227.15 1064.26 1228.97 1064.38 1230.81 1064.49 1232.67 1064.6 1234.54 1064.69 1236.44 1064.78 1238.36 1064.86 1240.29 1064.93 1242.24 1065 1244.21 1065.07 1246.2 1065.12 1248.21 1065.18 1250.24 1065.22 1252.29 1065.27 1254.36 1065.31 1256.44 1065.35 1258.54 1065.38 1260.67 1065.41 1262.81 1065.44 1264.97 1065.47 1267.15 1065.49 1269.35 1065.51 1271.56 1065.53 1273.8 1065.55" fill="none" stroke="url(#d9)" stroke-width="2.0"/><path d="M1157.3 1196.2 1157.31 1194.3 1157.33 1192.37 1157.37 1190.41 1157.43 1188.44 1157.51 1186.44 1157.6 1184.42 1157.7 1182.38 1157.83 1180.32 1157.97 1178.24 1158.12 1176.15 1158.3 1174.05 1158.48 1171.94 1158.69 1169.81 1158.91 1167.68 1159.15 1165.54 1159.41 1163.4 1159.68 1161.25 1159.97 1159.1 1160.27 1156.95 1160.59 1154.8 1160.93 1152.66 1161.28 1150.52 1161.65 1148.38 1162.04 1146.26 1162.44 1144.14 1162.86 1142.04 1163.3 1139.95 1163.75 1137.87 1164.22 1135.81 1164.7 1133.77 1165.21 1131.75 1165.72 1129.75 1166.26 1127.77 1166.81 1125.81 1167.38 1123.88 1167.96 1121.97 1168.56 1120.09 1169.18 1118.24 1169.81 1116.42 1170.46 1114.63 1171.13 1112.87 1171.81 1111.14 1172.51 1109.45 1173.23 1107.79 1173.96 1106.16 1174.71 1104.57 1175.47 1103.02 1176.25 1101.5 1177.05 1100.02 1177.87 1098.57 1178.7 1097.17 1179.55 1095.8 1180.41 1094.47 1181.29 1093.18 1182.19 1091.92 1183.1 1090.71 1184.03 1089.53 1184.98 1088.39 1185.94 1087.29 1186.92 1086.22 1187.91 1085.2 1188.92 1084.21 1189.95 1083.25 1191 1082.33 1192.06 1081.45 1193.14 1080.6 1194.23 1079.79 1195.34 1079.01 1196.47 1078.26 1197.61 1077.55 1198.77 1076.87 1199.95 1076.22 1201.14 1075.59 1202.35 1075 1203.58 1074.44 1204.82 1073.9 1206.08 1073.39 1207.35 1072.9 1208.64 1072.44 1209.95 1072.01 1211.28 1071.6 1212.62 1071.21 1213.97 1070.84 1215.35 1070.49 1216.74 1070.16 1218.15 1069.85 1219.57 1069.56 1221.01 1069.29 1222.46 1069.03 1223.94 1068.79 1225.43 1068.57 1226.93 1068.35 1228.45 1068.16 1229.99 1067.97 1231.55 1067.8 1233.12 1067.64 1234.71 1067.49 1236.31 1067.35 1237.93 1067.21 1239.57 1067.09 1241.22 1066.98 1242.89 1066.88 1244.58 1066.78 1246.28 1066.69 1248 1066.61 1249.74 1066.53 1251.49 1066.46 1253.26 1066.39 1255.04 1066.33 1256.84 1066.28 1258.66 1066.23 1260.5 1066.18 1262.35 1066.14 1264.22 1066.1 1266.1 1066.06 1268 1066.03 1269.92 1066 1271.85 1065.97 1273.8 1065.94" fill="none" stroke="url(#d10)" stroke-width="2.0"/><path d="M1157.3 935.2 1157.31 937.1 1157.33 939.03 1157.37 940.99 1157.43 942.96 1157.51 944.96 1157.6 946.98 1157.7 949.02 1157.83 951.08 1157.97 953.16 1158.12 955.25 1158.3 957.35 1158.48 959.46 1158.69 961.59 1158.91 963.72 1159.15 965.86 1159.41 968 1159.68 970.15 1159.97 972.3 1160.27 974.45 1160.59 976.6 1160.93 978.74 1161.28 980.88 1161.65 983.02 1162.04 985.14 1162.44 987.26 1162.86 989.36 1163.3 991.45 1163.75 993.53 1164.22 995.59 1164.7 997.63 1165.21 999.65 1165.72 1001.65 1166.26 1003.63 1166.81 1005.59 1167.38 1007.52 1167.96 1009.43 1168.56 1011.31 1169.18 1013.16 1169.81 1014.98 1170.46 1016.77 1171.13 1018.53 1171.81 1020.26 1172.51 1021.95 1173.23 1023.61 1173.96 1025.24 1174.71 1026.83 1175.47 1028.38 1176.25 1029.9 1177.05 1031.38 1177.87 1032.83 1178.7 1034.23 1179.55 1035.6 1180.41 1036.93 1181.29 1038.22 1182.19 1039.48 1183.1 1040.69 1184.03 1041.87 1184.98 1043.01 1185.94 1044.11 1186.92 1045.18 1187.91 1046.2 1188.92 1047.19 1189.95 1048.15 1191 1049.07 1192.06 1049.95 1193.14 1050.8 1194.23 1051.61 1195.34 1052.39 1196.47 1053.14 1197.61 1053.85 1198.77 1054.53 1199.95 1055.18 1201.14 1055.81 1202.35 1056.4 1203.58 1056.96 1204.82 1057.5 1206.08 1058.01 1207.35 1058.5 1208.64 1058.96 1209.95 1059.39 1211.28 1059.8 1212.62 1060.19 1213.97 1060.56 1215.35 1060.91 1216.74 1061.24 1218.15 1061.55 1219.57 1061.84 1221.01 1062.11 1222.46 1062.37 1223.94 1062.61 1225.43 1062.83 1226.93 1063.05 1228.45 1063.24 1229.99 1063.43 1231.55 1063.6 1233.12 1063.76 1234.71 1063.91 1236.31 1064.05 1237.93 1064.19 1239.57 1064.31 1241.22 1064.42 1242.89 1064.52 1244.58 1064.62 1246.28 1064.71 1248 1064.79 1249.74 1064.87 1251.49 1064.94 1253.26 1065.01 1255.04 1065.07 1256.84 1065.12 1258.66 1065.17 1260.5 1065.22 1262.35 1065.26 1264.22 1065.3 1266.1 1065.34 1268 1065.37 1269.92 1065.4 1271.85 1065.43 1273.8 1065.46" fill="none" stroke="url(#d11)" stroke-width="2.0"/><path d="M1172.1 1196.2 1172.11 1194.37 1172.13 1192.52 1172.16 1190.64 1172.21 1188.74 1172.28 1186.82 1172.36 1184.88 1172.45 1182.93 1172.56 1180.95 1172.68 1178.96 1172.82 1176.96 1172.97 1174.94 1173.13 1172.91 1173.31 1170.88 1173.51 1168.83 1173.72 1166.78 1173.94 1164.72 1174.18 1162.65 1174.43 1160.59 1174.69 1158.52 1174.97 1156.45 1175.27 1154.39 1175.58 1152.33 1175.9 1150.27 1176.24 1148.22 1176.59 1146.18 1176.95 1144.14 1177.34 1142.12 1177.73 1140.11 1178.14 1138.11 1178.56 1136.13 1179 1134.16 1179.45 1132.21 1179.92 1130.28 1180.4 1128.37 1180.9 1126.48 1181.41 1124.62 1181.93 1122.77 1182.47 1120.96 1183.02 1119.16 1183.59 1117.4 1184.17 1115.66 1184.77 1113.95 1185.38 1112.27 1186 1110.62 1186.64 1109 1187.3 1107.41 1187.96 1105.85 1188.65 1104.33 1189.34 1102.84 1190.05 1101.38 1190.78 1099.96 1191.52 1098.57 1192.27 1097.22 1193.04 1095.9 1193.82 1094.62 1194.62 1093.37 1195.43 1092.16 1196.26 1090.98 1197.1 1089.84 1197.95 1088.74 1198.82 1087.67 1199.71 1086.63 1200.6 1085.63 1201.52 1084.66 1202.44 1083.72 1203.38 1082.82 1204.34 1081.96 1205.31 1081.12 1206.29 1080.32 1207.29 1079.55 1208.3 1078.81 1209.33 1078.1 1210.37 1077.42 1211.43 1076.76 1212.5 1076.14 1213.58 1075.55 1214.68 1074.98 1215.79 1074.44 1216.92 1073.92 1218.06 1073.43 1219.22 1072.96 1220.39 1072.51 1221.57 1072.09 1222.77 1071.69 1223.99 1071.31 1225.22 1070.95 1226.46 1070.61 1227.72 1070.29 1228.99 1069.98 1230.27 1069.69 1231.57 1069.42 1232.89 1069.17 1234.21 1068.93 1235.56 1068.7 1236.91 1068.49 1238.29 1068.29 1239.67 1068.1 1241.07 1067.93 1242.49 1067.77 1243.92 1067.61 1245.36 1067.47 1246.82 1067.33 1248.29 1067.21 1249.78 1067.09 1251.28 1066.99 1252.79 1066.88 1254.32 1066.79 1255.87 1066.7 1257.43 1066.62 1259 1066.55 1260.59 1066.48 1262.19 1066.41 1263.8 1066.35 1265.43 1066.3 1267.08 1066.25 1268.74 1066.2 1270.41 1066.16 1272.1 1066.12 1273.8 1066.08" fill="none" stroke="url(#d12)" stroke-width="2.0"/><path d="M1172.1 935.2 1172.11 937.03 1172.13 938.88 1172.16 940.76 1172.21 942.66 1172.28 944.58 1172.36 946.52 1172.45 948.47 1172.56 950.45 1172.68 952.44 1172.82 954.44 1172.97 956.46 1173.13 958.49 1173.31 960.52 1173.51 962.57 1173.72 964.62 1173.94 966.68 1174.18 968.75 1174.43 970.81 1174.69 972.88 1174.97 974.95 1175.27 977.01 1175.58 979.07 1175.9 981.13 1176.24 983.18 1176.59 985.22 1176.95 987.26 1177.34 989.28 1177.73 991.29 1178.14 993.29 1178.56 995.27 1179 997.24 1179.45 999.19 1179.92 1001.12 1180.4 1003.03 1180.9 1004.92 1181.41 1006.78 1181.93 1008.63 1182.47 1010.44 1183.02 1012.24 1183.59 1014 1184.17 1015.74 1184.77 1017.45 1185.38 1019.13 1186 1020.78 1186.64 1022.4 1187.3 1023.99 1187.96 1025.55 1188.65 1027.07 1189.34 1028.56 1190.05 1030.02 1190.78 1031.44 1191.52 1032.83 1192.27 1034.18 1193.04 1035.5 1193.82 1036.78 1194.62 1038.03 1195.43 1039.24 1196.26 1040.42 1197.1 1041.56 1197.95 1042.66 1198.82 1043.73 1199.71 1044.77 1200.6 1045.77 1201.52 1046.74 1202.44 1047.68 1203.38 1048.58 1204.34 1049.44 1205.31 1050.28 1206.29 1051.08 1207.29 1051.85 1208.3 1052.59 1209.33 1053.3 1210.37 1053.98 1211.43 1054.64 1212.5 1055.26 1213.58 1055.85 1214.68 1056.42 1215.79 1056.96 1216.92 1057.48 1218.06 1057.97 1219.22 1058.44 1220.39 1058.89 1221.57 1059.31 1222.77 1059.71 1223.99 1060.09 1225.22 1060.45 1226.46 1060.79 1227.72 1061.11 1228.99 1061.42 1230.27 1061.71 1231.57 1061.98 1232.89 1062.23 1234.21 1062.47 1235.56 1062.7 1236.91 1062.91 1238.29 1063.11 1239.67 1063.3 1241.07 1063.47 1242.49 1063.63 1243.92 1063.79 1245.36 1063.93 1246.82 1064.07 1248.29 1064.19 1249.78 1064.31 1251.28 1064.41 1252.79 1064.52 1254.32 1064.61 1255.87 1064.7 1257.43 1064.78 1259 1064.85 1260.59 1064.92 1262.19 1064.99 1263.8 1065.05 1265.43 1065.1 1267.08 1065.15 1268.74 1065.2 1270.41 1065.24 1272.1 1065.28 1273.8 1065.32" fill="none" stroke="url(#d13)" stroke-width="2.0"/><path d="M1184.7 1196.2 1184.71 1194.44 1184.73 1192.66 1184.76 1190.86 1184.8 1189.04 1184.86 1187.2 1184.93 1185.35 1185.01 1183.47 1185.1 1181.58 1185.21 1179.67 1185.33 1177.75 1185.46 1175.82 1185.61 1173.88 1185.76 1171.92 1185.93 1169.96 1186.12 1167.99 1186.31 1166.02 1186.52 1164.04 1186.74 1162.06 1186.97 1160.07 1187.22 1158.09 1187.47 1156.1 1187.75 1154.12 1188.03 1152.14 1188.32 1150.16 1188.63 1148.19 1188.95 1146.23 1189.29 1144.28 1189.63 1142.33 1189.99 1140.4 1190.36 1138.48 1190.75 1136.57 1191.14 1134.68 1191.55 1132.8 1191.97 1130.94 1192.41 1129.1 1192.85 1127.28 1193.31 1125.48 1193.79 1123.7 1194.27 1121.94 1194.77 1120.2 1195.28 1118.49 1195.8 1116.8 1196.33 1115.14 1196.88 1113.51 1197.44 1111.9 1198.01 1110.32 1198.6 1108.77 1199.2 1107.25 1199.81 1105.76 1200.43 1104.29 1201.07 1102.86 1201.71 1101.46 1202.37 1100.09 1203.05 1098.76 1203.73 1097.45 1204.43 1096.18 1205.14 1094.94 1205.87 1093.73 1206.6 1092.56 1207.35 1091.42 1208.11 1090.31 1208.89 1089.23 1209.67 1088.18 1210.47 1087.17 1211.28 1086.19 1212.11 1085.24 1212.94 1084.33 1213.79 1083.44 1214.66 1082.58 1215.53 1081.76 1216.42 1080.96 1217.32 1080.2 1218.23 1079.46 1219.15 1078.75 1220.09 1078.07 1221.04 1077.42 1222 1076.79 1222.98 1076.19 1223.97 1075.62 1224.97 1075.07 1225.98 1074.54 1227.01 1074.04 1228.05 1073.56 1229.1 1073.11 1230.16 1072.67 1231.24 1072.26 1232.32 1071.86 1233.42 1071.49 1234.54 1071.13 1235.66 1070.8 1236.8 1070.48 1237.95 1070.17 1239.12 1069.89 1240.3 1069.62 1241.48 1069.36 1242.69 1069.12 1243.9 1068.89 1245.13 1068.68 1246.37 1068.47 1247.62 1068.28 1248.88 1068.1 1250.16 1067.93 1251.45 1067.78 1252.75 1067.63 1254.07 1067.49 1255.4 1067.36 1256.74 1067.24 1258.09 1067.12 1259.45 1067.02 1260.83 1066.92 1262.22 1066.83 1263.63 1066.74 1265.04 1066.66 1266.47 1066.58 1267.91 1066.51 1269.36 1066.45 1270.83 1066.39 1272.31 1066.33 1273.8 1066.28" fill="none" stroke="url(#d14)" stroke-width="2.0"/><path d="M1184.7 935.2 1184.71 936.96 1184.73 938.74 1184.76 940.54 1184.8 942.36 1184.86 944.2 1184.93 946.05 1185.01 947.93 1185.1 949.82 1185.21 951.73 1185.33 953.65 1185.46 955.58 1185.61 957.52 1185.76 959.48 1185.93 961.44 1186.12 963.41 1186.31 965.38 1186.52 967.36 1186.74 969.34 1186.97 971.33 1187.22 973.31 1187.47 975.3 1187.75 977.28 1188.03 979.26 1188.32 981.24 1188.63 983.21 1188.95 985.17 1189.29 987.12 1189.63 989.07 1189.99 991 1190.36 992.92 1190.75 994.83 1191.14 996.72 1191.55 998.6 1191.97 1000.46 1192.41 1002.3 1192.85 1004.12 1193.31 1005.92 1193.79 1007.7 1194.27 1009.46 1194.77 1011.2 1195.28 1012.91 1195.8 1014.6 1196.33 1016.26 1196.88 1017.89 1197.44 1019.5 1198.01 1021.08 1198.6 1022.63 1199.2 1024.15 1199.81 1025.64 1200.43 1027.11 1201.07 1028.54 1201.71 1029.94 1202.37 1031.31 1203.05 1032.64 1203.73 1033.95 1204.43 1035.22 1205.14 1036.46 1205.87 1037.67 1206.6 1038.84 1207.35 1039.98 1208.11 1041.09 1208.89 1042.17 1209.67 1043.22 1210.47 1044.23 1211.28 1045.21 1212.11 1046.16 1212.94 1047.07 1213.79 1047.96 1214.66 1048.82 1215.53 1049.64 1216.42 1050.44 1217.32 1051.2 1218.23 1051.94 1219.15 1052.65 1220.09 1053.33 1221.04 1053.98 1222 1054.61 1222.98 1055.21 1223.97 1055.78 1224.97 1056.33 1225.98 1056.86 1227.01 1057.36 1228.05 1057.84 1229.1 1058.29 1230.16 1058.73 1231.24 1059.14 1232.32 1059.54 1233.42 1059.91 1234.54 1060.27 1235.66 1060.6 1236.8 1060.92 1237.95 1061.23 1239.12 1061.51 1240.3 1061.78 1241.48 1062.04 1242.69 1062.28 1243.9 1062.51 1245.13 1062.72 1246.37 1062.93 1247.62 1063.12 1248.88 1063.3 1250.16 1063.47 1251.45 1063.62 1252.75 1063.77 1254.07 1063.91 1255.4 1064.04 1256.74 1064.16 1258.09 1064.28 1259.45 1064.38 1260.83 1064.48 1262.22 1064.57 1263.63 1064.66 1265.04 1064.74 1266.47 1064.82 1267.91 1064.89 1269.36 1064.95 1270.83 1065.01 1272.31 1065.07 1273.8 1065.12" fill="none" stroke="url(#d15)" stroke-width="2.0"/><path d="M1196.1 1196.2 1196.11 1194.52 1196.12 1192.82 1196.15 1191.1 1196.19 1189.36 1196.24 1187.6 1196.3 1185.83 1196.37 1184.04 1196.45 1182.23 1196.54 1180.41 1196.65 1178.58 1196.76 1176.73 1196.89 1174.88 1197.03 1173.02 1197.18 1171.14 1197.33 1169.26 1197.5 1167.38 1197.69 1165.49 1197.88 1163.59 1198.08 1161.69 1198.29 1159.79 1198.52 1157.89 1198.76 1155.99 1199 1154.09 1199.26 1152.2 1199.53 1150.31 1199.81 1148.42 1200.1 1146.54 1200.4 1144.67 1200.71 1142.81 1201.04 1140.96 1201.37 1139.11 1201.72 1137.28 1202.08 1135.47 1202.44 1133.66 1202.82 1131.88 1203.21 1130.1 1203.61 1128.35 1204.02 1126.61 1204.45 1124.89 1204.88 1123.2 1205.32 1121.52 1205.78 1119.86 1206.25 1118.23 1206.72 1116.62 1207.21 1115.03 1207.71 1113.47 1208.22 1111.93 1208.74 1110.41 1209.27 1108.93 1209.82 1107.47 1210.37 1106.04 1210.94 1104.63 1211.51 1103.25 1212.1 1101.91 1212.7 1100.59 1213.31 1099.29 1213.93 1098.03 1214.56 1096.8 1215.2 1095.6 1215.85 1094.43 1216.52 1093.28 1217.19 1092.17 1217.88 1091.09 1218.57 1090.03 1219.28 1089.01 1220 1088.01 1220.73 1087.05 1221.47 1086.11 1222.22 1085.21 1222.99 1084.33 1223.76 1083.48 1224.54 1082.66 1225.34 1081.87 1226.15 1081.1 1226.96 1080.36 1227.79 1079.65 1228.63 1078.97 1229.48 1078.31 1230.34 1077.67 1231.22 1077.06 1232.1 1076.48 1232.99 1075.91 1233.9 1075.37 1234.82 1074.86 1235.74 1074.36 1236.68 1073.89 1237.63 1073.44 1238.59 1073.01 1239.56 1072.59 1240.54 1072.2 1241.54 1071.83 1242.54 1071.47 1243.56 1071.13 1244.58 1070.81 1245.62 1070.5 1246.67 1070.21 1247.73 1069.93 1248.8 1069.67 1249.88 1069.42 1250.97 1069.19 1252.07 1068.97 1253.19 1068.76 1254.31 1068.56 1255.45 1068.37 1256.59 1068.19 1257.75 1068.03 1258.92 1067.87 1260.1 1067.72 1261.29 1067.58 1262.49 1067.45 1263.7 1067.33 1264.93 1067.22 1266.16 1067.11 1267.41 1067.01 1268.66 1066.91 1269.93 1066.82 1271.21 1066.74 1272.5 1066.66 1273.8 1066.59" fill="none" stroke="url(#d16)" stroke-width="2.0"/><path d="M1196.1 935.2 1196.11 936.88 1196.12 938.58 1196.15 940.3 1196.19 942.04 1196.24 943.8 1196.3 945.57 1196.37 947.36 1196.45 949.17 1196.54 950.99 1196.65 952.82 1196.76 954.67 1196.89 956.52 1197.03 958.38 1197.18 960.26 1197.33 962.14 1197.5 964.02 1197.69 965.91 1197.88 967.81 1198.08 969.71 1198.29 971.61 1198.52 973.51 1198.76 975.41 1199 977.31 1199.26 979.2 1199.53 981.09 1199.81 982.98 1200.1 984.86 1200.4 986.73 1200.71 988.59 1201.04 990.44 1201.37 992.29 1201.72 994.12 1202.08 995.93 1202.44 997.74 1202.82 999.52 1203.21 1001.3 1203.61 1003.05 1204.02 1004.79 1204.45 1006.51 1204.88 1008.2 1205.32 1009.88 1205.78 1011.54 1206.25 1013.17 1206.72 1014.78 1207.21 1016.37 1207.71 1017.93 1208.22 1019.47 1208.74 1020.99 1209.27 1022.47 1209.82 1023.93 1210.37 1025.36 1210.94 1026.77 1211.51 1028.15 1212.1 1029.49 1212.7 1030.81 1213.31 1032.11 1213.93 1033.37 1214.56 1034.6 1215.2 1035.8 1215.85 1036.97 1216.52 1038.12 1217.19 1039.23 1217.88 1040.31 1218.57 1041.37 1219.28 1042.39 1220 1043.39 1220.73 1044.35 1221.47 1045.29 1222.22 1046.19 1222.99 1047.07 1223.76 1047.92 1224.54 1048.74 1225.34 1049.53 1226.15 1050.3 1226.96 1051.04 1227.79 1051.75 1228.63 1052.43 1229.48 1053.09 1230.34 1053.73 1231.22 1054.34 1232.1 1054.92 1232.99 1055.49 1233.9 1056.03 1234.82 1056.54 1235.74 1057.04 1236.68 1057.51 1237.63 1057.96 1238.59 1058.39 1239.56 1058.81 1240.54 1059.2 1241.54 1059.57 1242.54 1059.93 1243.56 1060.27 1244.58 1060.59 1245.62 1060.9 1246.67 1061.19 1247.73 1061.47 1248.8 1061.73 1249.88 1061.98 1250.97 1062.21 1252.07 1062.43 1253.19 1062.64 1254.31 1062.84 1255.45 1063.03 1256.59 1063.21 1257.75 1063.37 1258.92 1063.53 1260.1 1063.68 1261.29 1063.82 1262.49 1063.95 1263.7 1064.07 1264.93 1064.18 1266.16 1064.29 1267.41 1064.39 1268.66 1064.49 1269.93 1064.58 1271.21 1064.66 1272.5 1064.74 1273.8 1064.81" fill="none" stroke="url(#d17)" stroke-width="2.0"/><path d="M1206.4 1196.2 1206.4 1194.6 1206.42 1192.98 1206.44 1191.34 1206.48 1189.68 1206.52 1188.01 1206.57 1186.32 1206.63 1184.62 1206.7 1182.91 1206.79 1181.18 1206.88 1179.44 1206.98 1177.68 1207.09 1175.92 1207.2 1174.15 1207.33 1172.37 1207.47 1170.58 1207.62 1168.79 1207.78 1166.99 1207.94 1165.18 1208.12 1163.38 1208.3 1161.57 1208.5 1159.75 1208.7 1157.94 1208.92 1156.13 1209.14 1154.32 1209.37 1152.52 1209.62 1150.71 1209.87 1148.91 1210.13 1147.12 1210.4 1145.33 1210.68 1143.56 1210.97 1141.78 1211.27 1140.02 1211.58 1138.27 1211.9 1136.53 1212.23 1134.81 1212.57 1133.09 1212.92 1131.39 1213.27 1129.71 1213.64 1128.04 1214.02 1126.38 1214.4 1124.75 1214.8 1123.13 1215.2 1121.53 1215.61 1119.95 1216.04 1118.39 1216.47 1116.85 1216.91 1115.34 1217.37 1113.84 1217.83 1112.37 1218.3 1110.92 1218.78 1109.49 1219.27 1108.09 1219.77 1106.71 1220.28 1105.36 1220.8 1104.03 1221.33 1102.73 1221.86 1101.46 1222.41 1100.21 1222.97 1098.98 1223.53 1097.79 1224.11 1096.62 1224.7 1095.47 1225.29 1094.36 1225.9 1093.27 1226.51 1092.21 1227.13 1091.17 1227.77 1090.17 1228.41 1089.19 1229.06 1088.23 1229.72 1087.31 1230.39 1086.41 1231.07 1085.53 1231.76 1084.69 1232.46 1083.86 1233.17 1083.07 1233.89 1082.3 1234.62 1081.55 1235.36 1080.83 1236.1 1080.14 1236.86 1079.47 1237.63 1078.82 1238.4 1078.2 1239.19 1077.59 1239.98 1077.01 1240.79 1076.46 1241.6 1075.92 1242.43 1075.41 1243.26 1074.91 1244.1 1074.44 1244.95 1073.98 1245.81 1073.55 1246.68 1073.13 1247.57 1072.73 1248.46 1072.35 1249.35 1071.99 1250.26 1071.64 1251.18 1071.31 1252.11 1070.99 1253.05 1070.69 1254 1070.4 1254.95 1070.13 1255.92 1069.87 1256.89 1069.62 1257.88 1069.39 1258.87 1069.17 1259.88 1068.95 1260.89 1068.75 1261.92 1068.56 1262.95 1068.39 1263.99 1068.22 1265.04 1068.06 1266.1 1067.9 1267.17 1067.76 1268.26 1067.63 1269.35 1067.5 1270.44 1067.38 1271.55 1067.27 1272.67 1067.16 1273.8 1067.06" fill="none" stroke="url(#d18)" stroke-width="2.0"/><path d="M1206.4 935.2 1206.4 936.8 1206.42 938.42 1206.44 940.06 1206.48 941.72 1206.52 943.39 1206.57 945.08 1206.63 946.78 1206.7 948.49 1206.79 950.22 1206.88 951.96 1206.98 953.72 1207.09 955.48 1207.2 957.25 1207.33 959.03 1207.47 960.82 1207.62 962.61 1207.78 964.41 1207.94 966.22 1208.12 968.02 1208.3 969.83 1208.5 971.65 1208.7 973.46 1208.92 975.27 1209.14 977.08 1209.37 978.88 1209.62 980.69 1209.87 982.49 1210.13 984.28 1210.4 986.07 1210.68 987.84 1210.97 989.62 1211.27 991.38 1211.58 993.13 1211.9 994.87 1212.23 996.59 1212.57 998.31 1212.92 1000.01 1213.27 1001.69 1213.64 1003.36 1214.02 1005.02 1214.4 1006.65 1214.8 1008.27 1215.2 1009.87 1215.61 1011.45 1216.04 1013.01 1216.47 1014.55 1216.91 1016.06 1217.37 1017.56 1217.83 1019.03 1218.3 1020.48 1218.78 1021.91 1219.27 1023.31 1219.77 1024.69 1220.28 1026.04 1220.8 1027.37 1221.33 1028.67 1221.86 1029.94 1222.41 1031.19 1222.97 1032.42 1223.53 1033.61 1224.11 1034.78 1224.7 1035.93 1225.29 1037.04 1225.9 1038.13 1226.51 1039.19 1227.13 1040.23 1227.77 1041.23 1228.41 1042.21 1229.06 1043.17 1229.72 1044.09 1230.39 1044.99 1231.07 1045.87 1231.76 1046.71 1232.46 1047.54 1233.17 1048.33 1233.89 1049.1 1234.62 1049.85 1235.36 1050.57 1236.1 1051.26 1236.86 1051.93 1237.63 1052.58 1238.4 1053.2 1239.19 1053.81 1239.98 1054.39 1240.79 1054.94 1241.6 1055.48 1242.43 1055.99 1243.26 1056.49 1244.1 1056.96 1244.95 1057.42 1245.81 1057.85 1246.68 1058.27 1247.57 1058.67 1248.46 1059.05 1249.35 1059.41 1250.26 1059.76 1251.18 1060.09 1252.11 1060.41 1253.05 1060.71 1254 1061 1254.95 1061.27 1255.92 1061.53 1256.89 1061.78 1257.88 1062.01 1258.87 1062.23 1259.88 1062.45 1260.89 1062.65 1261.92 1062.84 1262.95 1063.01 1263.99 1063.18 1265.04 1063.34 1266.1 1063.5 1267.17 1063.64 1268.26 1063.77 1269.35 1063.9 1270.44 1064.02 1271.55 1064.13 1272.67 1064.24 1273.8 1064.34" fill="none" stroke="url(#d19)" stroke-width="2.0"/><path d="M1215.8 1196.2 1215.8 1194.68 1215.82 1193.15 1215.84 1191.59 1215.87 1190.03 1215.9 1188.44 1215.95 1186.85 1216 1185.24 1216.06 1183.61 1216.13 1181.98 1216.21 1180.33 1216.3 1178.68 1216.39 1177.01 1216.49 1175.34 1216.6 1173.65 1216.72 1171.96 1216.85 1170.27 1216.98 1168.56 1217.13 1166.86 1217.28 1165.14 1217.44 1163.43 1217.61 1161.71 1217.78 1160 1217.97 1158.28 1218.16 1156.56 1218.36 1154.84 1218.57 1153.13 1218.79 1151.42 1219.01 1149.71 1219.24 1148 1219.49 1146.31 1219.74 1144.61 1219.99 1142.93 1220.26 1141.25 1220.53 1139.59 1220.82 1137.93 1221.11 1136.28 1221.41 1134.64 1221.71 1133.02 1222.03 1131.41 1222.35 1129.81 1222.68 1128.22 1223.02 1126.65 1223.37 1125.1 1223.73 1123.56 1224.09 1122.04 1224.47 1120.53 1224.85 1119.04 1225.24 1117.58 1225.63 1116.13 1226.04 1114.7 1226.45 1113.29 1226.87 1111.9 1227.3 1110.53 1227.74 1109.18 1228.19 1107.86 1228.64 1106.55 1229.11 1105.27 1229.58 1104.01 1230.06 1102.78 1230.54 1101.57 1231.04 1100.38 1231.54 1099.22 1232.06 1098.07 1232.58 1096.96 1233.1 1095.87 1233.64 1094.8 1234.19 1093.76 1234.74 1092.74 1235.3 1091.74 1235.87 1090.77 1236.45 1089.83 1237.03 1088.9 1237.63 1088.01 1238.23 1087.13 1238.84 1086.28 1239.46 1085.46 1240.08 1084.66 1240.72 1083.88 1241.36 1083.12 1242.01 1082.39 1242.67 1081.68 1243.34 1080.99 1244.02 1080.33 1244.7 1079.68 1245.39 1079.06 1246.09 1078.46 1246.8 1077.88 1247.52 1077.32 1248.24 1076.78 1248.98 1076.26 1249.72 1075.76 1250.47 1075.28 1251.22 1074.81 1251.99 1074.37 1252.76 1073.94 1253.55 1073.52 1254.34 1073.13 1255.14 1072.75 1255.94 1072.39 1256.76 1072.04 1257.58 1071.71 1258.41 1071.39 1259.25 1071.09 1260.1 1070.8 1260.96 1070.52 1261.82 1070.25 1262.69 1070 1263.57 1069.76 1264.46 1069.53 1265.36 1069.31 1266.26 1069.1 1267.18 1068.91 1268.1 1068.72 1269.03 1068.54 1269.97 1068.37 1270.91 1068.21 1271.87 1068.06 1272.83 1067.92 1273.8 1067.78" fill="none" stroke="url(#d20)" stroke-width="2.0"/><path d="M1215.8 935.2 1215.8 936.72 1215.82 938.25 1215.84 939.81 1215.87 941.37 1215.9 942.96 1215.95 944.55 1216 946.16 1216.06 947.79 1216.13 949.42 1216.21 951.07 1216.3 952.72 1216.39 954.39 1216.49 956.06 1216.6 957.75 1216.72 959.44 1216.85 961.13 1216.98 962.84 1217.13 964.54 1217.28 966.26 1217.44 967.97 1217.61 969.69 1217.78 971.4 1217.97 973.12 1218.16 974.84 1218.36 976.56 1218.57 978.27 1218.79 979.98 1219.01 981.69 1219.24 983.4 1219.49 985.09 1219.74 986.79 1219.99 988.47 1220.26 990.15 1220.53 991.81 1220.82 993.47 1221.11 995.12 1221.41 996.76 1221.71 998.38 1222.03 999.99 1222.35 1001.59 1222.68 1003.18 1223.02 1004.75 1223.37 1006.3 1223.73 1007.84 1224.09 1009.36 1224.47 1010.87 1224.85 1012.36 1225.24 1013.82 1225.63 1015.27 1226.04 1016.7 1226.45 1018.11 1226.87 1019.5 1227.3 1020.87 1227.74 1022.22 1228.19 1023.54 1228.64 1024.85 1229.11 1026.13 1229.58 1027.39 1230.06 1028.62 1230.54 1029.83 1231.04 1031.02 1231.54 1032.18 1232.06 1033.33 1232.58 1034.44 1233.1 1035.53 1233.64 1036.6 1234.19 1037.64 1234.74 1038.66 1235.3 1039.66 1235.87 1040.63 1236.45 1041.57 1237.03 1042.5 1237.63 1043.39 1238.23 1044.27 1238.84 1045.12 1239.46 1045.94 1240.08 1046.74 1240.72 1047.52 1241.36 1048.28 1242.01 1049.01 1242.67 1049.72 1243.34 1050.41 1244.02 1051.07 1244.7 1051.72 1245.39 1052.34 1246.09 1052.94 1246.8 1053.52 1247.52 1054.08 1248.24 1054.62 1248.98 1055.14 1249.72 1055.64 1250.47 1056.12 1251.22 1056.59 1251.99 1057.03 1252.76 1057.46 1253.55 1057.88 1254.34 1058.27 1255.14 1058.65 1255.94 1059.01 1256.76 1059.36 1257.58 1059.69 1258.41 1060.01 1259.25 1060.31 1260.1 1060.6 1260.96 1060.88 1261.82 1061.15 1262.69 1061.4 1263.57 1061.64 1264.46 1061.87 1265.36 1062.09 1266.26 1062.3 1267.18 1062.49 1268.1 1062.68 1269.03 1062.86 1269.97 1063.03 1270.91 1063.19 1271.87 1063.34 1272.83 1063.48 1273.8 1063.62" fill="none" stroke="url(#d21)" stroke-width="2.0"/><path d="M1224.7 1196.2 1224.7 1194.77 1224.71 1193.33 1224.73 1191.87 1224.76 1190.4 1224.79 1188.92 1224.82 1187.42 1224.87 1185.91 1224.92 1184.39 1224.98 1182.86 1225.05 1181.31 1225.12 1179.76 1225.2 1178.2 1225.29 1176.63 1225.38 1175.05 1225.48 1173.47 1225.59 1171.88 1225.7 1170.28 1225.82 1168.68 1225.95 1167.08 1226.09 1165.47 1226.23 1163.86 1226.38 1162.24 1226.53 1160.63 1226.7 1159.01 1226.87 1157.39 1227.04 1155.78 1227.23 1154.16 1227.42 1152.55 1227.62 1150.94 1227.82 1149.34 1228.03 1147.74 1228.25 1146.14 1228.48 1144.55 1228.71 1142.97 1228.95 1141.39 1229.19 1139.82 1229.45 1138.26 1229.71 1136.71 1229.97 1135.16 1230.25 1133.63 1230.53 1132.11 1230.82 1130.6 1231.11 1129.1 1231.41 1127.62 1231.72 1126.14 1232.04 1124.69 1232.36 1123.24 1232.69 1121.81 1233.02 1120.4 1233.37 1119 1233.72 1117.62 1234.08 1116.26 1234.44 1114.91 1234.81 1113.58 1235.19 1112.27 1235.57 1110.98 1235.97 1109.7 1236.36 1108.45 1236.77 1107.21 1237.18 1106 1237.6 1104.8 1238.03 1103.62 1238.46 1102.47 1238.9 1101.33 1239.35 1100.22 1239.8 1099.13 1240.26 1098.06 1240.73 1097 1241.21 1095.98 1241.69 1094.97 1242.18 1093.98 1242.67 1093.02 1243.18 1092.08 1243.69 1091.15 1244.2 1090.26 1244.73 1089.38 1245.26 1088.52 1245.79 1087.69 1246.34 1086.87 1246.89 1086.08 1247.45 1085.31 1248.01 1084.56 1248.59 1083.83 1249.17 1083.12 1249.75 1082.43 1250.34 1081.76 1250.94 1081.11 1251.55 1080.48 1252.16 1079.87 1252.78 1079.28 1253.41 1078.7 1254.05 1078.15 1254.69 1077.61 1255.34 1077.09 1255.99 1076.59 1256.65 1076.11 1257.32 1075.64 1258 1075.19 1258.68 1074.76 1259.37 1074.34 1260.07 1073.94 1260.77 1073.55 1261.48 1073.18 1262.2 1072.82 1262.93 1072.47 1263.66 1072.14 1264.4 1071.83 1265.14 1071.52 1265.89 1071.23 1266.65 1070.95 1267.42 1070.68 1268.19 1070.43 1268.97 1070.18 1269.76 1069.95 1270.55 1069.72 1271.36 1069.51 1272.16 1069.3 1272.98 1069.11 1273.8 1068.92" fill="none" stroke="url(#d22)" stroke-width="2.0"/><path d="M1224.7 935.2 1224.7 936.63 1224.71 938.07 1224.73 939.53 1224.76 941 1224.79 942.48 1224.82 943.98 1224.87 945.49 1224.92 947.01 1224.98 948.54 1225.05 950.09 1225.12 951.64 1225.2 953.2 1225.29 954.77 1225.38 956.35 1225.48 957.93 1225.59 959.52 1225.7 961.12 1225.82 962.72 1225.95 964.32 1226.09 965.93 1226.23 967.54 1226.38 969.16 1226.53 970.77 1226.7 972.39 1226.87 974.01 1227.04 975.62 1227.23 977.24 1227.42 978.85 1227.62 980.46 1227.82 982.06 1228.03 983.66 1228.25 985.26 1228.48 986.85 1228.71 988.43 1228.95 990.01 1229.19 991.58 1229.45 993.14 1229.71 994.69 1229.97 996.24 1230.25 997.77 1230.53 999.29 1230.82 1000.8 1231.11 1002.3 1231.41 1003.78 1231.72 1005.26 1232.04 1006.71 1232.36 1008.16 1232.69 1009.59 1233.02 1011 1233.37 1012.4 1233.72 1013.78 1234.08 1015.14 1234.44 1016.49 1234.81 1017.82 1235.19 1019.13 1235.57 1020.42 1235.97 1021.7 1236.36 1022.95 1236.77 1024.19 1237.18 1025.4 1237.6 1026.6 1238.03 1027.78 1238.46 1028.93 1238.9 1030.07 1239.35 1031.18 1239.8 1032.27 1240.26 1033.34 1240.73 1034.4 1241.21 1035.42 1241.69 1036.43 1242.18 1037.42 1242.67 1038.38 1243.18 1039.32 1243.69 1040.25 1244.2 1041.14 1244.73 1042.02 1245.26 1042.88 1245.79 1043.71 1246.34 1044.53 1246.89 1045.32 1247.45 1046.09 1248.01 1046.84 1248.59 1047.57 1249.17 1048.28 1249.75 1048.97 1250.34 1049.64 1250.94 1050.29 1251.55 1050.92 1252.16 1051.53 1252.78 1052.12 1253.41 1052.7 1254.05 1053.25 1254.69 1053.79 1255.34 1054.31 1255.99 1054.81 1256.65 1055.29 1257.32 1055.76 1258 1056.21 1258.68 1056.64 1259.37 1057.06 1260.07 1057.46 1260.77 1057.85 1261.48 1058.22 1262.2 1058.58 1262.93 1058.93 1263.66 1059.26 1264.4 1059.57 1265.14 1059.88 1265.89 1060.17 1266.65 1060.45 1267.42 1060.72 1268.19 1060.97 1268.97 1061.22 1269.76 1061.45 1270.55 1061.68 1271.36 1061.89 1272.16 1062.1 1272.98 1062.29 1273.8 1062.48" fill="none" stroke="url(#d23)" stroke-width="2.0"/><path d="M1232.9 1196.2 1232.9 1194.87 1232.91 1193.53 1232.93 1192.17 1232.95 1190.8 1232.97 1189.42 1233 1188.03 1233.04 1186.63 1233.08 1185.21 1233.13 1183.79 1233.19 1182.36 1233.25 1180.92 1233.32 1179.47 1233.39 1178.01 1233.47 1176.55 1233.55 1175.08 1233.64 1173.6 1233.73 1172.12 1233.84 1170.63 1233.94 1169.14 1234.06 1167.65 1234.17 1166.15 1234.3 1164.65 1234.43 1163.14 1234.56 1161.64 1234.71 1160.13 1234.85 1158.63 1235.01 1157.12 1235.16 1155.61 1235.33 1154.11 1235.5 1152.61 1235.68 1151.11 1235.86 1149.61 1236.05 1148.12 1236.24 1146.63 1236.44 1145.14 1236.64 1143.66 1236.85 1142.19 1237.07 1140.72 1237.29 1139.26 1237.52 1137.81 1237.76 1136.36 1237.99 1134.93 1238.24 1133.5 1238.49 1132.08 1238.75 1130.67 1239.01 1129.28 1239.28 1127.89 1239.55 1126.52 1239.83 1125.15 1240.12 1123.8 1240.41 1122.46 1240.71 1121.14 1241.01 1119.83 1241.32 1118.53 1241.64 1117.25 1241.96 1115.98 1242.28 1114.73 1242.62 1113.49 1242.95 1112.27 1243.3 1111.06 1243.65 1109.87 1244 1108.7 1244.36 1107.54 1244.73 1106.4 1245.1 1105.28 1245.48 1104.18 1245.87 1103.09 1246.26 1102.02 1246.65 1100.97 1247.05 1099.94 1247.46 1098.92 1247.87 1097.93 1248.29 1096.95 1248.72 1095.99 1249.15 1095.05 1249.58 1094.13 1250.02 1093.23 1250.47 1092.34 1250.93 1091.48 1251.38 1090.63 1251.85 1089.81 1252.32 1089 1252.8 1088.21 1253.28 1087.43 1253.77 1086.68 1254.26 1085.95 1254.76 1085.23 1255.27 1084.53 1255.78 1083.85 1256.29 1083.19 1256.82 1082.54 1257.35 1081.91 1257.88 1081.3 1258.42 1080.71 1258.97 1080.13 1259.52 1079.57 1260.08 1079.03 1260.64 1078.5 1261.21 1077.99 1261.78 1077.5 1262.36 1077.02 1262.95 1076.55 1263.54 1076.1 1264.14 1075.67 1264.74 1075.24 1265.35 1074.84 1265.97 1074.44 1266.59 1074.07 1267.21 1073.7 1267.85 1073.35 1268.49 1073.01 1269.13 1072.68 1269.78 1072.36 1270.44 1072.06 1271.1 1071.76 1271.76 1071.48 1272.44 1071.21 1273.12 1070.95 1273.8 1070.7" fill="none" stroke="url(#d24)" stroke-width="2.0"/><path d="M1232.9 935.2 1232.9 936.53 1232.91 937.87 1232.93 939.23 1232.95 940.6 1232.97 941.98 1233 943.37 1233.04 944.77 1233.08 946.19 1233.13 947.61 1233.19 949.04 1233.25 950.48 1233.32 951.93 1233.39 953.39 1233.47 954.85 1233.55 956.32 1233.64 957.8 1233.73 959.28 1233.84 960.77 1233.94 962.26 1234.06 963.75 1234.17 965.25 1234.3 966.75 1234.43 968.26 1234.56 969.76 1234.71 971.27 1234.85 972.77 1235.01 974.28 1235.16 975.79 1235.33 977.29 1235.5 978.79 1235.68 980.29 1235.86 981.79 1236.05 983.28 1236.24 984.77 1236.44 986.26 1236.64 987.74 1236.85 989.21 1237.07 990.68 1237.29 992.14 1237.52 993.59 1237.76 995.04 1237.99 996.47 1238.24 997.9 1238.49 999.32 1238.75 1000.73 1239.01 1002.12 1239.28 1003.51 1239.55 1004.88 1239.83 1006.25 1240.12 1007.6 1240.41 1008.94 1240.71 1010.26 1241.01 1011.57 1241.32 1012.87 1241.64 1014.15 1241.96 1015.42 1242.28 1016.67 1242.62 1017.91 1242.95 1019.13 1243.3 1020.34 1243.65 1021.53 1244 1022.7 1244.36 1023.86 1244.73 1025 1245.1 1026.12 1245.48 1027.22 1245.87 1028.31 1246.26 1029.38 1246.65 1030.43 1247.05 1031.46 1247.46 1032.48 1247.87 1033.47 1248.29 1034.45 1248.72 1035.41 1249.15 1036.35 1249.58 1037.27 1250.02 1038.17 1250.47 1039.06 1250.93 1039.92 1251.38 1040.77 1251.85 1041.59 1252.32 1042.4 1252.8 1043.19 1253.28 1043.97 1253.77 1044.72 1254.26 1045.45 1254.76 1046.17 1255.27 1046.87 1255.78 1047.55 1256.29 1048.21 1256.82 1048.86 1257.35 1049.49 1257.88 1050.1 1258.42 1050.69 1258.97 1051.27 1259.52 1051.83 1260.08 1052.37 1260.64 1052.9 1261.21 1053.41 1261.78 1053.9 1262.36 1054.38 1262.95 1054.85 1263.54 1055.3 1264.14 1055.73 1264.74 1056.16 1265.35 1056.56 1265.97 1056.96 1266.59 1057.33 1267.21 1057.7 1267.85 1058.05 1268.49 1058.39 1269.13 1058.72 1269.78 1059.04 1270.44 1059.34 1271.1 1059.64 1271.76 1059.92 1272.44 1060.19 1273.12 1060.45 1273.8 1060.7" fill="none" stroke="url(#d25)" stroke-width="2.0"/><path d="M1240.4 1196.2 1240.4 1194.97 1240.41 1193.74 1240.42 1192.49 1240.44 1191.23 1240.46 1189.96 1240.48 1188.68 1240.52 1187.39 1240.55 1186.1 1240.59 1184.79 1240.64 1183.48 1240.69 1182.15 1240.74 1180.83 1240.8 1179.49 1240.86 1178.15 1240.93 1176.8 1241 1175.44 1241.08 1174.08 1241.16 1172.72 1241.25 1171.35 1241.34 1169.98 1241.44 1168.6 1241.54 1167.22 1241.65 1165.84 1241.76 1164.45 1241.87 1163.06 1241.99 1161.68 1242.12 1160.29 1242.25 1158.9 1242.38 1157.51 1242.52 1156.12 1242.67 1154.73 1242.82 1153.35 1242.97 1151.96 1243.13 1150.58 1243.29 1149.2 1243.46 1147.82 1243.63 1146.45 1243.81 1145.08 1243.99 1143.72 1244.17 1142.36 1244.36 1141.01 1244.56 1139.66 1244.76 1138.32 1244.97 1136.98 1245.18 1135.65 1245.39 1134.33 1245.61 1133.02 1245.83 1131.71 1246.06 1130.42 1246.3 1129.13 1246.53 1127.85 1246.78 1126.59 1247.03 1125.33 1247.28 1124.08 1247.53 1122.84 1247.8 1121.62 1248.06 1120.4 1248.33 1119.2 1248.61 1118.01 1248.89 1116.83 1249.18 1115.67 1249.47 1114.52 1249.76 1113.38 1250.06 1112.25 1250.37 1111.14 1250.67 1110.04 1250.99 1108.96 1251.31 1107.89 1251.63 1106.83 1251.96 1105.79 1252.29 1104.76 1252.63 1103.75 1252.97 1102.75 1253.32 1101.77 1253.67 1100.81 1254.02 1099.86 1254.38 1098.92 1254.75 1098 1255.12 1097.1 1255.49 1096.21 1255.87 1095.34 1256.26 1094.49 1256.65 1093.65 1257.04 1092.82 1257.44 1092.01 1257.84 1091.22 1258.25 1090.45 1258.66 1089.69 1259.08 1088.94 1259.5 1088.21 1259.93 1087.5 1260.36 1086.81 1260.8 1086.12 1261.24 1085.46 1261.69 1084.81 1262.14 1084.17 1262.59 1083.55 1263.05 1082.95 1263.52 1082.36 1263.99 1081.78 1264.46 1081.22 1264.94 1080.68 1265.42 1080.15 1265.91 1079.63 1266.4 1079.13 1266.9 1078.64 1267.4 1078.16 1267.91 1077.7 1268.42 1077.25 1268.94 1076.81 1269.46 1076.39 1269.99 1075.98 1270.52 1075.58 1271.05 1075.2 1271.59 1074.82 1272.14 1074.46 1272.69 1074.11 1273.24 1073.77 1273.8 1073.44" fill="none" stroke="url(#d26)" stroke-width="2.0"/><path d="M1240.4 935.2 1240.4 936.43 1240.41 937.66 1240.42 938.91 1240.44 940.17 1240.46 941.44 1240.48 942.72 1240.52 944.01 1240.55 945.3 1240.59 946.61 1240.64 947.92 1240.69 949.25 1240.74 950.57 1240.8 951.91 1240.86 953.25 1240.93 954.6 1241 955.96 1241.08 957.32 1241.16 958.68 1241.25 960.05 1241.34 961.42 1241.44 962.8 1241.54 964.18 1241.65 965.56 1241.76 966.95 1241.87 968.34 1241.99 969.72 1242.12 971.11 1242.25 972.5 1242.38 973.89 1242.52 975.28 1242.67 976.67 1242.82 978.05 1242.97 979.44 1243.13 980.82 1243.29 982.2 1243.46 983.58 1243.63 984.95 1243.81 986.32 1243.99 987.68 1244.17 989.04 1244.36 990.39 1244.56 991.74 1244.76 993.08 1244.97 994.42 1245.18 995.75 1245.39 997.07 1245.61 998.38 1245.83 999.69 1246.06 1000.98 1246.3 1002.27 1246.53 1003.55 1246.78 1004.81 1247.03 1006.07 1247.28 1007.32 1247.53 1008.56 1247.8 1009.78 1248.06 1011 1248.33 1012.2 1248.61 1013.39 1248.89 1014.57 1249.18 1015.73 1249.47 1016.88 1249.76 1018.02 1250.06 1019.15 1250.37 1020.26 1250.67 1021.36 1250.99 1022.44 1251.31 1023.51 1251.63 1024.57 1251.96 1025.61 1252.29 1026.64 1252.63 1027.65 1252.97 1028.65 1253.32 1029.63 1253.67 1030.59 1254.02 1031.54 1254.38 1032.48 1254.75 1033.4 1255.12 1034.3 1255.49 1035.19 1255.87 1036.06 1256.26 1036.91 1256.65 1037.75 1257.04 1038.58 1257.44 1039.39 1257.84 1040.18 1258.25 1040.95 1258.66 1041.71 1259.08 1042.46 1259.5 1043.19 1259.93 1043.9 1260.36 1044.59 1260.8 1045.28 1261.24 1045.94 1261.69 1046.59 1262.14 1047.23 1262.59 1047.85 1263.05 1048.45 1263.52 1049.04 1263.99 1049.62 1264.46 1050.18 1264.94 1050.72 1265.42 1051.25 1265.91 1051.77 1266.4 1052.27 1266.9 1052.76 1267.4 1053.24 1267.91 1053.7 1268.42 1054.15 1268.94 1054.59 1269.46 1055.01 1269.99 1055.42 1270.52 1055.82 1271.05 1056.2 1271.59 1056.58 1272.14 1056.94 1272.69 1057.29 1273.24 1057.63 1273.8 1057.96" fill="none" stroke="url(#d27)" stroke-width="2.0"/><path d="M1248.6 1196.2 1248.6 1195.11 1248.61 1194.01 1248.62 1192.9 1248.63 1191.79 1248.64 1190.67 1248.66 1189.53 1248.69 1188.4 1248.71 1187.25 1248.74 1186.1 1248.78 1184.94 1248.82 1183.77 1248.86 1182.6 1248.9 1181.42 1248.95 1180.23 1249 1179.04 1249.06 1177.85 1249.11 1176.65 1249.18 1175.44 1249.24 1174.24 1249.31 1173.02 1249.38 1171.81 1249.46 1170.59 1249.54 1169.37 1249.63 1168.14 1249.71 1166.91 1249.8 1165.68 1249.9 1164.45 1250 1163.22 1250.1 1161.99 1250.2 1160.75 1250.31 1159.52 1250.42 1158.28 1250.54 1157.05 1250.66 1155.81 1250.78 1154.58 1250.91 1153.35 1251.04 1152.12 1251.17 1150.89 1251.31 1149.66 1251.45 1148.44 1251.59 1147.21 1251.74 1146 1251.89 1144.78 1252.05 1143.57 1252.2 1142.36 1252.37 1141.16 1252.53 1139.96 1252.7 1138.76 1252.87 1137.57 1253.05 1136.39 1253.23 1135.21 1253.41 1134.04 1253.6 1132.88 1253.79 1131.72 1253.98 1130.56 1254.18 1129.42 1254.38 1128.28 1254.59 1127.15 1254.79 1126.03 1255.01 1124.91 1255.22 1123.81 1255.44 1122.71 1255.66 1121.62 1255.89 1120.54 1256.12 1119.47 1256.35 1118.41 1256.59 1117.36 1256.83 1116.32 1257.07 1115.29 1257.32 1114.26 1257.57 1113.25 1257.83 1112.25 1258.08 1111.26 1258.34 1110.28 1258.61 1109.32 1258.88 1108.36 1259.15 1107.42 1259.43 1106.48 1259.71 1105.56 1259.99 1104.65 1260.28 1103.75 1260.57 1102.87 1260.86 1101.99 1261.16 1101.13 1261.46 1100.28 1261.76 1099.44 1262.07 1098.62 1262.38 1097.8 1262.7 1097 1263.01 1096.22 1263.34 1095.44 1263.66 1094.68 1263.99 1093.93 1264.32 1093.19 1264.66 1092.46 1265 1091.75 1265.34 1091.05 1265.69 1090.36 1266.04 1089.69 1266.4 1089.03 1266.75 1088.38 1267.11 1087.74 1267.48 1087.11 1267.85 1086.5 1268.22 1085.9 1268.59 1085.31 1268.97 1084.74 1269.36 1084.17 1269.74 1083.62 1270.13 1083.08 1270.53 1082.56 1270.92 1082.04 1271.32 1081.53 1271.73 1081.04 1272.13 1080.56 1272.55 1080.09 1272.96 1079.63 1273.38 1079.18 1273.8 1078.75" fill="none" stroke="url(#d28)" stroke-width="2.0"/><path d="M1248.6 935.2 1248.6 936.29 1248.61 937.39 1248.62 938.5 1248.63 939.61 1248.64 940.73 1248.66 941.87 1248.69 943 1248.71 944.15 1248.74 945.3 1248.78 946.46 1248.82 947.63 1248.86 948.8 1248.9 949.98 1248.95 951.17 1249 952.36 1249.06 953.55 1249.11 954.75 1249.18 955.96 1249.24 957.16 1249.31 958.38 1249.38 959.59 1249.46 960.81 1249.54 962.03 1249.63 963.26 1249.71 964.49 1249.8 965.72 1249.9 966.95 1250 968.18 1250.1 969.41 1250.2 970.65 1250.31 971.88 1250.42 973.12 1250.54 974.35 1250.66 975.59 1250.78 976.82 1250.91 978.05 1251.04 979.28 1251.17 980.51 1251.31 981.74 1251.45 982.96 1251.59 984.19 1251.74 985.4 1251.89 986.62 1252.05 987.83 1252.2 989.04 1252.37 990.24 1252.53 991.44 1252.7 992.64 1252.87 993.83 1253.05 995.01 1253.23 996.19 1253.41 997.36 1253.6 998.52 1253.79 999.68 1253.98 1000.84 1254.18 1001.98 1254.38 1003.12 1254.59 1004.25 1254.79 1005.37 1255.01 1006.49 1255.22 1007.59 1255.44 1008.69 1255.66 1009.78 1255.89 1010.86 1256.12 1011.93 1256.35 1012.99 1256.59 1014.04 1256.83 1015.08 1257.07 1016.11 1257.32 1017.14 1257.57 1018.15 1257.83 1019.15 1258.08 1020.14 1258.34 1021.12 1258.61 1022.08 1258.88 1023.04 1259.15 1023.98 1259.43 1024.92 1259.71 1025.84 1259.99 1026.75 1260.28 1027.65 1260.57 1028.53 1260.86 1029.41 1261.16 1030.27 1261.46 1031.12 1261.76 1031.96 1262.07 1032.78 1262.38 1033.6 1262.7 1034.4 1263.01 1035.18 1263.34 1035.96 1263.66 1036.72 1263.99 1037.47 1264.32 1038.21 1264.66 1038.94 1265 1039.65 1265.34 1040.35 1265.69 1041.04 1266.04 1041.71 1266.4 1042.37 1266.75 1043.02 1267.11 1043.66 1267.48 1044.29 1267.85 1044.9 1268.22 1045.5 1268.59 1046.09 1268.97 1046.66 1269.36 1047.23 1269.74 1047.78 1270.13 1048.32 1270.53 1048.84 1270.92 1049.36 1271.32 1049.87 1271.73 1050.36 1272.13 1050.84 1272.55 1051.31 1272.96 1051.77 1273.38 1052.22 1273.8 1052.65" fill="none" stroke="url(#d29)" stroke-width="2.0"/><path d="M1253.8 1196.2 1253.8 1195.21 1253.81 1194.22 1253.81 1193.22 1253.82 1192.22 1253.84 1191.2 1253.85 1190.18 1253.87 1189.16 1253.89 1188.13 1253.91 1187.09 1253.94 1186.04 1253.97 1184.99 1254 1183.94 1254.04 1182.88 1254.08 1181.82 1254.12 1180.75 1254.16 1179.67 1254.21 1178.59 1254.26 1177.51 1254.31 1176.42 1254.36 1175.34 1254.42 1174.24 1254.48 1173.15 1254.55 1172.05 1254.61 1170.94 1254.68 1169.84 1254.75 1168.73 1254.83 1167.62 1254.91 1166.51 1254.99 1165.4 1255.07 1164.29 1255.16 1163.17 1255.25 1162.06 1255.34 1160.94 1255.43 1159.82 1255.53 1158.71 1255.63 1157.59 1255.73 1156.47 1255.84 1155.36 1255.95 1154.24 1256.06 1153.13 1256.17 1152.01 1256.29 1150.9 1256.41 1149.79 1256.53 1148.68 1256.66 1147.58 1256.79 1146.47 1256.92 1145.37 1257.05 1144.28 1257.19 1143.18 1257.33 1142.09 1257.47 1141 1257.62 1139.92 1257.77 1138.84 1257.92 1137.76 1258.07 1136.69 1258.23 1135.62 1258.39 1134.56 1258.55 1133.5 1258.72 1132.45 1258.88 1131.4 1259.06 1130.36 1259.23 1129.33 1259.41 1128.3 1259.58 1127.28 1259.77 1126.26 1259.95 1125.25 1260.14 1124.25 1260.33 1123.25 1260.52 1122.26 1260.72 1121.28 1260.92 1120.31 1261.12 1119.34 1261.33 1118.38 1261.53 1117.43 1261.74 1116.49 1261.96 1115.55 1262.17 1114.62 1262.39 1113.71 1262.61 1112.8 1262.84 1111.9 1263.07 1111 1263.3 1110.12 1263.53 1109.25 1263.77 1108.38 1264 1107.53 1264.25 1106.68 1264.49 1105.84 1264.74 1105.02 1264.99 1104.2 1265.24 1103.39 1265.5 1102.59 1265.75 1101.81 1266.02 1101.03 1266.28 1100.26 1266.55 1099.5 1266.82 1098.75 1267.09 1098.02 1267.36 1097.29 1267.64 1096.57 1267.92 1095.86 1268.21 1095.17 1268.49 1094.48 1268.78 1093.8 1269.08 1093.14 1269.37 1092.48 1269.67 1091.84 1269.97 1091.2 1270.27 1090.58 1270.58 1089.96 1270.89 1089.36 1271.2 1088.77 1271.52 1088.18 1271.83 1087.61 1272.15 1087.04 1272.48 1086.49 1272.8 1085.95 1273.13 1085.42 1273.47 1084.89 1273.8 1084.38" fill="none" stroke="url(#d30)" stroke-width="2.0"/><path d="M1253.8 935.2 1253.8 936.19 1253.81 937.18 1253.81 938.18 1253.82 939.18 1253.84 940.2 1253.85 941.22 1253.87 942.24 1253.89 943.27 1253.91 944.31 1253.94 945.36 1253.97 946.41 1254 947.46 1254.04 948.52 1254.08 949.58 1254.12 950.65 1254.16 951.73 1254.21 952.81 1254.26 953.89 1254.31 954.98 1254.36 956.06 1254.42 957.16 1254.48 958.25 1254.55 959.35 1254.61 960.46 1254.68 961.56 1254.75 962.67 1254.83 963.78 1254.91 964.89 1254.99 966 1255.07 967.11 1255.16 968.23 1255.25 969.34 1255.34 970.46 1255.43 971.58 1255.53 972.69 1255.63 973.81 1255.73 974.93 1255.84 976.04 1255.95 977.16 1256.06 978.27 1256.17 979.39 1256.29 980.5 1256.41 981.61 1256.53 982.72 1256.66 983.82 1256.79 984.93 1256.92 986.03 1257.05 987.12 1257.19 988.22 1257.33 989.31 1257.47 990.4 1257.62 991.48 1257.77 992.56 1257.92 993.64 1258.07 994.71 1258.23 995.78 1258.39 996.84 1258.55 997.9 1258.72 998.95 1258.88 1000 1259.06 1001.04 1259.23 1002.07 1259.41 1003.1 1259.58 1004.12 1259.77 1005.14 1259.95 1006.15 1260.14 1007.15 1260.33 1008.15 1260.52 1009.14 1260.72 1010.12 1260.92 1011.09 1261.12 1012.06 1261.33 1013.02 1261.53 1013.97 1261.74 1014.91 1261.96 1015.85 1262.17 1016.78 1262.39 1017.69 1262.61 1018.6 1262.84 1019.5 1263.07 1020.4 1263.3 1021.28 1263.53 1022.15 1263.77 1023.02 1264 1023.87 1264.25 1024.72 1264.49 1025.56 1264.74 1026.38 1264.99 1027.2 1265.24 1028.01 1265.5 1028.81 1265.75 1029.59 1266.02 1030.37 1266.28 1031.14 1266.55 1031.9 1266.82 1032.65 1267.09 1033.38 1267.36 1034.11 1267.64 1034.83 1267.92 1035.54 1268.21 1036.23 1268.49 1036.92 1268.78 1037.6 1269.08 1038.26 1269.37 1038.92 1269.67 1039.56 1269.97 1040.2 1270.27 1040.82 1270.58 1041.44 1270.89 1042.04 1271.2 1042.63 1271.52 1043.22 1271.83 1043.79 1272.15 1044.36 1272.48 1044.91 1272.8 1045.45 1273.13 1045.98 1273.47 1046.51 1273.8 1047.02" fill="none" stroke="url(#d31)" stroke-width="2.0"/><path d="M1259.7 1196.2 1259.7 1195.36 1259.7 1194.51 1259.71 1193.66 1259.72 1192.8 1259.72 1191.94 1259.74 1191.07 1259.75 1190.2 1259.76 1189.32 1259.78 1188.44 1259.8 1187.56 1259.82 1186.67 1259.84 1185.77 1259.87 1184.88 1259.9 1183.98 1259.92 1183.07 1259.95 1182.16 1259.99 1181.25 1260.02 1180.33 1260.06 1179.41 1260.1 1178.49 1260.14 1177.57 1260.18 1176.64 1260.23 1175.71 1260.27 1174.77 1260.32 1173.84 1260.37 1172.9 1260.43 1171.96 1260.48 1171.02 1260.54 1170.07 1260.6 1169.13 1260.66 1168.18 1260.72 1167.23 1260.78 1166.28 1260.85 1165.33 1260.92 1164.38 1260.99 1163.43 1261.06 1162.47 1261.14 1161.52 1261.21 1160.57 1261.29 1159.61 1261.37 1158.66 1261.46 1157.7 1261.54 1156.75 1261.63 1155.79 1261.72 1154.84 1261.81 1153.89 1261.9 1152.93 1261.99 1151.98 1262.09 1151.03 1262.19 1150.08 1262.29 1149.14 1262.39 1148.19 1262.5 1147.25 1262.6 1146.3 1262.71 1145.36 1262.82 1144.42 1262.94 1143.49 1263.05 1142.55 1263.17 1141.62 1263.28 1140.69 1263.4 1139.77 1263.53 1138.84 1263.65 1137.92 1263.78 1137.01 1263.91 1136.09 1264.04 1135.18 1264.17 1134.28 1264.3 1133.37 1264.44 1132.48 1264.58 1131.58 1264.72 1130.69 1264.86 1129.8 1265.01 1128.92 1265.15 1128.04 1265.3 1127.17 1265.45 1126.3 1265.6 1125.44 1265.76 1124.58 1265.91 1123.72 1266.07 1122.88 1266.23 1122.03 1266.4 1121.19 1266.56 1120.36 1266.73 1119.53 1266.89 1118.71 1267.06 1117.9 1267.24 1117.09 1267.41 1116.28 1267.59 1115.48 1267.77 1114.69 1267.95 1113.91 1268.13 1113.13 1268.31 1112.35 1268.5 1111.59 1268.69 1110.83 1268.88 1110.07 1269.07 1109.33 1269.26 1108.59 1269.46 1107.85 1269.66 1107.13 1269.86 1106.41 1270.06 1105.69 1270.26 1104.99 1270.47 1104.29 1270.68 1103.6 1270.89 1102.91 1271.1 1102.23 1271.31 1101.56 1271.53 1100.9 1271.75 1100.24 1271.97 1099.6 1272.19 1098.96 1272.41 1098.32 1272.64 1097.7 1272.87 1097.08 1273.1 1096.47 1273.33 1095.86 1273.56 1095.27 1273.8 1094.68" fill="none" stroke="url(#d32)" stroke-width="2.0"/><path d="M1259.7 935.2 1259.7 936.04 1259.7 936.89 1259.71 937.74 1259.72 938.6 1259.72 939.46 1259.74 940.33 1259.75 941.2 1259.76 942.08 1259.78 942.96 1259.8 943.84 1259.82 944.73 1259.84 945.63 1259.87 946.52 1259.9 947.42 1259.92 948.33 1259.95 949.24 1259.99 950.15 1260.02 951.07 1260.06 951.99 1260.1 952.91 1260.14 953.83 1260.18 954.76 1260.23 955.69 1260.27 956.63 1260.32 957.56 1260.37 958.5 1260.43 959.44 1260.48 960.38 1260.54 961.33 1260.6 962.27 1260.66 963.22 1260.72 964.17 1260.78 965.12 1260.85 966.07 1260.92 967.02 1260.99 967.97 1261.06 968.93 1261.14 969.88 1261.21 970.83 1261.29 971.79 1261.37 972.74 1261.46 973.7 1261.54 974.65 1261.63 975.61 1261.72 976.56 1261.81 977.51 1261.9 978.47 1261.99 979.42 1262.09 980.37 1262.19 981.32 1262.29 982.26 1262.39 983.21 1262.5 984.15 1262.6 985.1 1262.71 986.04 1262.82 986.98 1262.94 987.91 1263.05 988.85 1263.17 989.78 1263.28 990.71 1263.4 991.63 1263.53 992.56 1263.65 993.48 1263.78 994.39 1263.91 995.31 1264.04 996.22 1264.17 997.12 1264.3 998.03 1264.44 998.92 1264.58 999.82 1264.72 1000.71 1264.86 1001.6 1265.01 1002.48 1265.15 1003.36 1265.3 1004.23 1265.45 1005.1 1265.6 1005.96 1265.76 1006.82 1265.91 1007.68 1266.07 1008.52 1266.23 1009.37 1266.4 1010.21 1266.56 1011.04 1266.73 1011.87 1266.89 1012.69 1267.06 1013.5 1267.24 1014.31 1267.41 1015.12 1267.59 1015.92 1267.77 1016.71 1267.95 1017.49 1268.13 1018.27 1268.31 1019.05 1268.5 1019.81 1268.69 1020.57 1268.88 1021.33 1269.07 1022.07 1269.26 1022.81 1269.46 1023.55 1269.66 1024.27 1269.86 1024.99 1270.06 1025.71 1270.26 1026.41 1270.47 1027.11 1270.68 1027.8 1270.89 1028.49 1271.1 1029.17 1271.31 1029.84 1271.53 1030.5 1271.75 1031.16 1271.97 1031.8 1272.19 1032.44 1272.41 1033.08 1272.64 1033.7 1272.87 1034.32 1273.1 1034.93 1273.33 1035.54 1273.56 1036.13 1273.8 1036.72" fill="none" stroke="url(#d33)" stroke-width="2.0"/><path d="M1266.7 1196.2 1266.7 1195.59 1266.7 1194.98 1266.7 1194.36 1266.71 1193.74 1266.71 1193.12 1266.72 1192.5 1266.72 1191.87 1266.73 1191.24 1266.74 1190.61 1266.75 1189.98 1266.76 1189.34 1266.77 1188.7 1266.78 1188.06 1266.8 1187.42 1266.81 1186.77 1266.83 1186.13 1266.84 1185.48 1266.86 1184.83 1266.88 1184.17 1266.9 1183.52 1266.92 1182.86 1266.94 1182.2 1266.97 1181.54 1266.99 1180.87 1267.01 1180.21 1267.04 1179.54 1267.07 1178.87 1267.09 1178.2 1267.12 1177.53 1267.15 1176.86 1267.18 1176.19 1267.21 1175.51 1267.25 1174.83 1267.28 1174.15 1267.31 1173.47 1267.35 1172.79 1267.39 1172.11 1267.42 1171.43 1267.46 1170.75 1267.5 1170.06 1267.54 1169.37 1267.58 1168.69 1267.63 1168 1267.67 1167.31 1267.72 1166.62 1267.76 1165.93 1267.81 1165.24 1267.86 1164.55 1267.9 1163.86 1267.95 1163.17 1268 1162.48 1268.06 1161.79 1268.11 1161.1 1268.16 1160.4 1268.22 1159.71 1268.27 1159.02 1268.33 1158.33 1268.39 1157.63 1268.45 1156.94 1268.5 1156.25 1268.57 1155.56 1268.63 1154.86 1268.69 1154.17 1268.75 1153.48 1268.82 1152.79 1268.88 1152.1 1268.95 1151.41 1269.02 1150.72 1269.09 1150.04 1269.16 1149.35 1269.23 1148.66 1269.3 1147.98 1269.37 1147.29 1269.45 1146.61 1269.52 1145.92 1269.6 1145.24 1269.67 1144.56 1269.75 1143.88 1269.83 1143.2 1269.91 1142.53 1269.99 1141.85 1270.07 1141.17 1270.15 1140.5 1270.24 1139.83 1270.32 1139.16 1270.41 1138.49 1270.49 1137.83 1270.58 1137.16 1270.67 1136.5 1270.76 1135.83 1270.85 1135.18 1270.94 1134.52 1271.04 1133.86 1271.13 1133.21 1271.22 1132.56 1271.32 1131.91 1271.42 1131.26 1271.52 1130.61 1271.61 1129.97 1271.71 1129.33 1271.81 1128.69 1271.92 1128.05 1272.02 1127.42 1272.12 1126.79 1272.23 1126.16 1272.33 1125.53 1272.44 1124.91 1272.55 1124.29 1272.66 1123.67 1272.77 1123.05 1272.88 1122.44 1272.99 1121.83 1273.1 1121.22 1273.22 1120.62 1273.33 1120.01 1273.45 1119.42 1273.56 1118.82 1273.68 1118.23 1273.8 1117.64" fill="none" stroke="url(#d34)" stroke-width="2.0"/><path d="M1266.7 935.2 1266.7 935.81 1266.7 936.42 1266.7 937.04 1266.71 937.66 1266.71 938.28 1266.72 938.9 1266.72 939.53 1266.73 940.16 1266.74 940.79 1266.75 941.42 1266.76 942.06 1266.77 942.7 1266.78 943.34 1266.8 943.98 1266.81 944.63 1266.83 945.27 1266.84 945.92 1266.86 946.57 1266.88 947.23 1266.9 947.88 1266.92 948.54 1266.94 949.2 1266.97 949.86 1266.99 950.53 1267.01 951.19 1267.04 951.86 1267.07 952.53 1267.09 953.2 1267.12 953.87 1267.15 954.54 1267.18 955.21 1267.21 955.89 1267.25 956.57 1267.28 957.25 1267.31 957.93 1267.35 958.61 1267.39 959.29 1267.42 959.97 1267.46 960.65 1267.5 961.34 1267.54 962.03 1267.58 962.71 1267.63 963.4 1267.67 964.09 1267.72 964.78 1267.76 965.47 1267.81 966.16 1267.86 966.85 1267.9 967.54 1267.95 968.23 1268 968.92 1268.06 969.61 1268.11 970.3 1268.16 971 1268.22 971.69 1268.27 972.38 1268.33 973.07 1268.39 973.77 1268.45 974.46 1268.5 975.15 1268.57 975.84 1268.63 976.54 1268.69 977.23 1268.75 977.92 1268.82 978.61 1268.88 979.3 1268.95 979.99 1269.02 980.68 1269.09 981.36 1269.16 982.05 1269.23 982.74 1269.3 983.42 1269.37 984.11 1269.45 984.79 1269.52 985.48 1269.6 986.16 1269.67 986.84 1269.75 987.52 1269.83 988.2 1269.91 988.87 1269.99 989.55 1270.07 990.23 1270.15 990.9 1270.24 991.57 1270.32 992.24 1270.41 992.91 1270.49 993.57 1270.58 994.24 1270.67 994.9 1270.76 995.57 1270.85 996.22 1270.94 996.88 1271.04 997.54 1271.13 998.19 1271.22 998.84 1271.32 999.49 1271.42 1000.14 1271.52 1000.79 1271.61 1001.43 1271.71 1002.07 1271.81 1002.71 1271.92 1003.35 1272.02 1003.98 1272.12 1004.61 1272.23 1005.24 1272.33 1005.87 1272.44 1006.49 1272.55 1007.11 1272.66 1007.73 1272.77 1008.35 1272.88 1008.96 1272.99 1009.57 1273.1 1010.18 1273.22 1010.78 1273.33 1011.39 1273.45 1011.98 1273.56 1012.58 1273.68 1013.17 1273.8 1013.76" fill="none" stroke="url(#d35)" stroke-width="2.0"/></g>
<rect x="209.2" y="950.9" width="687.5" height="95.9" fill="#fff" stroke="#000" stroke-width="1.6"/>
<text transform="translate(211.54,983) scale(1.1162,1)" font-size="41.22">dry-tip regime</text>
<text transform="translate(211.45,1033) scale(0.9485,1)" font-size="47.25">emergent</text>
<text transform="translate(395.94,1032.26) scale(0.9723,1)" font-size="41.08" font-style="italic">p</text>
<path d="M427.6 1001.2C413.47 1010.75 413.47 1035.05 427.6 1044.6L428.7 1044.6C416.03 1035.05 416.03 1010.75 428.7 1001.2Z"/>
<text transform="translate(431.5,1032.8) scale(1.1797,1)" font-size="43.36" font-weight="bold">x</text>
<path d="M460.3 1001.2C472.83 1010.75 472.83 1035.05 460.3 1044.6L459.2 1044.6C470.27 1035.05 470.27 1010.75 459.2 1001.2Z"/>
<text transform="translate(486.16,1033) scale(0.9863,1)" font-size="46.36">outcompetes</text>
<text transform="translate(733.34,1032.39) scale(0.9654,1)" font-size="41.37" font-style="italic">p</text>
<text transform="translate(752.96,1038.89) scale(1.1891,1)" font-size="32.23" font-style="italic">osm</text>
<path d="M830.3 1001.2C814.97 1010.48 814.97 1034.12 830.3 1043.4L831.4 1043.4C817.53 1034.12 817.53 1010.48 831.4 1001.2Z"/>
<text transform="translate(832.61,1032.8) scale(1.1233,1)" font-size="43.36" font-weight="bold">x</text>
<path d="M859.2 1001.2C875.33 1010.48 875.33 1034.12 859.2 1043.4L858.1 1043.4C872.77 1034.12 872.77 1010.48 858.1 1001.2Z"/>
<rect x="186.7" y="935.5" width="1087.1" height="260.7" fill="none" stroke="#000" stroke-width="3.3"/>
<text transform="translate(63.58,985.9) scale(1.0239,1)" font-size="42.40">1.0</text>
<text transform="translate(63.58,1173) scale(1.0239,1)" font-size="42.40">1.0</text>
<text transform="translate(107.6,1129.24) rotate(-90) scale(1.2228,1)" font-size="41.17" font-style="italic">r</text>
<path d="M75.1 1085.6C84.47 1097.33 108.33 1097.33 117.7 1085.6L117.7 1084.6C108.33 1095 84.47 1095 75.1 1084.6Z"/>
<text transform="translate(107.03,1080.55) rotate(-90) scale(1.1885,1)" font-size="41.02" font-style="italic">μ</text>
<text transform="translate(107.6,1057.65) rotate(-90) scale(1.3124,1)" font-size="41.17" font-style="italic">m</text>
<path d="M75.1 1017C84.47 1005.13 108.33 1005.13 117.7 1017L117.7 1018C108.33 1007.47 84.47 1007.47 75.1 1018Z"/>
<text transform="translate(159.23,1257.5) scale(1.0403,1)" font-size="42.26">0.0</text>
<text transform="translate(376.62,1257.5) scale(1.0557,1)" font-size="42.26">0.2</text>
<text transform="translate(594.1,1257.5) scale(1.0208,1)" font-size="42.26">0.4</text>
<text transform="translate(811.5,1257.5) scale(1.0330,1)" font-size="42.26">0.6</text>
<text transform="translate(1028.91,1257.5) scale(1.0403,1)" font-size="42.26">0.8</text>
<text transform="translate(1245.58,1257.5) scale(1.0274,1)" font-size="42.26">1.0</text>
<text transform="translate(664.38,1258.1) scale(1.0866,1)" font-size="39.22" font-style="italic">z</text>
<path d="M706.4 1226C692.67 1235.06 692.67 1258.14 706.4 1267.2L707.5 1267.2C695.23 1258.14 695.23 1235.06 707.5 1226Z"/>
<text transform="translate(707.61,1258.1) scale(1.3661,1)" font-size="38.20" font-style="italic">mm</text>
<path d="M783.9 1226C798.57 1235.06 798.57 1258.14 783.9 1267.2L782.8 1267.2C796 1258.14 796 1235.06 782.8 1226Z"/>
<defs><linearGradient id="cb2" x1="0" y1="0" x2="0" y2="1"><stop offset="0.000" stop-color="#800000"/><stop offset="0.062" stop-color="#bf0000"/><stop offset="0.125" stop-color="#ff0000"/><stop offset="0.188" stop-color="#ff4000"/><stop offset="0.250" stop-color="#ff8000"/><stop offset="0.312" stop-color="#ffbf00"/><stop offset="0.375" stop-color="#ffff00"/><stop offset="0.438" stop-color="#bfff40"/><stop offset="0.500" stop-color="#80ff80"/><stop offset="0.562" stop-color="#40ffbf"/><stop offset="0.625" stop-color="#00ffff"/><stop offset="0.688" stop-color="#00bfff"/><stop offset="0.750" stop-color="#0080ff"/><stop offset="0.812" stop-color="#0040ff"/><stop offset="0.875" stop-color="#0000ff"/><stop offset="0.938" stop-color="#0000bf"/><stop offset="1.000" stop-color="#000080"/></linearGradient></defs>
<rect x="1365.5" y="916.8" width="59.2" height="299.1" fill="url(#cb2)" stroke="#000" stroke-width="2" stroke-linejoin="round"/>
<path d="M1366.5 1066.35H1383.4M1406.8 1066.35H1424.5" stroke="#8c8c8c" stroke-width="1.1"/>
<text transform="translate(1439.09,930.58) scale(1.0172,1)" font-size="42.53">50</text>
<text transform="translate(1438.56,1232.66) scale(1.0194,1)" font-size="44.90">0</text>
<text transform="translate(1471.6,1129.09) rotate(-90) scale(1.1041,1)" font-size="41.17" font-style="italic">w</text>
<path d="M1439.8 1084.25C1449.06 1096.18 1472.64 1096.18 1481.9 1084.25L1481.9 1083.4C1472.64 1094.2 1449.06 1094.2 1439.8 1083.4Z"/>
<path d="M1440 1017.15C1449.24 1004.95 1472.76 1004.95 1482 1017.15L1482 1018C1472.76 1006.93 1449.24 1006.93 1440 1018Z"/>
<rect x="1460.1" y="1025.3" width="1.9" height="50.9"/>
<text transform="translate(1454.9,1076.29) rotate(-90) scale(1.4716,1)" font-size="28.44" font-style="italic">nm</text>
<text transform="translate(1486.23,1057.53) rotate(-90) scale(1.2435,1)" font-size="28.07" font-style="italic">s</text>
<text transform="translate(-1.15,958.75) scale(1.3275,1)" font-size="52.15" font-weight="bold">B</text>
<text transform="translate(51.02,964.81) scale(0.8119,1)" font-size="61.21" font-weight="bold">’</text>
<path d="M157.6 1340.8v8.5M157.6 1649.1v-8.5M216 1340.8v8.5M216 1649.1v-8.5M274.4 1340.8v8.5M274.4 1649.1v-8.5M332.8 1340.8v8.5M332.8 1649.1v-8.5M391.2 1340.8v8.5M391.2 1649.1v-8.5M134.6 1623.3h8.5M414.9 1623.3h-8.5M134.6 1494.85h8.5M414.9 1494.85h-8.5M134.6 1366.4h8.5M414.9 1366.4h-8.5" stroke="#a0a0a0" stroke-width="1.3" fill="none"/>
<path d="M134.6 1340.8V1649.1H414.9" fill="none" stroke="#262626" stroke-width="1.7" stroke-linejoin="round"/>
<path d="M414.9 1339.95V1649.95" stroke="#262626" stroke-width="1.7"/>
<path d="M133.75 1340.8H415.75" stroke="#727272" stroke-width="1.7"/>
<path d="M157.6 1366.4 159.07 1366.63 160.54 1366.87 162.01 1367.12 163.48 1367.37 164.95 1367.62 166.42 1367.88 167.88 1368.15 169.35 1368.41 170.82 1368.69 172.29 1368.97 173.76 1369.25 175.23 1369.53 176.7 1369.82 178.17 1370.12 179.64 1370.42 181.11 1370.71 182.58 1371 184.05 1371.29 185.51 1371.59 186.98 1371.88 188.45 1372.19 189.92 1372.51 191.39 1372.83 192.86 1373.18 194.33 1373.53 195.8 1373.91 197.27 1374.31 198.74 1374.73 200.21 1375.18 201.68 1375.67 203.14 1376.22 204.61 1376.81 206.08 1377.45 207.55 1378.13 209.02 1378.84 210.49 1379.58 211.96 1380.35 213.43 1381.13 214.9 1381.92 216.37 1382.72 217.84 1383.53 219.31 1384.33 220.77 1385.12 222.24 1385.91 223.71 1386.7 225.18 1387.5 226.65 1388.3 228.12 1389.12 229.59 1389.94 231.06 1390.79 232.53 1391.64 234 1392.51 235.47 1393.41 236.94 1394.32 238.41 1395.25 239.87 1396.2 241.34 1397.18 242.81 1398.18 244.28 1399.22 245.75 1400.29 247.22 1401.39 248.69 1402.52 250.16 1403.67 251.63 1404.86 253.1 1406.07 254.57 1407.3 256.04 1408.56 257.5 1409.83 258.97 1411.12 260.44 1412.43 261.91 1413.76 263.38 1415.1 264.85 1416.46 266.32 1417.85 267.79 1419.26 269.26 1420.71 270.73 1422.18 272.2 1423.68 273.67 1425.2 275.13 1426.74 276.6 1428.31 278.07 1429.89 279.54 1431.49 281.01 1433.1 282.48 1434.72 283.95 1436.36 285.42 1438.01 286.89 1439.68 288.36 1441.36 289.83 1443.06 291.3 1444.78 292.76 1446.51 294.23 1448.27 295.7 1450.05 297.17 1451.85 298.64 1453.67 300.11 1455.52 301.58 1457.39 303.05 1459.29 304.52 1461.21 305.99 1463.15 307.46 1465.13 308.93 1467.13 310.39 1469.17 311.86 1471.24 313.33 1473.33 314.8 1475.46 316.27 1477.61 317.74 1479.79 319.21 1481.99 320.68 1484.22 322.15 1486.48 323.62 1488.75 325.09 1491.05 326.56 1493.36 328.03 1495.7 329.49 1498.07 330.96 1500.46 332.43 1502.89 333.9 1505.34 335.37 1507.82 336.84 1510.33 338.31 1512.86 339.78 1515.42 341.25 1518.01 342.72 1520.62 344.19 1523.27 345.66 1525.93 347.12 1528.62 348.59 1531.34 350.06 1534.08 351.53 1536.86 353 1539.67 354.47 1542.5 355.94 1545.37 357.41 1548.27 358.88 1551.2 360.35 1554.16 361.82 1557.15 363.29 1560.17 364.75 1563.21 366.22 1566.28 367.69 1569.39 369.16 1572.51 370.63 1575.67 372.1 1578.86 373.57 1582.09 375.04 1585.34 376.51 1588.64 377.98 1591.96 379.45 1595.32 380.92 1598.71 382.38 1602.13 383.85 1605.58 385.32 1609.07 386.79 1612.58 388.26 1616.12 389.73 1619.7 391.2 1623.3" fill="none" stroke="#000" stroke-width="4" stroke-linejoin="round"/>
<path d="M157.6 1357.14L157.6 1378.74M163.95 1359.2L151.25 1376.68M167.87 1364.6L147.33 1371.28M167.87 1371.28L147.33 1364.6M163.95 1376.68L151.25 1359.2M178.84 1359.45L178.84 1381.05M185.18 1361.52L172.49 1378.99M189.11 1366.92L168.56 1373.59M189.11 1373.59L168.56 1366.92M185.18 1378.99L172.49 1361.52M200.07 1364.33L200.07 1385.93M206.42 1366.4L193.72 1383.87M210.34 1371.8L189.8 1378.47M210.34 1378.47L189.8 1371.8M206.42 1383.87L193.72 1366.4M221.31 1374.61L221.31 1396.21M227.66 1376.67L214.96 1394.15M231.58 1382.07L211.04 1388.75M231.58 1388.75L211.04 1382.07M227.66 1394.15L214.96 1376.67M242.55 1387.2L242.55 1408.8M248.89 1389.26L236.2 1406.74M252.82 1394.66L232.27 1401.34M252.82 1401.34L232.27 1394.66M248.89 1406.74L236.2 1389.26M263.78 1404.67L263.78 1426.27M270.13 1406.73L257.43 1424.21M274.05 1412.13L253.51 1418.81M274.05 1418.81L253.51 1412.13M270.13 1424.21L257.43 1406.73M285.02 1426.76L285.02 1448.36M291.37 1428.82L278.67 1446.3M295.29 1434.22L274.75 1440.9M295.29 1440.9L274.75 1434.22M291.37 1446.3L278.67 1428.82M306.25 1452.71L306.25 1474.31M312.6 1454.77L299.91 1472.25M316.53 1460.17L295.98 1466.85M316.53 1466.85L295.98 1460.17M312.6 1472.25L299.91 1454.77M327.49 1484.05L327.49 1505.65M333.84 1486.11L321.14 1503.59M337.76 1491.51L317.22 1498.19M337.76 1498.19L317.22 1491.51M333.84 1503.59L321.14 1486.11M348.73 1520.79L348.73 1542.39M355.08 1522.85L342.38 1540.32M359 1528.25L338.46 1534.92M359 1534.92L338.46 1528.25M355.08 1540.32L342.38 1522.85M369.96 1563.43L369.96 1585.03M376.31 1565.49L363.62 1582.97M380.24 1570.89L359.69 1577.57M380.24 1577.57L359.69 1570.89M376.31 1582.97L363.62 1565.49M391.2 1612.24L391.2 1633.84M397.55 1614.31L384.85 1631.78M401.47 1619.71L380.93 1626.38M401.47 1626.38L380.93 1619.71M397.55 1631.78L384.85 1614.31" stroke="#ff0000" stroke-width="2.4" fill="none"/>
<path d="M516.6 1340.8v8.5M516.6 1649.1v-8.5M575 1340.8v8.5M575 1649.1v-8.5M633.4 1340.8v8.5M633.4 1649.1v-8.5M691.8 1340.8v8.5M691.8 1649.1v-8.5M750.2 1340.8v8.5M750.2 1649.1v-8.5M493.6 1623.3h8.5M773.9 1623.3h-8.5M493.6 1494.85h8.5M773.9 1494.85h-8.5M493.6 1366.4h8.5M773.9 1366.4h-8.5" stroke="#a0a0a0" stroke-width="1.3" fill="none"/>
<path d="M493.6 1340.8V1649.1H773.9" fill="none" stroke="#262626" stroke-width="1.7" stroke-linejoin="round"/>
<path d="M773.9 1339.95V1649.95" stroke="#262626" stroke-width="1.7"/>
<path d="M492.75 1340.8H774.75" stroke="#727272" stroke-width="1.7"/>
<path d="M516.6 1623.3 518.07 1622.21 519.54 1621.12 521.01 1620.02 522.48 1618.92 523.95 1617.81 525.42 1616.7 526.88 1615.58 528.35 1614.46 529.82 1613.33 531.29 1612.19 532.76 1611.05 534.23 1609.91 535.7 1608.76 537.17 1607.6 538.64 1606.44 540.11 1605.27 541.58 1604.1 543.05 1602.92 544.51 1601.74 545.98 1600.55 547.45 1599.35 548.92 1598.15 550.39 1596.94 551.86 1595.73 553.33 1594.51 554.8 1593.29 556.27 1592.06 557.74 1590.83 559.21 1589.59 560.68 1588.34 562.14 1587.09 563.61 1585.83 565.08 1584.56 566.55 1583.29 568.02 1582.02 569.49 1580.73 570.96 1579.44 572.43 1578.15 573.9 1576.85 575.37 1575.54 576.84 1574.23 578.31 1572.91 579.77 1571.58 581.24 1570.25 582.71 1568.91 584.18 1567.57 585.65 1566.22 587.12 1564.86 588.59 1563.5 590.06 1562.13 591.53 1560.75 593 1559.37 594.47 1557.98 595.94 1556.58 597.41 1555.18 598.87 1553.77 600.34 1552.35 601.81 1550.93 603.28 1549.5 604.75 1548.06 606.22 1546.62 607.69 1545.17 609.16 1543.71 610.63 1542.25 612.1 1540.78 613.57 1539.3 615.04 1537.82 616.5 1536.32 617.97 1534.83 619.44 1533.32 620.91 1531.81 622.38 1530.29 623.85 1528.76 625.32 1527.23 626.79 1525.68 628.26 1524.14 629.73 1522.58 631.2 1521.02 632.67 1519.44 634.13 1517.87 635.6 1516.28 637.07 1514.69 638.54 1513.09 640.01 1511.48 641.48 1509.86 642.95 1508.24 644.42 1506.61 645.89 1504.97 647.36 1503.32 648.83 1501.66 650.3 1500 651.76 1498.33 653.23 1496.65 654.7 1494.97 656.17 1493.27 657.64 1491.57 659.11 1489.86 660.58 1488.14 662.05 1486.42 663.52 1484.68 664.99 1482.94 666.46 1481.19 667.93 1479.43 669.39 1477.66 670.86 1475.88 672.33 1474.1 673.8 1472.31 675.27 1470.51 676.74 1468.7 678.21 1466.88 679.68 1465.05 681.15 1463.21 682.62 1461.37 684.09 1459.52 685.56 1457.66 687.03 1455.78 688.49 1453.91 689.96 1452.02 691.43 1450.12 692.9 1448.21 694.37 1446.3 695.84 1444.37 697.31 1442.44 698.78 1440.5 700.25 1438.55 701.72 1436.59 703.19 1434.62 704.66 1432.64 706.12 1430.65 707.59 1428.65 709.06 1426.64 710.53 1424.62 712 1422.6 713.47 1420.56 714.94 1418.51 716.41 1416.46 717.88 1414.39 719.35 1412.32 720.82 1410.23 722.29 1408.14 723.75 1406.03 725.22 1403.92 726.69 1401.79 728.16 1399.66 729.63 1397.51 731.1 1395.36 732.57 1393.19 734.04 1391.02 735.51 1388.83 736.98 1386.64 738.45 1384.43 739.92 1382.21 741.38 1379.99 742.85 1377.75 744.32 1375.5 745.79 1373.24 747.26 1370.97 748.73 1368.69 750.2 1366.4" fill="none" stroke="#000" stroke-width="4" stroke-linejoin="round"/>
<path d="M516.6 1612.5L516.6 1634.1M522.95 1614.56L510.25 1632.04M526.87 1619.96L506.33 1626.64M526.87 1626.64L506.33 1619.96M522.95 1632.04L510.25 1614.56M537.84 1594.52L537.84 1616.12M544.18 1596.58L531.49 1614.05M548.11 1601.98L527.56 1608.65M548.11 1608.65L527.56 1601.98M544.18 1614.05L531.49 1596.58M559.07 1576.53L559.07 1598.13M565.42 1578.6L552.72 1596.07M569.34 1584L548.8 1590.67M569.34 1590.67L548.8 1584M565.42 1596.07L552.72 1578.6M580.31 1558.55L580.31 1580.15M586.66 1560.61L573.96 1578.09M590.58 1566.01L570.04 1572.69M590.58 1572.69L570.04 1566.01M586.66 1578.09L573.96 1560.61M601.55 1541.6L601.55 1563.2M607.89 1543.66L595.2 1561.13M611.82 1549.06L591.27 1555.73M611.82 1555.73L591.27 1549.06M607.89 1561.13L595.2 1543.66M622.78 1520.79L622.78 1542.39M629.13 1522.85L616.43 1540.32M633.05 1528.25L612.51 1534.92M633.05 1534.92L612.51 1528.25M629.13 1540.32L616.43 1522.85M644.02 1498.44L644.02 1520.04M650.37 1500.5L637.67 1517.97M654.29 1505.9L633.75 1512.57M654.29 1512.57L633.75 1505.9M650.37 1517.97L637.67 1500.5M665.25 1478.66L665.25 1500.26M671.6 1480.72L658.91 1498.19M675.53 1486.12L654.98 1492.79M675.53 1492.79L654.98 1486.12M671.6 1498.19L658.91 1480.72M686.49 1457.59L686.49 1479.19M692.84 1459.65L680.14 1477.13M696.76 1465.05L676.22 1471.73M696.76 1471.73L676.22 1465.05M692.84 1477.13L680.14 1459.65M707.73 1424.19L707.73 1445.79M714.08 1426.25L701.38 1443.73M718 1431.65L697.46 1438.33M718 1438.33L697.46 1431.65M714.08 1443.73L701.38 1426.25M728.96 1393.11L728.96 1414.71M735.31 1395.17L722.62 1412.64M739.24 1400.57L718.69 1407.24M739.24 1407.24L718.69 1400.57M735.31 1412.64L722.62 1395.17M750.2 1365.36L750.2 1386.96M756.55 1367.42L743.85 1384.9M760.47 1372.82L739.93 1379.5M760.47 1379.5L739.93 1372.82M756.55 1384.9L743.85 1367.42" stroke="#ff0000" stroke-width="2.4" fill="none"/>
<path d="M876.2 1340.8v8.5M876.2 1649.1v-8.5M934.6 1340.8v8.5M934.6 1649.1v-8.5M993 1340.8v8.5M993 1649.1v-8.5M1051.4 1340.8v8.5M1051.4 1649.1v-8.5M1109.8 1340.8v8.5M1109.8 1649.1v-8.5M853.2 1623.3h8.5M1133.5 1623.3h-8.5M853.2 1494.85h8.5M1133.5 1494.85h-8.5M853.2 1366.4h8.5M1133.5 1366.4h-8.5" stroke="#a0a0a0" stroke-width="1.3" fill="none"/>
<path d="M853.2 1340.8V1649.1H1133.5" fill="none" stroke="#262626" stroke-width="1.7" stroke-linejoin="round"/>
<path d="M1133.5 1339.95V1649.95" stroke="#262626" stroke-width="1.7"/>
<path d="M852.35 1340.8H1134.35" stroke="#727272" stroke-width="1.7"/>
<path d="M876.2 1623.3 877.67 1622.46 879.14 1621.62 880.61 1620.78 882.08 1619.94 883.55 1619.09 885.02 1618.24 886.48 1617.39 887.95 1616.54 889.42 1615.68 890.89 1614.82 892.36 1613.96 893.83 1613.1 895.3 1612.23 896.77 1611.36 898.24 1610.49 899.71 1609.62 901.18 1608.75 902.65 1607.87 904.11 1606.99 905.58 1606.11 907.05 1605.23 908.52 1604.34 909.99 1603.45 911.46 1602.56 912.93 1601.67 914.4 1600.77 915.87 1599.86 917.34 1598.95 918.81 1598.04 920.28 1597.13 921.74 1596.21 923.21 1595.29 924.68 1594.36 926.15 1593.44 927.62 1592.51 929.09 1591.57 930.56 1590.63 932.03 1589.68 933.5 1588.73 934.97 1587.78 936.44 1586.81 937.91 1585.84 939.37 1584.87 940.84 1583.88 942.31 1582.89 943.78 1581.9 945.25 1580.91 946.72 1579.91 948.19 1578.91 949.66 1577.89 951.13 1576.87 952.6 1575.84 954.07 1574.8 955.54 1573.75 957.01 1572.68 958.47 1571.61 959.94 1570.51 961.41 1569.41 962.88 1568.28 964.35 1567.15 965.82 1566 967.29 1564.84 968.76 1563.67 970.23 1562.48 971.7 1561.28 973.17 1560.06 974.64 1558.84 976.1 1557.6 977.57 1556.34 979.04 1555.07 980.51 1553.79 981.98 1552.49 983.45 1551.18 984.92 1549.85 986.39 1548.5 987.86 1547.12 989.33 1545.73 990.8 1544.33 992.27 1542.91 993.73 1541.47 995.2 1540.03 996.67 1538.57 998.14 1537.11 999.61 1535.63 1001.08 1534.15 1002.55 1532.67 1004.02 1531.18 1005.49 1529.69 1006.96 1528.2 1008.43 1526.71 1009.9 1525.2 1011.36 1523.69 1012.83 1522.17 1014.3 1520.64 1015.77 1519.08 1017.24 1517.51 1018.71 1515.92 1020.18 1514.31 1021.65 1512.66 1023.12 1510.99 1024.59 1509.29 1026.06 1507.56 1027.53 1505.79 1028.99 1503.99 1030.46 1502.16 1031.93 1500.3 1033.4 1498.41 1034.87 1496.5 1036.34 1494.57 1037.81 1492.61 1039.28 1490.63 1040.75 1488.63 1042.22 1486.62 1043.69 1484.59 1045.16 1482.54 1046.63 1480.48 1048.09 1478.41 1049.56 1476.31 1051.03 1474.19 1052.5 1472.05 1053.97 1469.89 1055.44 1467.7 1056.91 1465.49 1058.38 1463.26 1059.85 1461 1061.32 1458.72 1062.79 1456.42 1064.26 1454.08 1065.72 1451.73 1067.19 1449.34 1068.66 1446.93 1070.13 1444.49 1071.6 1442.02 1073.07 1439.52 1074.54 1437 1076.01 1434.44 1077.48 1431.86 1078.95 1429.25 1080.42 1426.6 1081.89 1423.93 1083.35 1421.22 1084.82 1418.48 1086.29 1415.71 1087.76 1412.9 1089.23 1410.06 1090.7 1407.18 1092.17 1404.27 1093.64 1401.31 1095.11 1398.32 1096.58 1395.28 1098.05 1392.21 1099.52 1389.11 1100.98 1385.97 1102.45 1382.79 1103.92 1379.58 1105.39 1376.33 1106.86 1373.05 1108.33 1369.74 1109.8 1366.4" fill="none" stroke="#000" stroke-width="4" stroke-linejoin="round"/>
<path d="M876.2 1612.5L876.2 1634.1M882.55 1614.56L869.85 1632.04M886.47 1619.96L865.93 1626.64M886.47 1626.64L865.93 1619.96M882.55 1632.04L869.85 1614.56M897.44 1600.17L897.44 1621.77M903.78 1602.23L891.09 1619.71M907.71 1607.63L887.16 1614.31M907.71 1614.31L887.16 1607.63M903.78 1619.71L891.09 1602.23M918.67 1587.32L918.67 1608.92M925.02 1589.39L912.32 1606.86M928.94 1594.79L908.4 1601.46M928.94 1601.46L908.4 1594.79M925.02 1606.86L912.32 1589.39M939.91 1573.71L939.91 1595.31M946.26 1575.77L933.56 1593.25M950.18 1581.17L929.64 1587.85M950.18 1587.85L929.64 1581.17M946.26 1593.25L933.56 1575.77M961.15 1558.81L961.15 1580.41M967.49 1560.87L954.8 1578.35M971.42 1566.27L950.87 1572.95M971.42 1572.95L950.87 1566.27M967.49 1578.35L954.8 1560.87M982.38 1541.34L982.38 1562.94M988.73 1543.4L976.03 1560.88M992.65 1548.8L972.11 1555.48M992.65 1555.48L972.11 1548.8M988.73 1560.88L976.03 1543.4M1003.62 1520.79L1003.62 1542.39M1009.97 1522.85L997.27 1540.32M1013.89 1528.25L993.35 1534.92M1013.89 1534.92L993.35 1528.25M1009.97 1540.32L997.27 1522.85M1024.85 1498.18L1024.85 1519.78M1031.2 1500.24L1018.51 1517.72M1035.13 1505.64L1014.58 1512.32M1035.13 1512.32L1014.58 1505.64M1031.2 1517.72L1018.51 1500.24M1046.09 1470.43L1046.09 1492.03M1052.44 1472.5L1039.74 1489.97M1056.36 1477.9L1035.82 1484.57M1056.36 1484.57L1035.82 1477.9M1052.44 1489.97L1039.74 1472.5M1067.33 1438.32L1067.33 1459.92M1073.68 1440.38L1060.98 1457.86M1077.6 1445.78L1057.06 1452.46M1077.6 1452.46L1057.06 1445.78M1073.68 1457.86L1060.98 1440.38M1088.56 1400.56L1088.56 1422.16M1094.91 1402.62L1082.22 1420.09M1098.84 1408.02L1078.29 1414.69M1098.84 1414.69L1078.29 1408.02M1094.91 1420.09L1082.22 1402.62M1109.8 1355.6L1109.8 1377.2M1116.15 1357.66L1103.45 1375.14M1120.07 1363.06L1099.53 1369.74M1120.07 1369.74L1099.53 1363.06M1116.15 1375.14L1103.45 1357.66" stroke="#ff0000" stroke-width="2.4" fill="none"/>
<path d="M1235.4 1340.8v8.5M1235.4 1649.1v-8.5M1293.8 1340.8v8.5M1293.8 1649.1v-8.5M1352.2 1340.8v8.5M1352.2 1649.1v-8.5M1410.6 1340.8v8.5M1410.6 1649.1v-8.5M1469 1340.8v8.5M1469 1649.1v-8.5M1212.4 1623.3h8.5M1492.7 1623.3h-8.5M1212.4 1494.85h8.5M1492.7 1494.85h-8.5M1212.4 1366.4h8.5M1492.7 1366.4h-8.5" stroke="#a0a0a0" stroke-width="1.3" fill="none"/>
<path d="M1212.4 1340.8V1649.1H1493.3" fill="none" stroke="#262626" stroke-width="1.7" stroke-linejoin="round"/>
<path d="M1493.3 1339.95V1649.95" stroke="#7a7a7a" stroke-width="1.7"/>
<path d="M1211.55 1340.8H1494.15" stroke="#727272" stroke-width="1.7"/>
<path d="M1235.4 1623.3 1236.87 1623.17 1238.34 1623.02 1239.81 1622.86 1241.28 1622.68 1242.75 1622.49 1244.22 1622.29 1245.68 1622.08 1247.15 1621.86 1248.62 1621.63 1250.09 1621.39 1251.56 1621.14 1253.03 1620.88 1254.5 1620.61 1255.97 1620.34 1257.44 1620.06 1258.91 1619.77 1260.38 1619.46 1261.85 1619.13 1263.31 1618.78 1264.78 1618.41 1266.25 1618.04 1267.72 1617.64 1269.19 1617.24 1270.66 1616.81 1272.13 1616.38 1273.6 1615.93 1275.07 1615.47 1276.54 1615 1278.01 1614.52 1279.48 1614.02 1280.94 1613.5 1282.41 1612.95 1283.88 1612.37 1285.35 1611.78 1286.82 1611.16 1288.29 1610.53 1289.76 1609.87 1291.23 1609.2 1292.7 1608.51 1294.17 1607.8 1295.64 1607.08 1297.11 1606.34 1298.57 1605.59 1300.04 1604.83 1301.51 1604.03 1302.98 1603.19 1304.45 1602.33 1305.92 1601.45 1307.39 1600.53 1308.86 1599.6 1310.33 1598.64 1311.8 1597.66 1313.27 1596.67 1314.74 1595.66 1316.21 1594.64 1317.67 1593.6 1319.14 1592.56 1320.61 1591.51 1322.08 1590.44 1323.55 1589.36 1325.02 1588.26 1326.49 1587.14 1327.96 1586 1329.43 1584.83 1330.9 1583.66 1332.37 1582.46 1333.84 1581.24 1335.3 1580 1336.77 1578.74 1338.24 1577.46 1339.71 1576.17 1341.18 1574.85 1342.65 1573.51 1344.12 1572.15 1345.59 1570.75 1347.06 1569.33 1348.53 1567.89 1350 1566.42 1351.47 1564.92 1352.93 1563.41 1354.4 1561.87 1355.87 1560.31 1357.34 1558.72 1358.81 1557.12 1360.28 1555.5 1361.75 1553.86 1363.22 1552.2 1364.69 1550.51 1366.16 1548.79 1367.63 1547.04 1369.1 1545.27 1370.56 1543.46 1372.03 1541.63 1373.5 1539.78 1374.97 1537.91 1376.44 1536.02 1377.91 1534.1 1379.38 1532.17 1380.85 1530.23 1382.32 1528.27 1383.79 1526.29 1385.26 1524.31 1386.73 1522.3 1388.19 1520.28 1389.66 1518.24 1391.13 1516.18 1392.6 1514.09 1394.07 1511.99 1395.54 1509.86 1397.01 1507.71 1398.48 1505.53 1399.95 1503.33 1401.42 1501.11 1402.89 1498.85 1404.36 1496.57 1405.83 1494.26 1407.29 1491.93 1408.76 1489.56 1410.23 1487.16 1411.7 1484.73 1413.17 1482.27 1414.64 1479.78 1416.11 1477.26 1417.58 1474.71 1419.05 1472.14 1420.52 1469.54 1421.99 1466.91 1423.46 1464.26 1424.92 1461.58 1426.39 1458.87 1427.86 1456.14 1429.33 1453.37 1430.8 1450.57 1432.27 1447.74 1433.74 1444.88 1435.21 1441.99 1436.68 1439.06 1438.15 1436.1 1439.62 1433.11 1441.09 1430.09 1442.55 1427.04 1444.02 1423.96 1445.49 1420.85 1446.96 1417.71 1448.43 1414.54 1449.9 1411.33 1451.37 1408.08 1452.84 1404.8 1454.31 1401.48 1455.78 1398.12 1457.25 1394.73 1458.72 1391.31 1460.18 1387.85 1461.65 1384.36 1463.12 1380.83 1464.59 1377.27 1466.06 1373.68 1467.53 1370.05 1469 1366.4" fill="none" stroke="#000" stroke-width="4" stroke-linejoin="round"/>
<path d="M1235.4 1611.22L1235.4 1632.82M1241.75 1613.28L1229.05 1630.75M1245.67 1618.68L1225.13 1625.35M1245.67 1625.35L1225.13 1618.68M1241.75 1630.75L1229.05 1613.28M1256.64 1609.42L1256.64 1631.02M1262.98 1611.48L1250.29 1628.95M1266.91 1616.88L1246.36 1623.55M1266.91 1623.55L1246.36 1616.88M1262.98 1628.95L1250.29 1611.48M1277.87 1603.77L1277.87 1625.37M1284.22 1605.83L1271.52 1623.3M1288.14 1611.23L1267.6 1617.9M1288.14 1617.9L1267.6 1611.23M1284.22 1623.3L1271.52 1605.83M1299.11 1594.52L1299.11 1616.12M1305.46 1596.58L1292.76 1614.05M1309.38 1601.98L1288.84 1608.65M1309.38 1608.65L1288.84 1601.98M1305.46 1614.05L1292.76 1596.58M1320.35 1580.9L1320.35 1602.5M1326.69 1582.96L1314 1600.44M1330.62 1588.36L1310.07 1595.04M1330.62 1595.04L1310.07 1588.36M1326.69 1600.44L1314 1582.96M1341.58 1563.69L1341.58 1585.29M1347.93 1565.75L1335.23 1583.23M1351.85 1571.15L1331.31 1577.83M1351.85 1577.83L1331.31 1571.15M1347.93 1583.23L1335.23 1565.75M1362.82 1541.85L1362.82 1563.45M1369.17 1543.92L1356.47 1561.39M1373.09 1549.32L1352.55 1555.99M1373.09 1555.99L1352.55 1549.32M1369.17 1561.39L1356.47 1543.92M1384.05 1515.13L1384.05 1536.73M1390.4 1517.2L1377.71 1534.67M1394.33 1522.6L1373.78 1529.27M1394.33 1529.27L1373.78 1522.6M1390.4 1534.67L1377.71 1517.2M1405.29 1484.31L1405.29 1505.91M1411.64 1486.37L1398.94 1503.84M1415.56 1491.77L1395.02 1498.44M1415.56 1498.44L1395.02 1491.77M1411.64 1503.84L1398.94 1486.37M1426.53 1447.83L1426.53 1469.43M1432.88 1449.89L1420.18 1467.36M1436.8 1455.29L1416.26 1461.96M1436.8 1461.96L1416.26 1455.29M1432.88 1467.36L1420.18 1449.89M1447.76 1405.18L1447.76 1426.78M1454.11 1407.24L1441.42 1424.72M1458.04 1412.64L1437.49 1419.32M1458.04 1419.32L1437.49 1412.64M1454.11 1424.72L1441.42 1407.24M1469 1355.6L1469 1377.2M1475.35 1357.66L1462.65 1375.14M1479.27 1363.06L1458.73 1369.74M1479.27 1369.74L1458.73 1363.06M1475.35 1375.14L1462.65 1357.66" stroke="#ff0000" stroke-width="2.4" fill="none"/>
<text transform="translate(117.61,1424.21) rotate(-90) scale(1.0528,1)" font-size="46.92" font-style="italic">p</text>
<text transform="translate(125.87,1400.68) rotate(-90) scale(1.1160,1)" font-size="41.75" font-style="italic">max</text>
<text transform="translate(115.19,1540.5) rotate(-90) scale(1.0458,1)" font-size="47.51">p</text>
<path d="M78.1 1493.8C88.99 1507.4 116.71 1507.4 127.6 1493.8L127.6 1492.9C116.71 1505.3 88.99 1505.3 78.1 1492.9Z"/>
<text transform="translate(115.6,1488.3) rotate(-90) scale(1.1156,1)" font-size="48.15" font-style="italic">z</text>
<path d="M85.44 1482.66C83.21 1481.59 82.84 1478.51 84.45 1476.5C86.06 1474.49 85.69 1471.41 83.46 1470.34" fill="none" stroke="#000" stroke-width="1.6" stroke-linecap="round"/>
<path d="M78.1 1463.2C88.99 1450.13 116.71 1450.13 127.6 1463.2L127.6 1464.1C116.71 1452.23 88.99 1452.23 78.1 1464.1Z"/>
<text transform="translate(127.81,1649.57) rotate(-90) scale(0.9171,1)" font-size="50.68">0</text>
<text transform="translate(479.74,1431.81) rotate(-90) scale(1.1663,1)" font-size="46.93" font-style="italic">w</text>
<rect x="454.9" y="1395.7" width="1.3" height="35.3"/>
<text transform="translate(487.16,1395.37) rotate(-90) scale(1.0751,1)" font-size="43.00" font-style="italic">max</text>
<text transform="translate(475.14,1548.44) rotate(-90) scale(1.1844,1)" font-size="47.15" font-style="italic">w</text>
<rect x="450" y="1511" width="1.3" height="36.1"/>
<path d="M436.7 1488.4C447.74 1502.4 475.86 1502.4 486.9 1488.4L486.9 1487.5C475.86 1500.3 447.74 1500.3 436.7 1487.5Z"/>
<text transform="translate(474.9,1482.9) rotate(-90) scale(1.1103,1)" font-size="48.15" font-style="italic">z</text>
<path d="M445.44 1476.87C443.21 1475.82 442.84 1472.78 444.45 1470.8C446.06 1468.82 445.69 1465.78 443.46 1464.73" fill="none" stroke="#000" stroke-width="1.6" stroke-linecap="round"/>
<path d="M436.7 1457.8C447.74 1444.73 475.86 1444.73 486.9 1457.8L486.9 1458.7C475.86 1446.83 447.74 1446.83 436.7 1458.7Z"/>
<text transform="translate(487.11,1650.01) rotate(-90) scale(0.9385,1)" font-size="50.53">0</text>
<text transform="translate(836.32,1419.35) rotate(-90) scale(1.3453,1)" font-size="49.71" font-style="italic">j</text>
<text transform="translate(845.16,1404.1) rotate(-90) scale(1.0884,1)" font-size="43.20" font-style="italic">max</text>
<text transform="translate(833.86,1535.14) rotate(-90) scale(1.1377,1)" font-size="49.03" font-style="italic">j</text>
<path d="M796.7 1494.4C807.61 1508.4 835.39 1508.4 846.3 1494.4L846.3 1493.5C835.39 1506.3 807.61 1506.3 796.7 1493.5Z"/>
<text transform="translate(834.9,1489.62) rotate(-90) scale(1.0450,1)" font-size="49.67" font-style="italic">z</text>
<path d="M805.32 1482.9C802.58 1481.9 802.12 1479.03 804.1 1477.15C806.08 1475.28 805.62 1472.4 802.88 1471.4" fill="none" stroke="#000" stroke-width="1.6" stroke-linecap="round"/>
<path d="M796.7 1464.5C807.61 1451.43 835.39 1451.43 846.3 1464.5L846.3 1465.4C835.39 1453.53 807.61 1453.53 796.7 1465.4Z"/>
<text transform="translate(846.42,1650.01) rotate(-90) scale(0.9582,1)" font-size="49.50">0</text>
<text transform="translate(1196.27,1425.13) rotate(-90) scale(1.0881,1)" font-size="47.10" font-style="italic">g</text>
<text transform="translate(1203.88,1400.65) rotate(-90) scale(1.1306,1)" font-size="40.50" font-style="italic">max</text>
<text transform="translate(1193.12,1545.72) rotate(-90) scale(1.0232,1)" font-size="45.93" font-style="italic">g</text>
<path d="M1156.1 1498.4C1166.99 1512.4 1194.71 1512.4 1205.6 1498.4L1205.6 1497.5C1194.71 1510.3 1166.99 1510.3 1156.1 1497.5Z"/>
<text transform="translate(1194.2,1492.94) rotate(-90) scale(1.0130,1)" font-size="49.46" font-style="italic">z</text>
<path d="M1164.62 1487.48C1161.88 1486.43 1161.42 1483.41 1163.4 1481.45C1165.38 1479.48 1164.92 1476.47 1162.18 1475.42" fill="none" stroke="#000" stroke-width="1.6" stroke-linecap="round"/>
<path d="M1156.1 1467.8C1166.99 1455.67 1194.71 1455.67 1205.6 1467.8L1205.6 1468.7C1194.71 1457.77 1166.99 1457.77 1156.1 1468.7Z"/>
<text transform="translate(1196.09,1677.62) rotate(-90) scale(0.9485,1)" font-size="47.98" font-style="italic">g</text>
<text transform="translate(1206.3,1655.3) rotate(-90) scale(1.2018,1)" font-size="41.53" font-style="italic">min</text>
<text transform="translate(2.64,1377.67) scale(1.3809,1)" font-size="54.33" font-weight="bold">C</text>
<rect x="528.3" y="1679.4" width="649.5" height="59.2" fill="#fff" stroke="#3a3a3a" stroke-width="1.5"/>
<path d="M546.7 1697L546.7 1718.6M553.05 1699.06L540.35 1716.54M556.97 1704.46L536.43 1711.14M556.97 1711.14L536.43 1704.46M553.05 1716.54L540.35 1699.06" stroke="#ff0000" stroke-width="2.4" fill="none"/>
<path d="M851.4 1708.2H886.7" stroke="#000" stroke-width="4"/>
<text transform="translate(562.65,1721.71) scale(0.9746,1)" font-size="49.89">Simulated</text>
<text transform="translate(774.51,1722.01) scale(0.9498,1)" font-size="50.31">3D</text>
<text transform="translate(896.43,1722.1) scale(0.9414,1)" font-size="51.45">Analytical</text>
<text transform="translate(1112.39,1722) scale(0.9139,1)" font-size="51.20">1D</text>
<path d="M157.6 1768v8.5M157.6 2076.3v-8.5M216 1768v8.5M216 2076.3v-8.5M274.4 1768v8.5M274.4 2076.3v-8.5M332.8 1768v8.5M332.8 2076.3v-8.5M391.2 1768v8.5M391.2 2076.3v-8.5M134.6 2050.2h8.5M414.9 2050.2h-8.5M134.6 1921.85h8.5M414.9 1921.85h-8.5M134.6 1793.5h8.5M414.9 1793.5h-8.5" stroke="#a0a0a0" stroke-width="1.3" fill="none"/>
<path d="M134.6 1768V2076.3H414.9" fill="none" stroke="#262626" stroke-width="1.7" stroke-linejoin="round"/>
<path d="M414.9 1767.15V2077.15" stroke="#262626" stroke-width="1.7"/>
<path d="M133.75 1768H415.75" stroke="#727272" stroke-width="1.7"/>
<path d="M157.6 1793.5 159.07 1793.5 160.54 1793.5 162.01 1793.5 163.48 1793.5 164.95 1793.5 166.42 1793.5 167.88 1793.5 169.35 1793.5 170.82 1793.5 172.29 1793.5 173.76 1793.5 175.23 1793.5 176.7 1793.5 178.17 1793.5 179.64 1793.5 181.11 1793.5 182.58 1793.5 184.05 1793.5 185.51 1793.5 186.98 1793.5 188.45 1793.5 189.92 1793.5 191.39 1793.5 192.86 1793.5 194.33 1793.5 195.8 1793.5 197.27 1793.5 198.74 1793.5 200.21 1793.51 201.68 1793.51 203.14 1793.51 204.61 1793.51 206.08 1793.51 207.55 1793.51 209.02 1793.51 210.49 1793.51 211.96 1793.51 213.43 1793.51 214.9 1793.51 216.37 1793.51 217.84 1793.52 219.31 1793.52 220.77 1793.52 222.24 1793.52 223.71 1793.52 225.18 1793.52 226.65 1793.53 228.12 1793.53 229.59 1793.53 231.06 1793.53 232.53 1793.54 234 1793.54 235.47 1793.54 236.94 1793.55 238.41 1793.55 239.87 1793.56 241.34 1793.56 242.81 1793.57 244.28 1793.57 245.75 1793.58 247.22 1793.58 248.69 1793.59 250.16 1793.6 251.63 1793.61 253.1 1793.62 254.57 1793.63 256.04 1793.64 257.5 1793.65 258.97 1793.66 260.44 1793.68 261.91 1793.69 263.38 1793.71 264.85 1793.73 266.32 1793.75 267.79 1793.77 269.26 1793.79 270.73 1793.81 272.2 1793.84 273.67 1793.87 275.13 1793.9 276.6 1793.94 278.07 1793.97 279.54 1794.01 281.01 1794.06 282.48 1794.1 283.95 1794.16 285.42 1794.21 286.89 1794.27 288.36 1794.34 289.83 1794.41 291.3 1794.49 292.76 1794.57 294.23 1794.66 295.7 1794.76 297.17 1794.87 298.64 1794.99 300.11 1795.11 301.58 1795.25 303.05 1795.4 304.52 1795.56 305.99 1795.74 307.46 1795.93 308.93 1796.13 310.39 1796.36 311.86 1796.6 313.33 1796.87 314.8 1797.15 316.27 1797.47 317.74 1797.8 319.21 1798.17 320.68 1798.57 322.15 1799 323.62 1799.47 325.09 1799.98 326.56 1800.53 328.03 1801.13 329.49 1801.78 330.96 1802.49 332.43 1803.25 333.9 1804.08 335.37 1804.98 336.84 1805.96 338.31 1807.02 339.78 1808.18 341.25 1809.43 342.72 1810.78 344.19 1812.26 345.66 1813.85 347.12 1815.59 348.59 1817.47 350.06 1819.51 351.53 1821.73 353 1824.13 354.47 1826.74 355.94 1829.58 357.41 1832.65 358.88 1835.98 360.35 1839.6 361.82 1843.53 363.29 1847.79 364.75 1852.42 366.22 1857.44 367.69 1862.89 369.16 1868.8 370.63 1875.22 372.1 1882.18 373.57 1889.73 375.04 1897.93 376.51 1906.83 377.98 1916.48 379.45 1926.96 380.92 1938.33 382.38 1950.67 383.85 1964.06 385.32 1978.59 386.79 1994.36 388.26 2011.48 389.73 2030.05 391.2 2050.2" fill="none" stroke="#000" stroke-width="4" stroke-linejoin="round"/>
<path d="M157.6 1782.7L157.6 1804.3M163.95 1784.76L151.25 1802.24M167.87 1790.16L147.33 1796.84M167.87 1796.84L147.33 1790.16M163.95 1802.24L151.25 1784.76M178.84 1782.7L178.84 1804.3M185.18 1784.76L172.49 1802.24M189.11 1790.16L168.56 1796.84M189.11 1796.84L168.56 1790.16M185.18 1802.24L172.49 1784.76M200.07 1782.71L200.07 1804.31M206.42 1784.77L193.72 1802.24M210.34 1790.17L189.8 1796.84M210.34 1796.84L189.8 1790.17M206.42 1802.24L193.72 1784.77M221.31 1782.72L221.31 1804.32M227.66 1784.78L214.96 1802.26M231.58 1790.18L211.04 1796.86M231.58 1796.86L211.04 1790.18M227.66 1802.26L214.96 1784.78M242.55 1782.76L242.55 1804.36M248.89 1784.83L236.2 1802.3M252.82 1790.23L232.27 1796.9M252.82 1796.9L232.27 1790.23M248.89 1802.3L236.2 1784.83M263.78 1782.91L263.78 1804.51M270.13 1784.98L257.43 1802.45M274.05 1790.38L253.51 1797.05M274.05 1797.05L253.51 1790.38M270.13 1802.45L257.43 1784.98M285.02 1783.4L285.02 1805M291.37 1785.46L278.67 1802.93M295.29 1790.86L274.75 1797.53M295.29 1797.53L274.75 1790.86M291.37 1802.93L278.67 1785.46M306.25 1784.5L306.25 1806.1M312.6 1786.56L299.91 1804.03M316.53 1791.96L295.98 1798.63M316.53 1798.63L295.98 1791.96M312.6 1804.03L299.91 1786.56M327.49 1790.91L327.49 1812.51M333.84 1792.98L321.14 1810.45M337.76 1798.38L317.22 1805.05M337.76 1805.05L317.22 1798.38M333.84 1810.45L321.14 1792.98M348.73 1807.86L348.73 1829.46M355.08 1809.92L342.38 1827.39M359 1815.32L338.46 1821.99M359 1821.99L338.46 1815.32M355.08 1827.39L342.38 1809.92M369.96 1863.82L369.96 1885.42M376.31 1865.88L363.62 1883.35M380.24 1871.28L359.69 1877.95M380.24 1877.95L359.69 1871.28M376.31 1883.35L363.62 1865.88M391.2 2039.4L391.2 2061M397.55 2041.46L384.85 2058.94M401.47 2046.86L380.93 2053.54M401.47 2053.54L380.93 2046.86M397.55 2058.94L384.85 2041.46" stroke="#ff0000" stroke-width="2.4" fill="none"/>
<path d="M516.6 1768v8.5M516.6 2076.3v-8.5M575 1768v8.5M575 2076.3v-8.5M633.4 1768v8.5M633.4 2076.3v-8.5M691.8 1768v8.5M691.8 2076.3v-8.5M750.2 1768v8.5M750.2 2076.3v-8.5M493.6 2050.2h8.5M773.9 2050.2h-8.5M493.6 1921.85h8.5M773.9 1921.85h-8.5M493.6 1793.5h8.5M773.9 1793.5h-8.5" stroke="#a0a0a0" stroke-width="1.3" fill="none"/>
<path d="M493.6 1768V2076.3H773.9" fill="none" stroke="#262626" stroke-width="1.7" stroke-linejoin="round"/>
<path d="M773.9 1767.15V2077.15" stroke="#262626" stroke-width="1.7"/>
<path d="M492.75 1768H774.75" stroke="#727272" stroke-width="1.7"/>
<path d="M516.6 2050.2 518.07 2050.2 519.54 2050.2 521.01 2050.2 522.48 2050.2 523.95 2050.2 525.42 2050.2 526.88 2050.2 528.35 2050.2 529.82 2050.2 531.29 2050.2 532.76 2050.2 534.23 2050.2 535.7 2050.2 537.17 2050.2 538.64 2050.2 540.11 2050.2 541.58 2050.2 543.05 2050.2 544.51 2050.2 545.98 2050.2 547.45 2050.2 548.92 2050.2 550.39 2050.2 551.86 2050.2 553.33 2050.2 554.8 2050.2 556.27 2050.19 557.74 2050.19 559.21 2050.19 560.68 2050.19 562.14 2050.19 563.61 2050.19 565.08 2050.19 566.55 2050.19 568.02 2050.19 569.49 2050.19 570.96 2050.19 572.43 2050.19 573.9 2050.19 575.37 2050.18 576.84 2050.18 578.31 2050.18 579.77 2050.18 581.24 2050.18 582.71 2050.18 584.18 2050.18 585.65 2050.17 587.12 2050.17 588.59 2050.17 590.06 2050.17 591.53 2050.16 593 2050.16 594.47 2050.16 595.94 2050.15 597.41 2050.15 598.87 2050.14 600.34 2050.14 601.81 2050.13 603.28 2050.13 604.75 2050.12 606.22 2050.11 607.69 2050.11 609.16 2050.1 610.63 2050.09 612.1 2050.08 613.57 2050.07 615.04 2050.06 616.5 2050.05 617.97 2050.04 619.44 2050.02 620.91 2050.01 622.38 2049.99 623.85 2049.97 625.32 2049.95 626.79 2049.93 628.26 2049.91 629.73 2049.89 631.2 2049.86 632.67 2049.83 634.13 2049.8 635.6 2049.76 637.07 2049.73 638.54 2049.69 640.01 2049.64 641.48 2049.59 642.95 2049.54 644.42 2049.49 645.89 2049.43 647.36 2049.36 648.83 2049.29 650.3 2049.21 651.76 2049.13 653.23 2049.04 654.7 2048.94 656.17 2048.83 657.64 2048.71 659.11 2048.59 660.58 2048.45 662.05 2048.3 663.52 2048.14 664.99 2047.96 666.46 2047.77 667.93 2047.56 669.39 2047.34 670.86 2047.1 672.33 2046.83 673.8 2046.54 675.27 2046.23 676.74 2045.89 678.21 2045.53 679.68 2045.13 681.15 2044.7 682.62 2044.23 684.09 2043.72 685.56 2043.17 687.03 2042.57 688.49 2041.92 689.96 2041.21 691.43 2040.45 692.9 2039.62 694.37 2038.72 695.84 2037.74 697.31 2036.68 698.78 2035.52 700.25 2034.27 701.72 2032.92 703.19 2031.44 704.66 2029.85 706.12 2028.11 707.59 2026.23 709.06 2024.19 710.53 2021.97 712 2019.57 713.47 2016.96 714.94 2014.12 716.41 2011.05 717.88 2007.71 719.35 2004.09 720.82 2000.17 722.29 1995.9 723.75 1991.28 725.22 1986.26 726.69 1980.81 728.16 1974.9 729.63 1968.48 731.1 1961.52 732.57 1953.97 734.04 1945.77 735.51 1936.87 736.98 1927.22 738.45 1916.74 739.92 1905.37 741.38 1893.03 742.85 1879.64 744.32 1865.11 745.79 1849.34 747.26 1832.22 748.73 1813.65 750.2 1793.5" fill="none" stroke="#000" stroke-width="4" stroke-linejoin="round"/>
<path d="M516.6 2039.4L516.6 2061M522.95 2041.46L510.25 2058.94M526.87 2046.86L506.33 2053.54M526.87 2053.54L506.33 2046.86M522.95 2058.94L510.25 2041.46M537.84 2039.4L537.84 2061M544.18 2041.46L531.49 2058.94M548.11 2046.86L527.56 2053.54M548.11 2053.54L527.56 2046.86M544.18 2058.94L531.49 2041.46M559.07 2039.39L559.07 2060.99M565.42 2041.46L552.72 2058.93M569.34 2046.86L548.8 2053.53M569.34 2053.53L548.8 2046.86M565.42 2058.93L552.72 2041.46M580.31 2039.38L580.31 2060.98M586.66 2041.44L573.96 2058.92M590.58 2046.84L570.04 2053.52M590.58 2053.52L570.04 2046.84M586.66 2058.92L573.96 2041.44M601.55 2039.33L601.55 2060.93M607.89 2041.4L595.2 2058.87M611.82 2046.8L591.27 2053.47M611.82 2053.47L591.27 2046.8M607.89 2058.87L595.2 2041.4M622.78 2039.19L622.78 2060.79M629.13 2041.25L616.43 2058.72M633.05 2046.65L612.51 2053.32M633.05 2053.32L612.51 2046.65M629.13 2058.72L616.43 2041.25M644.02 2038.7L644.02 2060.3M650.37 2040.77L637.67 2058.24M654.29 2046.17L633.75 2052.84M654.29 2052.84L633.75 2046.17M650.37 2058.24L637.67 2040.77M665.25 2037.13L665.25 2058.73M671.6 2039.19L658.91 2056.67M675.53 2044.59L654.98 2051.27M675.53 2051.27L654.98 2044.59M671.6 2056.67L658.91 2039.19M686.49 2031.99L686.49 2053.59M692.84 2034.06L680.14 2051.53M696.76 2039.46L676.22 2046.13M696.76 2046.13L676.22 2039.46M692.84 2051.53L680.14 2034.06M707.73 2014.24L707.73 2035.84M714.08 2016.31L701.38 2033.78M718 2021.71L697.46 2028.38M718 2028.38L697.46 2021.71M714.08 2033.78L701.38 2016.31M728.96 1959.82L728.96 1981.42M735.31 1961.89L722.62 1979.36M739.24 1967.29L718.69 1973.96M739.24 1973.96L718.69 1967.29M735.31 1979.36L722.62 1961.89M750.2 1792.71L750.2 1814.31M756.55 1794.77L743.85 1812.25M760.47 1800.17L739.93 1806.85M760.47 1806.85L739.93 1800.17M756.55 1812.25L743.85 1794.77" stroke="#ff0000" stroke-width="2.4" fill="none"/>
<path d="M876.2 1768v8.5M876.2 2076.3v-8.5M934.6 1768v8.5M934.6 2076.3v-8.5M993 1768v8.5M993 2076.3v-8.5M1051.4 1768v8.5M1051.4 2076.3v-8.5M1109.8 1768v8.5M1109.8 2076.3v-8.5M853.2 2050.2h8.5M1133.5 2050.2h-8.5M853.2 1921.85h8.5M1133.5 1921.85h-8.5M853.2 1793.5h8.5M1133.5 1793.5h-8.5" stroke="#a0a0a0" stroke-width="1.3" fill="none"/>
<path d="M853.2 1768V2076.3H1133.5" fill="none" stroke="#262626" stroke-width="1.7" stroke-linejoin="round"/>
<path d="M1133.5 1767.15V2077.15" stroke="#262626" stroke-width="1.7"/>
<path d="M852.35 1768H1134.35" stroke="#727272" stroke-width="1.7"/>
<path d="M876.2 2050.2 877.67 2050.2 879.14 2050.2 880.61 2050.2 882.08 2050.2 883.55 2050.2 885.02 2050.2 886.48 2050.2 887.95 2050.2 889.42 2050.2 890.89 2050.2 892.36 2050.2 893.83 2050.2 895.3 2050.2 896.77 2050.2 898.24 2050.2 899.71 2050.2 901.18 2050.2 902.65 2050.2 904.11 2050.2 905.58 2050.2 907.05 2050.2 908.52 2050.2 909.99 2050.2 911.46 2050.2 912.93 2050.2 914.4 2050.2 915.87 2050.2 917.34 2050.2 918.81 2050.2 920.28 2050.2 921.74 2050.2 923.21 2050.2 924.68 2050.2 926.15 2050.2 927.62 2050.2 929.09 2050.2 930.56 2050.19 932.03 2050.19 933.5 2050.19 934.97 2050.19 936.44 2050.19 937.91 2050.19 939.37 2050.19 940.84 2050.19 942.31 2050.19 943.78 2050.19 945.25 2050.19 946.72 2050.19 948.19 2050.18 949.66 2050.18 951.13 2050.18 952.6 2050.18 954.07 2050.18 955.54 2050.18 957.01 2050.17 958.47 2050.17 959.94 2050.17 961.41 2050.17 962.88 2050.16 964.35 2050.16 965.82 2050.15 967.29 2050.15 968.76 2050.15 970.23 2050.14 971.7 2050.14 973.17 2050.13 974.64 2050.12 976.1 2050.12 977.57 2050.11 979.04 2050.1 980.51 2050.09 981.98 2050.08 983.45 2050.07 984.92 2050.06 986.39 2050.04 987.86 2050.03 989.33 2050.01 990.8 2050 992.27 2049.98 993.73 2049.96 995.2 2049.93 996.67 2049.91 998.14 2049.88 999.61 2049.85 1001.08 2049.82 1002.55 2049.79 1004.02 2049.75 1005.49 2049.71 1006.96 2049.66 1008.43 2049.61 1009.9 2049.56 1011.36 2049.5 1012.83 2049.43 1014.3 2049.36 1015.77 2049.28 1017.24 2049.2 1018.71 2049.11 1020.18 2049.01 1021.65 2048.9 1023.12 2048.78 1024.59 2048.65 1026.06 2048.5 1027.53 2048.35 1028.99 2048.18 1030.46 2047.99 1031.93 2047.79 1033.4 2047.56 1034.87 2047.32 1036.34 2047.06 1037.81 2046.77 1039.28 2046.45 1040.75 2046.11 1042.22 2045.73 1043.69 2045.32 1045.16 2044.87 1046.63 2044.38 1048.09 2043.84 1049.56 2043.26 1051.03 2042.62 1052.5 2041.92 1053.97 2041.16 1055.44 2040.33 1056.91 2039.42 1058.38 2038.42 1059.85 2037.34 1061.32 2036.16 1062.79 2034.86 1064.26 2033.45 1065.72 2031.91 1067.19 2030.23 1068.66 2028.39 1070.13 2026.38 1071.6 2024.19 1073.07 2021.79 1074.54 2019.18 1076.01 2016.32 1077.48 2013.2 1078.95 2009.8 1080.42 2006.08 1081.89 2002.02 1083.35 1997.59 1084.82 1992.74 1086.29 1987.45 1087.76 1981.68 1089.23 1975.37 1090.7 1968.48 1092.17 1960.96 1093.64 1952.75 1095.11 1943.78 1096.58 1933.98 1098.05 1923.29 1099.52 1911.61 1100.98 1898.85 1102.45 1884.92 1103.92 1869.7 1105.39 1853.09 1106.86 1834.95 1108.33 1815.14 1109.8 1793.5" fill="none" stroke="#000" stroke-width="4" stroke-linejoin="round"/>
<path d="M876.2 2039.4L876.2 2061M882.55 2041.46L869.85 2058.94M886.47 2046.86L865.93 2053.54M886.47 2053.54L865.93 2046.86M882.55 2058.94L869.85 2041.46M897.44 2039.4L897.44 2061M903.78 2041.46L891.09 2058.94M907.71 2046.86L887.16 2053.54M907.71 2053.54L887.16 2046.86M903.78 2058.94L891.09 2041.46M918.67 2039.4L918.67 2061M925.02 2041.46L912.32 2058.94M928.94 2046.86L908.4 2053.54M928.94 2053.54L908.4 2046.86M925.02 2058.94L912.32 2041.46M939.91 2039.39L939.91 2060.99M946.26 2041.45L933.56 2058.93M950.18 2046.85L929.64 2053.53M950.18 2053.53L929.64 2046.85M946.26 2058.93L933.56 2041.45M961.15 2039.37L961.15 2060.97M967.49 2041.43L954.8 2058.9M971.42 2046.83L950.87 2053.5M971.42 2053.5L950.87 2046.83M967.49 2058.9L954.8 2041.43M982.38 2039.28L982.38 2060.88M988.73 2041.34L976.03 2058.81M992.65 2046.74L972.11 2053.41M992.65 2053.41L972.11 2046.74M988.73 2058.81L976.03 2041.34M1003.62 2038.96L1003.62 2060.56M1009.97 2041.02L997.27 2058.5M1013.89 2046.42L993.35 2053.1M1013.89 2053.1L993.35 2046.42M1009.97 2058.5L997.27 2041.02M1024.85 2037.82L1024.85 2059.42M1031.2 2039.88L1018.51 2057.36M1035.13 2045.28L1014.58 2051.96M1035.13 2051.96L1014.58 2045.28M1031.2 2057.36L1018.51 2039.88M1046.09 2033.76L1046.09 2055.36M1052.44 2035.82L1039.74 2053.3M1056.36 2041.22L1035.82 2047.9M1056.36 2047.9L1035.82 2041.22M1052.44 2053.3L1039.74 2035.82M1067.33 2018.61L1067.33 2040.21M1073.68 2020.67L1060.98 2038.14M1077.6 2026.07L1057.06 2032.74M1077.6 2032.74L1057.06 2026.07M1073.68 2038.14L1060.98 2020.67M1088.56 1965.73L1088.56 1987.33M1094.91 1967.79L1082.22 1985.26M1098.84 1973.19L1078.29 1979.86M1098.84 1979.86L1078.29 1973.19M1094.91 1985.26L1082.22 1967.79M1109.8 1782.7L1109.8 1804.3M1116.15 1784.76L1103.45 1802.24M1120.07 1790.16L1099.53 1796.84M1120.07 1796.84L1099.53 1790.16M1116.15 1802.24L1103.45 1784.76" stroke="#ff0000" stroke-width="2.4" fill="none"/>
<path d="M1235.4 1768v8.5M1235.4 2076.3v-8.5M1293.8 1768v8.5M1293.8 2076.3v-8.5M1352.2 1768v8.5M1352.2 2076.3v-8.5M1410.6 1768v8.5M1410.6 2076.3v-8.5M1469 1768v8.5M1469 2076.3v-8.5M1212.4 2050.2h8.5M1492.7 2050.2h-8.5M1212.4 1921.85h8.5M1492.7 1921.85h-8.5M1212.4 1793.5h8.5M1492.7 1793.5h-8.5" stroke="#a0a0a0" stroke-width="1.3" fill="none"/>
<path d="M1212.4 1768V2076.3H1493.3" fill="none" stroke="#262626" stroke-width="1.7" stroke-linejoin="round"/>
<path d="M1493.3 1767.15V2077.15" stroke="#7a7a7a" stroke-width="1.7"/>
<path d="M1211.55 1768H1494.15" stroke="#727272" stroke-width="1.7"/>
<path d="M1235.4 2050.2 1236.87 2050.2 1238.34 2050.2 1239.81 2050.2 1241.28 2050.2 1242.75 2050.2 1244.22 2050.2 1245.68 2050.2 1247.15 2050.2 1248.62 2050.2 1250.09 2050.2 1251.56 2050.2 1253.03 2050.2 1254.5 2050.2 1255.97 2050.2 1257.44 2050.2 1258.91 2050.2 1260.38 2050.2 1261.85 2050.2 1263.31 2050.2 1264.78 2050.2 1266.25 2050.2 1267.72 2050.2 1269.19 2050.2 1270.66 2050.2 1272.13 2050.2 1273.6 2050.2 1275.07 2050.19 1276.54 2050.19 1278.01 2050.19 1279.48 2050.19 1280.94 2050.19 1282.41 2050.19 1283.88 2050.19 1285.35 2050.19 1286.82 2050.19 1288.29 2050.19 1289.76 2050.19 1291.23 2050.19 1292.7 2050.19 1294.17 2050.18 1295.64 2050.18 1297.11 2050.18 1298.57 2050.18 1300.04 2050.18 1301.51 2050.18 1302.98 2050.18 1304.45 2050.17 1305.92 2050.17 1307.39 2050.17 1308.86 2050.17 1310.33 2050.16 1311.8 2050.16 1313.27 2050.16 1314.74 2050.15 1316.21 2050.15 1317.67 2050.14 1319.14 2050.14 1320.61 2050.13 1322.08 2050.13 1323.55 2050.12 1325.02 2050.11 1326.49 2050.11 1327.96 2050.1 1329.43 2050.09 1330.9 2050.08 1332.37 2050.07 1333.84 2050.06 1335.3 2050.05 1336.77 2050.04 1338.24 2050.02 1339.71 2050.01 1341.18 2049.99 1342.65 2049.97 1344.12 2049.95 1345.59 2049.93 1347.06 2049.91 1348.53 2049.89 1350 2049.86 1351.47 2049.83 1352.93 2049.8 1354.4 2049.76 1355.87 2049.73 1357.34 2049.69 1358.81 2049.64 1360.28 2049.59 1361.75 2049.54 1363.22 2049.49 1364.69 2049.43 1366.16 2049.36 1367.63 2049.29 1369.1 2049.21 1370.56 2049.13 1372.03 2049.04 1373.5 2048.94 1374.97 2048.83 1376.44 2048.71 1377.91 2048.59 1379.38 2048.45 1380.85 2048.3 1382.32 2048.14 1383.79 2047.96 1385.26 2047.77 1386.73 2047.56 1388.19 2047.34 1389.66 2047.1 1391.13 2046.83 1392.6 2046.54 1394.07 2046.23 1395.54 2045.89 1397.01 2045.53 1398.48 2045.13 1399.95 2044.7 1401.42 2044.23 1402.89 2043.72 1404.36 2043.17 1405.83 2042.57 1407.29 2041.92 1408.76 2041.21 1410.23 2040.45 1411.7 2039.62 1413.17 2038.72 1414.64 2037.74 1416.11 2036.68 1417.58 2035.52 1419.05 2034.27 1420.52 2032.92 1421.99 2031.44 1423.46 2029.85 1424.92 2028.11 1426.39 2026.23 1427.86 2024.19 1429.33 2021.97 1430.8 2019.57 1432.27 2016.96 1433.74 2014.12 1435.21 2011.05 1436.68 2007.71 1438.15 2004.09 1439.62 2000.17 1441.09 1995.9 1442.55 1991.28 1444.02 1986.26 1445.49 1980.81 1446.96 1974.9 1448.43 1968.48 1449.9 1961.52 1451.37 1953.97 1452.84 1945.77 1454.31 1936.87 1455.78 1927.22 1457.25 1916.74 1458.72 1905.37 1460.18 1893.03 1461.65 1879.64 1463.12 1865.11 1464.59 1849.34 1466.06 1832.22 1467.53 1813.65 1469 1793.5" fill="none" stroke="#000" stroke-width="4" stroke-linejoin="round"/>
<path d="M1235.4 2039.4L1235.4 2061M1241.75 2041.46L1229.05 2058.94M1245.67 2046.86L1225.13 2053.54M1245.67 2053.54L1225.13 2046.86M1241.75 2058.94L1229.05 2041.46M1256.64 2039.4L1256.64 2061M1262.98 2041.46L1250.29 2058.94M1266.91 2046.86L1246.36 2053.54M1266.91 2053.54L1246.36 2046.86M1262.98 2058.94L1250.29 2041.46M1277.87 2039.39L1277.87 2060.99M1284.22 2041.46L1271.52 2058.93M1288.14 2046.86L1267.6 2053.53M1288.14 2053.53L1267.6 2046.86M1284.22 2058.93L1271.52 2041.46M1299.11 2039.38L1299.11 2060.98M1305.46 2041.44L1292.76 2058.92M1309.38 2046.84L1288.84 2053.52M1309.38 2053.52L1288.84 2046.84M1305.46 2058.92L1292.76 2041.44M1320.35 2039.33L1320.35 2060.93M1326.69 2041.4L1314 2058.87M1330.62 2046.8L1310.07 2053.47M1330.62 2053.47L1310.07 2046.8M1326.69 2058.87L1314 2041.4M1341.58 2039.19L1341.58 2060.79M1347.93 2041.25L1335.23 2058.72M1351.85 2046.65L1331.31 2053.32M1351.85 2053.32L1331.31 2046.65M1347.93 2058.72L1335.23 2041.25M1362.82 2038.7L1362.82 2060.3M1369.17 2040.77L1356.47 2058.24M1373.09 2046.17L1352.55 2052.84M1373.09 2052.84L1352.55 2046.17M1369.17 2058.24L1356.47 2040.77M1384.05 2037.13L1384.05 2058.73M1390.4 2039.19L1377.71 2056.67M1394.33 2044.59L1373.78 2051.27M1394.33 2051.27L1373.78 2044.59M1390.4 2056.67L1377.71 2039.19M1405.29 2031.99L1405.29 2053.59M1411.64 2034.06L1398.94 2051.53M1415.56 2039.46L1395.02 2046.13M1415.56 2046.13L1395.02 2039.46M1411.64 2051.53L1398.94 2034.06M1426.53 2015.25L1426.53 2036.85M1432.88 2017.31L1420.18 2034.79M1436.8 2022.71L1416.26 2029.39M1436.8 2029.39L1416.26 2022.71M1432.88 2034.79L1420.18 2017.31M1447.76 1958.54L1447.76 1980.14M1454.11 1960.6L1441.42 1978.08M1458.04 1966L1437.49 1972.68M1458.04 1972.68L1437.49 1966M1454.11 1978.08L1441.42 1960.6M1469 1782.7L1469 1804.3M1475.35 1784.76L1462.65 1802.24M1479.27 1790.16L1458.73 1796.84M1479.27 1796.84L1458.73 1790.16M1475.35 1802.24L1462.65 1784.76" stroke="#ff0000" stroke-width="2.4" fill="none"/>
<text transform="translate(117.61,1851.21) rotate(-90) scale(1.0528,1)" font-size="46.92" font-style="italic">p</text>
<text transform="translate(125.87,1827.68) rotate(-90) scale(1.1160,1)" font-size="41.75" font-style="italic">max</text>
<text transform="translate(115.19,1967.5) rotate(-90) scale(1.0458,1)" font-size="47.51">p</text>
<path d="M78.1 1920.8C88.99 1934.4 116.71 1934.4 127.6 1920.8L127.6 1919.9C116.71 1932.3 88.99 1932.3 78.1 1919.9Z"/>
<text transform="translate(115.6,1915.3) rotate(-90) scale(1.1156,1)" font-size="48.15" font-style="italic">z</text>
<path d="M85.44 1909.66C83.21 1908.59 82.84 1905.51 84.45 1903.5C86.06 1901.49 85.69 1898.41 83.46 1897.34" fill="none" stroke="#000" stroke-width="1.6" stroke-linecap="round"/>
<path d="M78.1 1890.2C88.99 1877.13 116.71 1877.13 127.6 1890.2L127.6 1891.1C116.71 1879.23 88.99 1879.23 78.1 1891.1Z"/>
<text transform="translate(127.81,2076.57) rotate(-90) scale(0.9171,1)" font-size="50.68">0</text>
<text transform="translate(479.74,1858.81) rotate(-90) scale(1.1663,1)" font-size="46.93" font-style="italic">w</text>
<rect x="454.9" y="1822.7" width="1.3" height="35.3"/>
<text transform="translate(487.16,1822.37) rotate(-90) scale(1.0751,1)" font-size="43.00" font-style="italic">max</text>
<text transform="translate(475.14,1975.44) rotate(-90) scale(1.1844,1)" font-size="47.15" font-style="italic">w</text>
<rect x="450" y="1938" width="1.3" height="36.1"/>
<path d="M436.7 1915.4C447.74 1929.4 475.86 1929.4 486.9 1915.4L486.9 1914.5C475.86 1927.3 447.74 1927.3 436.7 1914.5Z"/>
<text transform="translate(474.9,1909.9) rotate(-90) scale(1.1103,1)" font-size="48.15" font-style="italic">z</text>
<path d="M445.44 1903.87C443.21 1902.82 442.84 1899.78 444.45 1897.8C446.06 1895.82 445.69 1892.78 443.46 1891.73" fill="none" stroke="#000" stroke-width="1.6" stroke-linecap="round"/>
<path d="M436.7 1884.8C447.74 1871.73 475.86 1871.73 486.9 1884.8L486.9 1885.7C475.86 1873.83 447.74 1873.83 436.7 1885.7Z"/>
<text transform="translate(487.11,2077.01) rotate(-90) scale(0.9385,1)" font-size="50.53">0</text>
<text transform="translate(836.32,1846.35) rotate(-90) scale(1.3453,1)" font-size="49.71" font-style="italic">j</text>
<text transform="translate(845.16,1831.1) rotate(-90) scale(1.0884,1)" font-size="43.20" font-style="italic">max</text>
<text transform="translate(833.86,1962.14) rotate(-90) scale(1.1377,1)" font-size="49.03" font-style="italic">j</text>
<path d="M796.7 1921.4C807.61 1935.4 835.39 1935.4 846.3 1921.4L846.3 1920.5C835.39 1933.3 807.61 1933.3 796.7 1920.5Z"/>
<text transform="translate(834.9,1916.62) rotate(-90) scale(1.0450,1)" font-size="49.67" font-style="italic">z</text>
<path d="M805.32 1909.9C802.58 1908.9 802.12 1906.03 804.1 1904.15C806.08 1902.28 805.62 1899.4 802.88 1898.4" fill="none" stroke="#000" stroke-width="1.6" stroke-linecap="round"/>
<path d="M796.7 1891.5C807.61 1878.43 835.39 1878.43 846.3 1891.5L846.3 1892.4C835.39 1880.53 807.61 1880.53 796.7 1892.4Z"/>
<text transform="translate(846.42,2077.01) rotate(-90) scale(0.9582,1)" font-size="49.50">0</text>
<text transform="translate(1196.27,1852.13) rotate(-90) scale(1.0881,1)" font-size="47.10" font-style="italic">g</text>
<text transform="translate(1203.88,1827.65) rotate(-90) scale(1.1306,1)" font-size="40.50" font-style="italic">max</text>
<text transform="translate(1193.12,1972.72) rotate(-90) scale(1.0232,1)" font-size="45.93" font-style="italic">g</text>
<path d="M1156.1 1925.4C1166.99 1939.4 1194.71 1939.4 1205.6 1925.4L1205.6 1924.5C1194.71 1937.3 1166.99 1937.3 1156.1 1924.5Z"/>
<text transform="translate(1194.2,1919.94) rotate(-90) scale(1.0130,1)" font-size="49.46" font-style="italic">z</text>
<path d="M1164.62 1914.48C1161.88 1913.43 1161.42 1910.41 1163.4 1908.45C1165.38 1906.48 1164.92 1903.47 1162.18 1902.42" fill="none" stroke="#000" stroke-width="1.6" stroke-linecap="round"/>
<path d="M1156.1 1894.8C1166.99 1882.67 1194.71 1882.67 1205.6 1894.8L1205.6 1895.7C1194.71 1884.77 1166.99 1884.77 1156.1 1895.7Z"/>
<text transform="translate(1196.09,2104.62) rotate(-90) scale(0.9485,1)" font-size="47.98" font-style="italic">g</text>
<text transform="translate(1206.3,2082.3) rotate(-90) scale(1.2018,1)" font-size="41.53" font-style="italic">min</text>
<text transform="translate(2.64,1815.07) scale(1.3772,1)" font-size="54.47" font-weight="bold">C</text>
<text transform="translate(58.89,1820.07) scale(0.8290,1)" font-size="60.55" font-weight="bold">’</text>
<text transform="translate(145.89,2133.3) scale(0.9223,1)" font-size="51.42">0</text>
<text transform="translate(264.68,2132.5) scale(1.0226,1)" font-size="50.76" font-style="italic">z</text>
<path d="M270.47 2103.32C271.6 2101.02 274.87 2100.64 277 2102.3C279.13 2103.96 282.4 2103.58 283.53 2101.28" fill="none" stroke="#000" stroke-width="1.6" stroke-linecap="round"/>
<text transform="translate(379.48,2133.3) scale(0.8608,1)" font-size="51.81">1</text>
<text transform="translate(504.89,2133.3) scale(0.9223,1)" font-size="51.42">0</text>
<text transform="translate(623.68,2132.5) scale(1.0226,1)" font-size="50.76" font-style="italic">z</text>
<path d="M629.47 2103.32C630.6 2101.02 633.87 2100.64 636 2102.3C638.13 2103.96 641.4 2103.58 642.53 2101.28" fill="none" stroke="#000" stroke-width="1.6" stroke-linecap="round"/>
<text transform="translate(738.48,2133.3) scale(0.8608,1)" font-size="51.81">1</text>
<text transform="translate(864.49,2133.3) scale(0.9223,1)" font-size="51.42">0</text>
<text transform="translate(983.28,2132.5) scale(1.0226,1)" font-size="50.76" font-style="italic">z</text>
<path d="M989.07 2103.32C990.2 2101.02 993.47 2100.64 995.6 2102.3C997.73 2103.96 1001 2103.58 1002.13 2101.28" fill="none" stroke="#000" stroke-width="1.6" stroke-linecap="round"/>
<text transform="translate(1098.08,2133.3) scale(0.8608,1)" font-size="51.81">1</text>
<text transform="translate(1223.69,2133.3) scale(0.9223,1)" font-size="51.42">0</text>
<text transform="translate(1342.48,2132.5) scale(1.0226,1)" font-size="50.76" font-style="italic">z</text>
<path d="M1348.27 2103.32C1349.4 2101.02 1352.67 2100.64 1354.8 2102.3C1356.93 2103.96 1360.2 2103.58 1361.33 2101.28" fill="none" stroke="#000" stroke-width="1.6" stroke-linecap="round"/>
<text transform="translate(1457.28,2133.3) scale(0.8608,1)" font-size="51.81">1</text>
</svg></body></html>
